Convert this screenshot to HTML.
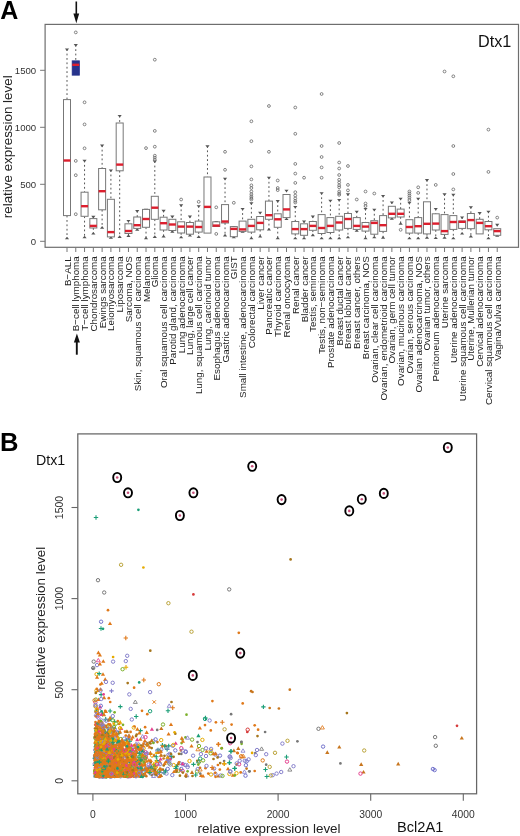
<!DOCTYPE html>
<html><head><meta charset="utf-8"><style>
html,body{margin:0;padding:0;background:#fff;}
svg{display:block;font-family:"Liberation Sans", sans-serif;filter:blur(0.3px);}
</style></head><body>
<svg width="520" height="836" viewBox="0 0 520 836">
<rect width="520" height="836" fill="#fff"/>
<g id="panelA">
<text x="0.3" y="19.2" font-size="25" font-weight="bold" fill="#000">A</text>
<rect x="45.1" y="24.4" width="473.4" height="222.9" fill="none" stroke="#6e6e6e" stroke-width="1.2"/>
<line x1="40.1" y1="241.30" x2="45.1" y2="241.30" stroke="#777" stroke-width="1"/>
<text x="36.2" y="244.70" font-size="9.6" text-anchor="end" fill="#333">0</text>
<line x1="40.1" y1="184.30" x2="45.1" y2="184.30" stroke="#777" stroke-width="1"/>
<text x="36.2" y="187.70" font-size="9.6" text-anchor="end" fill="#333">500</text>
<line x1="40.1" y1="127.30" x2="45.1" y2="127.30" stroke="#777" stroke-width="1"/>
<text x="36.2" y="130.70" font-size="9.6" text-anchor="end" fill="#333">1000</text>
<line x1="40.1" y1="70.30" x2="45.1" y2="70.30" stroke="#777" stroke-width="1"/>
<text x="36.2" y="73.70" font-size="9.6" text-anchor="end" fill="#333">1500</text>
<text transform="translate(12.4,146.8) rotate(-90)" font-size="13.4" text-anchor="middle" fill="#222">relative expression level</text>
<text x="511.3" y="46.7" font-size="16.2" text-anchor="end" fill="#111">Dtx1</text>
<line x1="67.00" y1="247.3" x2="67.00" y2="252" stroke="#777" stroke-width="1"/>
<text transform="translate(70.50,256.3) rotate(-90)" font-size="9.8" text-anchor="end" fill="#222">B−ALL</text>
<line x1="75.78" y1="247.3" x2="75.78" y2="252" stroke="#777" stroke-width="1"/>
<text transform="translate(79.28,256.3) rotate(-90)" font-size="9.8" text-anchor="end" fill="#222">B−cell lymphoma</text>
<line x1="84.56" y1="247.3" x2="84.56" y2="252" stroke="#777" stroke-width="1"/>
<text transform="translate(88.06,256.3) rotate(-90)" font-size="9.8" text-anchor="end" fill="#222">T−cell lymphoma</text>
<line x1="93.34" y1="247.3" x2="93.34" y2="252" stroke="#777" stroke-width="1"/>
<text transform="translate(96.84,256.3) rotate(-90)" font-size="9.8" text-anchor="end" fill="#222">Chondrosarcoma</text>
<line x1="102.12" y1="247.3" x2="102.12" y2="252" stroke="#777" stroke-width="1"/>
<text transform="translate(105.62,256.3) rotate(-90)" font-size="9.8" text-anchor="end" fill="#222">Ewings sarcoma</text>
<line x1="110.90" y1="247.3" x2="110.90" y2="252" stroke="#777" stroke-width="1"/>
<text transform="translate(114.40,256.3) rotate(-90)" font-size="9.8" text-anchor="end" fill="#222">Leiomyosarcoma</text>
<line x1="119.68" y1="247.3" x2="119.68" y2="252" stroke="#777" stroke-width="1"/>
<text transform="translate(123.18,256.3) rotate(-90)" font-size="9.8" text-anchor="end" fill="#222">Liposarcoma</text>
<line x1="128.46" y1="247.3" x2="128.46" y2="252" stroke="#777" stroke-width="1"/>
<text transform="translate(131.96,256.3) rotate(-90)" font-size="9.8" text-anchor="end" fill="#222">Sarcoma, NOS</text>
<line x1="137.24" y1="247.3" x2="137.24" y2="252" stroke="#777" stroke-width="1"/>
<text transform="translate(140.74,256.3) rotate(-90)" font-size="9.8" text-anchor="end" fill="#222">Skin, squamous cell carcinoma</text>
<line x1="146.02" y1="247.3" x2="146.02" y2="252" stroke="#777" stroke-width="1"/>
<text transform="translate(149.52,256.3) rotate(-90)" font-size="9.8" text-anchor="end" fill="#222">Melanoma</text>
<line x1="154.80" y1="247.3" x2="154.80" y2="252" stroke="#777" stroke-width="1"/>
<text transform="translate(158.30,256.3) rotate(-90)" font-size="9.8" text-anchor="end" fill="#222">Glioma</text>
<line x1="163.58" y1="247.3" x2="163.58" y2="252" stroke="#777" stroke-width="1"/>
<text transform="translate(167.08,256.3) rotate(-90)" font-size="9.8" text-anchor="end" fill="#222">Oral squamous cell carcinoma</text>
<line x1="172.36" y1="247.3" x2="172.36" y2="252" stroke="#777" stroke-width="1"/>
<text transform="translate(175.86,256.3) rotate(-90)" font-size="9.8" text-anchor="end" fill="#222">Parotid gland, carcinoma</text>
<line x1="181.14" y1="247.3" x2="181.14" y2="252" stroke="#777" stroke-width="1"/>
<text transform="translate(184.64,256.3) rotate(-90)" font-size="9.8" text-anchor="end" fill="#222">Lung adenocarcinoma</text>
<line x1="189.92" y1="247.3" x2="189.92" y2="252" stroke="#777" stroke-width="1"/>
<text transform="translate(193.42,256.3) rotate(-90)" font-size="9.8" text-anchor="end" fill="#222">Lung, large cell cancer</text>
<line x1="198.70" y1="247.3" x2="198.70" y2="252" stroke="#777" stroke-width="1"/>
<text transform="translate(202.20,256.3) rotate(-90)" font-size="9.8" text-anchor="end" fill="#222">Lung, squamous cell carcinoma</text>
<line x1="207.48" y1="247.3" x2="207.48" y2="252" stroke="#777" stroke-width="1"/>
<text transform="translate(210.98,256.3) rotate(-90)" font-size="9.8" text-anchor="end" fill="#222">Lung, carcinoid tumor</text>
<line x1="216.26" y1="247.3" x2="216.26" y2="252" stroke="#777" stroke-width="1"/>
<text transform="translate(219.76,256.3) rotate(-90)" font-size="9.8" text-anchor="end" fill="#222">Esophagus adenocarcinoma</text>
<line x1="225.04" y1="247.3" x2="225.04" y2="252" stroke="#777" stroke-width="1"/>
<text transform="translate(228.54,256.3) rotate(-90)" font-size="9.8" text-anchor="end" fill="#222">Gastric adenocarcinoma</text>
<line x1="233.82" y1="247.3" x2="233.82" y2="252" stroke="#777" stroke-width="1"/>
<text transform="translate(237.32,256.3) rotate(-90)" font-size="9.8" text-anchor="end" fill="#222">GIST</text>
<line x1="242.60" y1="247.3" x2="242.60" y2="252" stroke="#777" stroke-width="1"/>
<text transform="translate(246.10,256.3) rotate(-90)" font-size="9.8" text-anchor="end" fill="#222">Small intestine, adenocarcinoma</text>
<line x1="251.38" y1="247.3" x2="251.38" y2="252" stroke="#777" stroke-width="1"/>
<text transform="translate(254.88,256.3) rotate(-90)" font-size="9.8" text-anchor="end" fill="#222">Colorectal carcinoma</text>
<line x1="260.16" y1="247.3" x2="260.16" y2="252" stroke="#777" stroke-width="1"/>
<text transform="translate(263.66,256.3) rotate(-90)" font-size="9.8" text-anchor="end" fill="#222">Liver cancer</text>
<line x1="268.94" y1="247.3" x2="268.94" y2="252" stroke="#777" stroke-width="1"/>
<text transform="translate(272.44,256.3) rotate(-90)" font-size="9.8" text-anchor="end" fill="#222">Pancreatic cancer</text>
<line x1="277.72" y1="247.3" x2="277.72" y2="252" stroke="#777" stroke-width="1"/>
<text transform="translate(281.22,256.3) rotate(-90)" font-size="9.8" text-anchor="end" fill="#222">Thyroid carcinoma</text>
<line x1="286.50" y1="247.3" x2="286.50" y2="252" stroke="#777" stroke-width="1"/>
<text transform="translate(290.00,256.3) rotate(-90)" font-size="9.8" text-anchor="end" fill="#222">Renal oncocytoma</text>
<line x1="295.28" y1="247.3" x2="295.28" y2="252" stroke="#777" stroke-width="1"/>
<text transform="translate(298.78,256.3) rotate(-90)" font-size="9.8" text-anchor="end" fill="#222">Renal cancer</text>
<line x1="304.06" y1="247.3" x2="304.06" y2="252" stroke="#777" stroke-width="1"/>
<text transform="translate(307.56,256.3) rotate(-90)" font-size="9.8" text-anchor="end" fill="#222">Bladder cancer</text>
<line x1="312.84" y1="247.3" x2="312.84" y2="252" stroke="#777" stroke-width="1"/>
<text transform="translate(316.34,256.3) rotate(-90)" font-size="9.8" text-anchor="end" fill="#222">Testis, seminoma</text>
<line x1="321.62" y1="247.3" x2="321.62" y2="252" stroke="#777" stroke-width="1"/>
<text transform="translate(325.12,256.3) rotate(-90)" font-size="9.8" text-anchor="end" fill="#222">Testis, non−seminoma</text>
<line x1="330.40" y1="247.3" x2="330.40" y2="252" stroke="#777" stroke-width="1"/>
<text transform="translate(333.90,256.3) rotate(-90)" font-size="9.8" text-anchor="end" fill="#222">Prostate adenocarcinoma</text>
<line x1="339.18" y1="247.3" x2="339.18" y2="252" stroke="#777" stroke-width="1"/>
<text transform="translate(342.68,256.3) rotate(-90)" font-size="9.8" text-anchor="end" fill="#222">Breast ductal cancer</text>
<line x1="347.96" y1="247.3" x2="347.96" y2="252" stroke="#777" stroke-width="1"/>
<text transform="translate(351.46,256.3) rotate(-90)" font-size="9.8" text-anchor="end" fill="#222">Breast lobular cancer</text>
<line x1="356.74" y1="247.3" x2="356.74" y2="252" stroke="#777" stroke-width="1"/>
<text transform="translate(360.24,256.3) rotate(-90)" font-size="9.8" text-anchor="end" fill="#222">Breast cancer, others</text>
<line x1="365.52" y1="247.3" x2="365.52" y2="252" stroke="#777" stroke-width="1"/>
<text transform="translate(369.02,256.3) rotate(-90)" font-size="9.8" text-anchor="end" fill="#222">Breast carcinoma, NOS</text>
<line x1="374.30" y1="247.3" x2="374.30" y2="252" stroke="#777" stroke-width="1"/>
<text transform="translate(377.80,256.3) rotate(-90)" font-size="9.8" text-anchor="end" fill="#222">Ovarian, clear cell carcinoma</text>
<line x1="383.08" y1="247.3" x2="383.08" y2="252" stroke="#777" stroke-width="1"/>
<text transform="translate(386.58,256.3) rotate(-90)" font-size="9.8" text-anchor="end" fill="#222">Ovarian, endometrioid carcinoma</text>
<line x1="391.86" y1="247.3" x2="391.86" y2="252" stroke="#777" stroke-width="1"/>
<text transform="translate(395.36,256.3) rotate(-90)" font-size="9.8" text-anchor="end" fill="#222">Ovarian, germ cell tumor</text>
<line x1="400.64" y1="247.3" x2="400.64" y2="252" stroke="#777" stroke-width="1"/>
<text transform="translate(404.14,256.3) rotate(-90)" font-size="9.8" text-anchor="end" fill="#222">Ovarian, mucinous carcinoma</text>
<line x1="409.42" y1="247.3" x2="409.42" y2="252" stroke="#777" stroke-width="1"/>
<text transform="translate(412.92,256.3) rotate(-90)" font-size="9.8" text-anchor="end" fill="#222">Ovarian, serous carcinoma</text>
<line x1="418.20" y1="247.3" x2="418.20" y2="252" stroke="#777" stroke-width="1"/>
<text transform="translate(421.70,256.3) rotate(-90)" font-size="9.8" text-anchor="end" fill="#222">Ovarian adenocarcinoma, NOS</text>
<line x1="426.98" y1="247.3" x2="426.98" y2="252" stroke="#777" stroke-width="1"/>
<text transform="translate(430.48,256.3) rotate(-90)" font-size="9.8" text-anchor="end" fill="#222">Ovarian tumor, others</text>
<line x1="435.76" y1="247.3" x2="435.76" y2="252" stroke="#777" stroke-width="1"/>
<text transform="translate(439.26,256.3) rotate(-90)" font-size="9.8" text-anchor="end" fill="#222">Peritoneum adenocarcinoma</text>
<line x1="444.54" y1="247.3" x2="444.54" y2="252" stroke="#777" stroke-width="1"/>
<text transform="translate(448.04,256.3) rotate(-90)" font-size="9.8" text-anchor="end" fill="#222">Uterine sarcoma</text>
<line x1="453.32" y1="247.3" x2="453.32" y2="252" stroke="#777" stroke-width="1"/>
<text transform="translate(456.82,256.3) rotate(-90)" font-size="9.8" text-anchor="end" fill="#222">Uterine adenocarcinoma</text>
<line x1="462.10" y1="247.3" x2="462.10" y2="252" stroke="#777" stroke-width="1"/>
<text transform="translate(465.60,256.3) rotate(-90)" font-size="9.8" text-anchor="end" fill="#222">Uterine squamous cell carcinoma</text>
<line x1="470.88" y1="247.3" x2="470.88" y2="252" stroke="#777" stroke-width="1"/>
<text transform="translate(474.38,256.3) rotate(-90)" font-size="9.8" text-anchor="end" fill="#222">Uterine, Mullerian tumor</text>
<line x1="479.66" y1="247.3" x2="479.66" y2="252" stroke="#777" stroke-width="1"/>
<text transform="translate(483.16,256.3) rotate(-90)" font-size="9.8" text-anchor="end" fill="#222">Cervical adenocarcinoma</text>
<line x1="488.44" y1="247.3" x2="488.44" y2="252" stroke="#777" stroke-width="1"/>
<text transform="translate(491.94,256.3) rotate(-90)" font-size="9.8" text-anchor="end" fill="#222">Cervical squamous cell carcinoma</text>
<line x1="497.22" y1="247.3" x2="497.22" y2="252" stroke="#777" stroke-width="1"/>
<text transform="translate(500.72,256.3) rotate(-90)" font-size="9.8" text-anchor="end" fill="#222">Vagina/Vulva carcinoma</text>
<line x1="67.00" y1="49.20" x2="67.00" y2="99.60" stroke="#555" stroke-width="1" stroke-dasharray="1.8 2.6"/>
<path d="M64.90 48.50h4.2l-2.1 2.6z" fill="#555"/>
<line x1="67.00" y1="215.60" x2="67.00" y2="238.60" stroke="#555" stroke-width="1" stroke-dasharray="1.8 2.6"/>
<path d="M64.90 239.30h4.2l-2.1 -2.6z" fill="#555"/>
<rect x="63.50" y="99.60" width="7.0" height="116.00" fill="#fff" stroke="#777" stroke-width="1"/>
<line x1="63.50" y1="160.50" x2="70.50" y2="160.50" stroke="#dc1f2e" stroke-width="2.4"/>
<line x1="75.78" y1="44.80" x2="75.78" y2="60.90" stroke="#555" stroke-width="1" stroke-dasharray="1.8 2.6"/>
<path d="M73.68 44.10h4.2l-2.1 2.6z" fill="#555"/>
<rect x="72.28" y="60.90" width="7.0" height="14.20" fill="#26338c" stroke="#26338c" stroke-width="1"/>
<line x1="72.28" y1="64.80" x2="79.28" y2="64.80" stroke="#dc1f2e" stroke-width="2.4"/>
<circle cx="75.78" cy="32.40" r="1.4" fill="none" stroke="#666" stroke-width="0.8"/>
<circle cx="75.78" cy="160.90" r="1.4" fill="none" stroke="#666" stroke-width="0.8"/>
<circle cx="75.78" cy="175.20" r="1.4" fill="none" stroke="#666" stroke-width="0.8"/>
<circle cx="75.78" cy="214.20" r="1.4" fill="none" stroke="#666" stroke-width="0.8"/>
<line x1="84.56" y1="160.50" x2="84.56" y2="192.20" stroke="#555" stroke-width="1" stroke-dasharray="1.8 2.6"/>
<path d="M82.46 159.80h4.2l-2.1 2.6z" fill="#555"/>
<line x1="84.56" y1="216.30" x2="84.56" y2="237.60" stroke="#555" stroke-width="1" stroke-dasharray="1.8 2.6"/>
<path d="M82.46 238.30h4.2l-2.1 -2.6z" fill="#555"/>
<rect x="81.06" y="192.20" width="7.0" height="24.10" fill="#fff" stroke="#777" stroke-width="1"/>
<line x1="81.06" y1="206.20" x2="88.06" y2="206.20" stroke="#dc1f2e" stroke-width="2.4"/>
<circle cx="84.56" cy="102.30" r="1.4" fill="none" stroke="#666" stroke-width="0.8"/>
<circle cx="84.56" cy="124.40" r="1.4" fill="none" stroke="#666" stroke-width="0.8"/>
<circle cx="84.56" cy="148.30" r="1.4" fill="none" stroke="#666" stroke-width="0.8"/>
<line x1="93.34" y1="216.50" x2="93.34" y2="218.60" stroke="#555" stroke-width="1" stroke-dasharray="1.8 2.6"/>
<path d="M91.24 215.80h4.2l-2.1 2.6z" fill="#555"/>
<line x1="93.34" y1="228.00" x2="93.34" y2="233.90" stroke="#555" stroke-width="1" stroke-dasharray="1.8 2.6"/>
<path d="M91.24 234.60h4.2l-2.1 -2.6z" fill="#555"/>
<rect x="89.84" y="218.60" width="7.0" height="9.40" fill="#fff" stroke="#777" stroke-width="1"/>
<line x1="89.84" y1="225.90" x2="96.84" y2="225.90" stroke="#dc1f2e" stroke-width="2.4"/>
<line x1="102.12" y1="145.30" x2="102.12" y2="168.50" stroke="#555" stroke-width="1" stroke-dasharray="1.8 2.6"/>
<path d="M100.02 144.60h4.2l-2.1 2.6z" fill="#555"/>
<line x1="102.12" y1="209.80" x2="102.12" y2="228.00" stroke="#555" stroke-width="1" stroke-dasharray="1.8 2.6"/>
<path d="M100.02 228.70h4.2l-2.1 -2.6z" fill="#555"/>
<rect x="98.62" y="168.50" width="7.0" height="41.30" fill="#fff" stroke="#777" stroke-width="1"/>
<line x1="98.62" y1="191.20" x2="105.62" y2="191.20" stroke="#dc1f2e" stroke-width="2.4"/>
<line x1="110.90" y1="170.10" x2="110.90" y2="199.30" stroke="#555" stroke-width="1" stroke-dasharray="1.8 2.6"/>
<path d="M108.80 169.40h4.2l-2.1 2.6z" fill="#555"/>
<line x1="110.90" y1="236.90" x2="110.90" y2="238.00" stroke="#555" stroke-width="1" stroke-dasharray="1.8 2.6"/>
<path d="M108.80 238.70h4.2l-2.1 -2.6z" fill="#555"/>
<rect x="107.40" y="199.30" width="7.0" height="37.60" fill="#fff" stroke="#777" stroke-width="1"/>
<line x1="107.40" y1="232.10" x2="114.40" y2="232.10" stroke="#dc1f2e" stroke-width="2.4"/>
<line x1="119.68" y1="115.70" x2="119.68" y2="123.00" stroke="#555" stroke-width="1" stroke-dasharray="1.8 2.6"/>
<path d="M117.58 115.00h4.2l-2.1 2.6z" fill="#555"/>
<line x1="119.68" y1="170.80" x2="119.68" y2="237.20" stroke="#555" stroke-width="1" stroke-dasharray="1.8 2.6"/>
<path d="M117.58 237.90h4.2l-2.1 -2.6z" fill="#555"/>
<rect x="116.18" y="123.00" width="7.0" height="47.80" fill="#fff" stroke="#777" stroke-width="1"/>
<line x1="116.18" y1="164.60" x2="123.18" y2="164.60" stroke="#dc1f2e" stroke-width="2.4"/>
<line x1="128.46" y1="220.70" x2="128.46" y2="223.80" stroke="#555" stroke-width="1" stroke-dasharray="1.8 2.6"/>
<path d="M126.36 220.00h4.2l-2.1 2.6z" fill="#555"/>
<line x1="128.46" y1="233.50" x2="128.46" y2="236.20" stroke="#555" stroke-width="1" stroke-dasharray="1.8 2.6"/>
<path d="M126.36 236.90h4.2l-2.1 -2.6z" fill="#555"/>
<rect x="124.96" y="223.80" width="7.0" height="9.70" fill="#fff" stroke="#777" stroke-width="1"/>
<line x1="124.96" y1="231.00" x2="131.96" y2="231.00" stroke="#dc1f2e" stroke-width="2.4"/>
<line x1="137.24" y1="210.80" x2="137.24" y2="217.00" stroke="#555" stroke-width="1" stroke-dasharray="1.8 2.6"/>
<path d="M135.14 210.10h4.2l-2.1 2.6z" fill="#555"/>
<line x1="137.24" y1="228.40" x2="137.24" y2="230.00" stroke="#555" stroke-width="1" stroke-dasharray="1.8 2.6"/>
<path d="M135.14 230.70h4.2l-2.1 -2.6z" fill="#555"/>
<rect x="133.74" y="217.00" width="7.0" height="11.40" fill="#fff" stroke="#777" stroke-width="1"/>
<line x1="133.74" y1="225.20" x2="140.74" y2="225.20" stroke="#dc1f2e" stroke-width="2.4"/>
<path d="M143.92 208.70h4.2l-2.1 2.6z" fill="#555"/>
<line x1="146.02" y1="227.30" x2="146.02" y2="238.60" stroke="#555" stroke-width="1" stroke-dasharray="1.8 2.6"/>
<path d="M143.92 239.30h4.2l-2.1 -2.6z" fill="#555"/>
<rect x="142.52" y="209.40" width="7.0" height="17.90" fill="#fff" stroke="#777" stroke-width="1"/>
<line x1="142.52" y1="219.00" x2="149.52" y2="219.00" stroke="#dc1f2e" stroke-width="2.4"/>
<circle cx="146.02" cy="148.10" r="1.4" fill="none" stroke="#666" stroke-width="0.8"/>
<line x1="154.80" y1="161.20" x2="154.80" y2="196.30" stroke="#555" stroke-width="1" stroke-dasharray="1.8 2.6"/>
<path d="M152.70 160.50h4.2l-2.1 2.6z" fill="#555"/>
<line x1="154.80" y1="219.30" x2="154.80" y2="237.20" stroke="#555" stroke-width="1" stroke-dasharray="1.8 2.6"/>
<path d="M152.70 237.90h4.2l-2.1 -2.6z" fill="#555"/>
<rect x="151.30" y="196.30" width="7.0" height="23.00" fill="#fff" stroke="#777" stroke-width="1"/>
<line x1="151.30" y1="207.70" x2="158.30" y2="207.70" stroke="#dc1f2e" stroke-width="2.4"/>
<circle cx="154.80" cy="59.70" r="1.4" fill="none" stroke="#666" stroke-width="0.8"/>
<circle cx="154.80" cy="130.90" r="1.4" fill="none" stroke="#666" stroke-width="0.8"/>
<circle cx="154.80" cy="146.70" r="1.4" fill="none" stroke="#666" stroke-width="0.8"/>
<circle cx="154.80" cy="155.70" r="1.4" fill="none" stroke="#666" stroke-width="0.8"/>
<circle cx="154.80" cy="157.70" r="1.4" fill="none" stroke="#666" stroke-width="0.8"/>
<circle cx="154.80" cy="159.80" r="1.4" fill="none" stroke="#666" stroke-width="0.8"/>
<line x1="163.58" y1="210.50" x2="163.58" y2="217.20" stroke="#555" stroke-width="1" stroke-dasharray="1.8 2.6"/>
<path d="M161.48 209.80h4.2l-2.1 2.6z" fill="#555"/>
<line x1="163.58" y1="230.00" x2="163.58" y2="236.70" stroke="#555" stroke-width="1" stroke-dasharray="1.8 2.6"/>
<path d="M161.48 237.40h4.2l-2.1 -2.6z" fill="#555"/>
<rect x="160.08" y="217.20" width="7.0" height="12.80" fill="#fff" stroke="#777" stroke-width="1"/>
<line x1="160.08" y1="223.20" x2="167.08" y2="223.20" stroke="#dc1f2e" stroke-width="2.4"/>
<line x1="172.36" y1="216.30" x2="172.36" y2="219.30" stroke="#555" stroke-width="1" stroke-dasharray="1.8 2.6"/>
<path d="M170.26 215.60h4.2l-2.1 2.6z" fill="#555"/>
<line x1="172.36" y1="230.50" x2="172.36" y2="232.00" stroke="#555" stroke-width="1" stroke-dasharray="1.8 2.6"/>
<path d="M170.26 232.70h4.2l-2.1 -2.6z" fill="#555"/>
<rect x="168.86" y="219.30" width="7.0" height="11.20" fill="#fff" stroke="#777" stroke-width="1"/>
<line x1="168.86" y1="224.50" x2="175.86" y2="224.50" stroke="#dc1f2e" stroke-width="2.4"/>
<line x1="181.14" y1="205.00" x2="181.14" y2="221.80" stroke="#555" stroke-width="1" stroke-dasharray="1.8 2.6"/>
<path d="M179.04 204.30h4.2l-2.1 2.6z" fill="#555"/>
<line x1="181.14" y1="233.00" x2="181.14" y2="237.60" stroke="#555" stroke-width="1" stroke-dasharray="1.8 2.6"/>
<path d="M179.04 238.30h4.2l-2.1 -2.6z" fill="#555"/>
<rect x="177.64" y="221.80" width="7.0" height="11.20" fill="#fff" stroke="#777" stroke-width="1"/>
<line x1="177.64" y1="226.60" x2="184.64" y2="226.60" stroke="#dc1f2e" stroke-width="2.4"/>
<circle cx="181.14" cy="199.50" r="1.4" fill="none" stroke="#666" stroke-width="0.8"/>
<line x1="189.92" y1="216.30" x2="189.92" y2="222.50" stroke="#555" stroke-width="1" stroke-dasharray="1.8 2.6"/>
<path d="M187.82 215.60h4.2l-2.1 2.6z" fill="#555"/>
<line x1="189.92" y1="234.20" x2="189.92" y2="235.80" stroke="#555" stroke-width="1" stroke-dasharray="1.8 2.6"/>
<path d="M187.82 236.50h4.2l-2.1 -2.6z" fill="#555"/>
<rect x="186.42" y="222.50" width="7.0" height="11.70" fill="#fff" stroke="#777" stroke-width="1"/>
<line x1="186.42" y1="226.60" x2="193.42" y2="226.60" stroke="#dc1f2e" stroke-width="2.4"/>
<line x1="198.70" y1="205.90" x2="198.70" y2="221.10" stroke="#555" stroke-width="1" stroke-dasharray="1.8 2.6"/>
<path d="M196.60 205.20h4.2l-2.1 2.6z" fill="#555"/>
<line x1="198.70" y1="232.10" x2="198.70" y2="237.20" stroke="#555" stroke-width="1" stroke-dasharray="1.8 2.6"/>
<path d="M196.60 237.90h4.2l-2.1 -2.6z" fill="#555"/>
<rect x="195.20" y="221.10" width="7.0" height="11.00" fill="#fff" stroke="#777" stroke-width="1"/>
<line x1="195.20" y1="227.00" x2="202.20" y2="227.00" stroke="#dc1f2e" stroke-width="2.4"/>
<circle cx="198.70" cy="201.80" r="1.4" fill="none" stroke="#666" stroke-width="0.8"/>
<line x1="207.48" y1="146.00" x2="207.48" y2="177.00" stroke="#555" stroke-width="1" stroke-dasharray="1.8 2.6"/>
<path d="M205.38 145.30h4.2l-2.1 2.6z" fill="#555"/>
<rect x="203.98" y="177.00" width="7.0" height="56.10" fill="#fff" stroke="#777" stroke-width="1"/>
<line x1="203.98" y1="206.90" x2="210.98" y2="206.90" stroke="#dc1f2e" stroke-width="2.4"/>
<path d="M214.16 221.10h4.2l-2.1 2.6z" fill="#555"/>
<rect x="212.76" y="221.80" width="7.0" height="4.70" fill="#fff" stroke="#777" stroke-width="1"/>
<line x1="212.76" y1="225.60" x2="219.76" y2="225.60" stroke="#dc1f2e" stroke-width="2.4"/>
<circle cx="216.26" cy="207.30" r="1.4" fill="none" stroke="#666" stroke-width="0.8"/>
<circle cx="216.26" cy="233.90" r="1.4" fill="none" stroke="#666" stroke-width="0.8"/>
<line x1="225.04" y1="178.40" x2="225.04" y2="204.60" stroke="#555" stroke-width="1" stroke-dasharray="1.8 2.6"/>
<path d="M222.94 177.70h4.2l-2.1 2.6z" fill="#555"/>
<line x1="225.04" y1="223.00" x2="225.04" y2="235.70" stroke="#555" stroke-width="1" stroke-dasharray="1.8 2.6"/>
<path d="M222.94 236.40h4.2l-2.1 -2.6z" fill="#555"/>
<rect x="221.54" y="204.60" width="7.0" height="18.40" fill="#fff" stroke="#777" stroke-width="1"/>
<line x1="221.54" y1="221.50" x2="228.54" y2="221.50" stroke="#dc1f2e" stroke-width="2.4"/>
<circle cx="225.04" cy="151.80" r="1.4" fill="none" stroke="#666" stroke-width="0.8"/>
<circle cx="225.04" cy="169.80" r="1.4" fill="none" stroke="#666" stroke-width="0.8"/>
<path d="M231.72 225.90h4.2l-2.1 2.6z" fill="#555"/>
<line x1="233.82" y1="236.70" x2="233.82" y2="237.60" stroke="#555" stroke-width="1" stroke-dasharray="1.8 2.6"/>
<path d="M231.72 238.30h4.2l-2.1 -2.6z" fill="#555"/>
<rect x="230.32" y="226.60" width="7.0" height="10.10" fill="#fff" stroke="#777" stroke-width="1"/>
<line x1="230.32" y1="228.90" x2="237.32" y2="228.90" stroke="#dc1f2e" stroke-width="2.4"/>
<circle cx="233.82" cy="202.80" r="1.4" fill="none" stroke="#666" stroke-width="0.8"/>
<line x1="242.60" y1="208.70" x2="242.60" y2="221.10" stroke="#555" stroke-width="1" stroke-dasharray="1.8 2.6"/>
<path d="M240.50 208.00h4.2l-2.1 2.6z" fill="#555"/>
<line x1="242.60" y1="231.40" x2="242.60" y2="232.00" stroke="#555" stroke-width="1" stroke-dasharray="1.8 2.6"/>
<path d="M240.50 232.70h4.2l-2.1 -2.6z" fill="#555"/>
<rect x="239.10" y="221.10" width="7.0" height="10.30" fill="#fff" stroke="#777" stroke-width="1"/>
<line x1="239.10" y1="229.40" x2="246.10" y2="229.40" stroke="#dc1f2e" stroke-width="2.4"/>
<line x1="251.38" y1="203.00" x2="251.38" y2="219.30" stroke="#555" stroke-width="1" stroke-dasharray="1.8 2.6"/>
<path d="M249.28 202.30h4.2l-2.1 2.6z" fill="#555"/>
<line x1="251.38" y1="232.10" x2="251.38" y2="238.60" stroke="#555" stroke-width="1" stroke-dasharray="1.8 2.6"/>
<path d="M249.28 239.30h4.2l-2.1 -2.6z" fill="#555"/>
<rect x="247.88" y="219.30" width="7.0" height="12.80" fill="#fff" stroke="#777" stroke-width="1"/>
<line x1="247.88" y1="225.90" x2="254.88" y2="225.90" stroke="#dc1f2e" stroke-width="2.4"/>
<circle cx="251.38" cy="121.30" r="1.4" fill="none" stroke="#666" stroke-width="0.8"/>
<circle cx="251.38" cy="141.20" r="1.4" fill="none" stroke="#666" stroke-width="0.8"/>
<circle cx="251.38" cy="166.40" r="1.4" fill="none" stroke="#666" stroke-width="0.8"/>
<circle cx="251.38" cy="179.40" r="1.4" fill="none" stroke="#666" stroke-width="0.8"/>
<circle cx="251.38" cy="185.30" r="1.4" fill="none" stroke="#666" stroke-width="0.8"/>
<circle cx="251.38" cy="188.00" r="1.4" fill="none" stroke="#666" stroke-width="0.8"/>
<circle cx="251.38" cy="191.50" r="1.4" fill="none" stroke="#666" stroke-width="0.8"/>
<circle cx="251.38" cy="194.20" r="1.4" fill="none" stroke="#666" stroke-width="0.8"/>
<circle cx="251.38" cy="196.30" r="1.4" fill="none" stroke="#666" stroke-width="0.8"/>
<circle cx="251.38" cy="198.10" r="1.4" fill="none" stroke="#666" stroke-width="0.8"/>
<circle cx="251.38" cy="199.50" r="1.4" fill="none" stroke="#666" stroke-width="0.8"/>
<line x1="260.16" y1="212.40" x2="260.16" y2="216.50" stroke="#555" stroke-width="1" stroke-dasharray="1.8 2.6"/>
<path d="M258.06 211.70h4.2l-2.1 2.6z" fill="#555"/>
<line x1="260.16" y1="229.80" x2="260.16" y2="236.90" stroke="#555" stroke-width="1" stroke-dasharray="1.8 2.6"/>
<path d="M258.06 237.60h4.2l-2.1 -2.6z" fill="#555"/>
<rect x="256.66" y="216.50" width="7.0" height="13.30" fill="#fff" stroke="#777" stroke-width="1"/>
<line x1="256.66" y1="222.90" x2="263.66" y2="222.90" stroke="#dc1f2e" stroke-width="2.4"/>
<line x1="268.94" y1="177.40" x2="268.94" y2="201.10" stroke="#555" stroke-width="1" stroke-dasharray="1.8 2.6"/>
<path d="M266.84 176.70h4.2l-2.1 2.6z" fill="#555"/>
<line x1="268.94" y1="219.30" x2="268.94" y2="229.80" stroke="#555" stroke-width="1" stroke-dasharray="1.8 2.6"/>
<path d="M266.84 230.50h4.2l-2.1 -2.6z" fill="#555"/>
<rect x="265.44" y="201.10" width="7.0" height="18.20" fill="#fff" stroke="#777" stroke-width="1"/>
<line x1="265.44" y1="215.20" x2="272.44" y2="215.20" stroke="#dc1f2e" stroke-width="2.4"/>
<circle cx="268.94" cy="106.00" r="1.4" fill="none" stroke="#666" stroke-width="0.8"/>
<circle cx="268.94" cy="151.80" r="1.4" fill="none" stroke="#666" stroke-width="0.8"/>
<line x1="277.72" y1="200.80" x2="277.72" y2="213.80" stroke="#555" stroke-width="1" stroke-dasharray="1.8 2.6"/>
<path d="M275.62 200.10h4.2l-2.1 2.6z" fill="#555"/>
<line x1="277.72" y1="227.30" x2="277.72" y2="238.60" stroke="#555" stroke-width="1" stroke-dasharray="1.8 2.6"/>
<path d="M275.62 239.30h4.2l-2.1 -2.6z" fill="#555"/>
<rect x="274.22" y="213.80" width="7.0" height="13.50" fill="#fff" stroke="#777" stroke-width="1"/>
<line x1="274.22" y1="219.30" x2="281.22" y2="219.30" stroke="#dc1f2e" stroke-width="2.4"/>
<circle cx="277.72" cy="180.50" r="1.4" fill="none" stroke="#666" stroke-width="0.8"/>
<circle cx="277.72" cy="188.00" r="1.4" fill="none" stroke="#666" stroke-width="0.8"/>
<circle cx="277.72" cy="190.10" r="1.4" fill="none" stroke="#666" stroke-width="0.8"/>
<line x1="286.50" y1="190.40" x2="286.50" y2="194.50" stroke="#555" stroke-width="1" stroke-dasharray="1.8 2.6"/>
<path d="M284.40 189.70h4.2l-2.1 2.6z" fill="#555"/>
<line x1="286.50" y1="217.60" x2="286.50" y2="219.30" stroke="#555" stroke-width="1" stroke-dasharray="1.8 2.6"/>
<path d="M284.40 220.00h4.2l-2.1 -2.6z" fill="#555"/>
<rect x="283.00" y="194.50" width="7.0" height="23.10" fill="#fff" stroke="#777" stroke-width="1"/>
<line x1="283.00" y1="209.40" x2="290.00" y2="209.40" stroke="#dc1f2e" stroke-width="2.4"/>
<line x1="295.28" y1="206.60" x2="295.28" y2="221.50" stroke="#555" stroke-width="1" stroke-dasharray="1.8 2.6"/>
<path d="M293.18 205.90h4.2l-2.1 2.6z" fill="#555"/>
<line x1="295.28" y1="233.90" x2="295.28" y2="238.60" stroke="#555" stroke-width="1" stroke-dasharray="1.8 2.6"/>
<path d="M293.18 239.30h4.2l-2.1 -2.6z" fill="#555"/>
<rect x="291.78" y="221.50" width="7.0" height="12.40" fill="#fff" stroke="#777" stroke-width="1"/>
<line x1="291.78" y1="229.10" x2="298.78" y2="229.10" stroke="#dc1f2e" stroke-width="2.4"/>
<circle cx="295.28" cy="107.50" r="1.4" fill="none" stroke="#666" stroke-width="0.8"/>
<circle cx="295.28" cy="133.80" r="1.4" fill="none" stroke="#666" stroke-width="0.8"/>
<circle cx="295.28" cy="163.90" r="1.4" fill="none" stroke="#666" stroke-width="0.8"/>
<circle cx="295.28" cy="173.60" r="1.4" fill="none" stroke="#666" stroke-width="0.8"/>
<circle cx="295.28" cy="182.90" r="1.4" fill="none" stroke="#666" stroke-width="0.8"/>
<circle cx="295.28" cy="192.20" r="1.4" fill="none" stroke="#666" stroke-width="0.8"/>
<circle cx="295.28" cy="195.60" r="1.4" fill="none" stroke="#666" stroke-width="0.8"/>
<circle cx="295.28" cy="198.40" r="1.4" fill="none" stroke="#666" stroke-width="0.8"/>
<circle cx="295.28" cy="200.80" r="1.4" fill="none" stroke="#666" stroke-width="0.8"/>
<circle cx="295.28" cy="202.50" r="1.4" fill="none" stroke="#666" stroke-width="0.8"/>
<line x1="304.06" y1="221.10" x2="304.06" y2="223.80" stroke="#555" stroke-width="1" stroke-dasharray="1.8 2.6"/>
<path d="M301.96 220.40h4.2l-2.1 2.6z" fill="#555"/>
<line x1="304.06" y1="235.30" x2="304.06" y2="238.60" stroke="#555" stroke-width="1" stroke-dasharray="1.8 2.6"/>
<path d="M301.96 239.30h4.2l-2.1 -2.6z" fill="#555"/>
<rect x="300.56" y="223.80" width="7.0" height="11.50" fill="#fff" stroke="#777" stroke-width="1"/>
<line x1="300.56" y1="229.10" x2="307.56" y2="229.10" stroke="#dc1f2e" stroke-width="2.4"/>
<circle cx="304.06" cy="177.70" r="1.4" fill="none" stroke="#666" stroke-width="0.8"/>
<line x1="312.84" y1="216.30" x2="312.84" y2="221.50" stroke="#555" stroke-width="1" stroke-dasharray="1.8 2.6"/>
<path d="M310.74 215.60h4.2l-2.1 2.6z" fill="#555"/>
<line x1="312.84" y1="230.30" x2="312.84" y2="235.50" stroke="#555" stroke-width="1" stroke-dasharray="1.8 2.6"/>
<path d="M310.74 236.20h4.2l-2.1 -2.6z" fill="#555"/>
<rect x="309.34" y="221.50" width="7.0" height="8.80" fill="#fff" stroke="#777" stroke-width="1"/>
<line x1="309.34" y1="225.90" x2="316.34" y2="225.90" stroke="#dc1f2e" stroke-width="2.4"/>
<line x1="321.62" y1="192.90" x2="321.62" y2="214.60" stroke="#555" stroke-width="1" stroke-dasharray="1.8 2.6"/>
<path d="M319.52 192.20h4.2l-2.1 2.6z" fill="#555"/>
<line x1="321.62" y1="233.50" x2="321.62" y2="238.60" stroke="#555" stroke-width="1" stroke-dasharray="1.8 2.6"/>
<path d="M319.52 239.30h4.2l-2.1 -2.6z" fill="#555"/>
<rect x="318.12" y="214.60" width="7.0" height="18.90" fill="#fff" stroke="#777" stroke-width="1"/>
<line x1="318.12" y1="228.00" x2="325.12" y2="228.00" stroke="#dc1f2e" stroke-width="2.4"/>
<circle cx="321.62" cy="94.00" r="1.4" fill="none" stroke="#666" stroke-width="0.8"/>
<circle cx="321.62" cy="146.00" r="1.4" fill="none" stroke="#666" stroke-width="0.8"/>
<circle cx="321.62" cy="157.00" r="1.4" fill="none" stroke="#666" stroke-width="0.8"/>
<circle cx="321.62" cy="167.40" r="1.4" fill="none" stroke="#666" stroke-width="0.8"/>
<circle cx="321.62" cy="177.70" r="1.4" fill="none" stroke="#666" stroke-width="0.8"/>
<line x1="330.40" y1="200.40" x2="330.40" y2="217.60" stroke="#555" stroke-width="1" stroke-dasharray="1.8 2.6"/>
<path d="M328.30 199.70h4.2l-2.1 2.6z" fill="#555"/>
<line x1="330.40" y1="232.50" x2="330.40" y2="238.60" stroke="#555" stroke-width="1" stroke-dasharray="1.8 2.6"/>
<path d="M328.30 239.30h4.2l-2.1 -2.6z" fill="#555"/>
<rect x="326.90" y="217.60" width="7.0" height="14.90" fill="#fff" stroke="#777" stroke-width="1"/>
<line x1="326.90" y1="225.90" x2="333.90" y2="225.90" stroke="#dc1f2e" stroke-width="2.4"/>
<line x1="339.18" y1="199.70" x2="339.18" y2="216.30" stroke="#555" stroke-width="1" stroke-dasharray="1.8 2.6"/>
<path d="M337.08 199.00h4.2l-2.1 2.6z" fill="#555"/>
<line x1="339.18" y1="230.00" x2="339.18" y2="238.60" stroke="#555" stroke-width="1" stroke-dasharray="1.8 2.6"/>
<path d="M337.08 239.30h4.2l-2.1 -2.6z" fill="#555"/>
<rect x="335.68" y="216.30" width="7.0" height="13.70" fill="#fff" stroke="#777" stroke-width="1"/>
<line x1="335.68" y1="222.50" x2="342.68" y2="222.50" stroke="#dc1f2e" stroke-width="2.4"/>
<circle cx="339.18" cy="143.00" r="1.4" fill="none" stroke="#666" stroke-width="0.8"/>
<circle cx="339.18" cy="162.50" r="1.4" fill="none" stroke="#666" stroke-width="0.8"/>
<circle cx="339.18" cy="168.50" r="1.4" fill="none" stroke="#666" stroke-width="0.8"/>
<circle cx="339.18" cy="175.00" r="1.4" fill="none" stroke="#666" stroke-width="0.8"/>
<circle cx="339.18" cy="179.80" r="1.4" fill="none" stroke="#666" stroke-width="0.8"/>
<circle cx="339.18" cy="182.50" r="1.4" fill="none" stroke="#666" stroke-width="0.8"/>
<circle cx="339.18" cy="185.30" r="1.4" fill="none" stroke="#666" stroke-width="0.8"/>
<circle cx="339.18" cy="187.30" r="1.4" fill="none" stroke="#666" stroke-width="0.8"/>
<circle cx="339.18" cy="191.50" r="1.4" fill="none" stroke="#666" stroke-width="0.8"/>
<circle cx="339.18" cy="193.50" r="1.4" fill="none" stroke="#666" stroke-width="0.8"/>
<circle cx="339.18" cy="194.90" r="1.4" fill="none" stroke="#666" stroke-width="0.8"/>
<line x1="347.96" y1="194.00" x2="347.96" y2="213.50" stroke="#555" stroke-width="1" stroke-dasharray="1.8 2.6"/>
<path d="M345.86 193.30h4.2l-2.1 2.6z" fill="#555"/>
<line x1="347.96" y1="228.40" x2="347.96" y2="237.60" stroke="#555" stroke-width="1" stroke-dasharray="1.8 2.6"/>
<path d="M345.86 238.30h4.2l-2.1 -2.6z" fill="#555"/>
<rect x="344.46" y="213.50" width="7.0" height="14.90" fill="#fff" stroke="#777" stroke-width="1"/>
<line x1="344.46" y1="219.00" x2="351.46" y2="219.00" stroke="#dc1f2e" stroke-width="2.4"/>
<circle cx="347.96" cy="166.00" r="1.4" fill="none" stroke="#666" stroke-width="0.8"/>
<circle cx="347.96" cy="184.90" r="1.4" fill="none" stroke="#666" stroke-width="0.8"/>
<circle cx="347.96" cy="190.40" r="1.4" fill="none" stroke="#666" stroke-width="0.8"/>
<line x1="356.74" y1="211.40" x2="356.74" y2="217.60" stroke="#555" stroke-width="1" stroke-dasharray="1.8 2.6"/>
<path d="M354.64 210.70h4.2l-2.1 2.6z" fill="#555"/>
<line x1="356.74" y1="229.40" x2="356.74" y2="231.10" stroke="#555" stroke-width="1" stroke-dasharray="1.8 2.6"/>
<path d="M354.64 231.80h4.2l-2.1 -2.6z" fill="#555"/>
<rect x="353.24" y="217.60" width="7.0" height="11.80" fill="#fff" stroke="#777" stroke-width="1"/>
<line x1="353.24" y1="225.90" x2="360.24" y2="225.90" stroke="#dc1f2e" stroke-width="2.4"/>
<circle cx="356.74" cy="199.50" r="1.4" fill="none" stroke="#666" stroke-width="0.8"/>
<line x1="365.52" y1="208.70" x2="365.52" y2="222.50" stroke="#555" stroke-width="1" stroke-dasharray="1.8 2.6"/>
<path d="M363.42 208.00h4.2l-2.1 2.6z" fill="#555"/>
<line x1="365.52" y1="231.10" x2="365.52" y2="238.60" stroke="#555" stroke-width="1" stroke-dasharray="1.8 2.6"/>
<path d="M363.42 239.30h4.2l-2.1 -2.6z" fill="#555"/>
<rect x="362.02" y="222.50" width="7.0" height="8.60" fill="#fff" stroke="#777" stroke-width="1"/>
<line x1="362.02" y1="226.60" x2="369.02" y2="226.60" stroke="#dc1f2e" stroke-width="2.4"/>
<circle cx="365.52" cy="191.50" r="1.4" fill="none" stroke="#666" stroke-width="0.8"/>
<circle cx="365.52" cy="203.50" r="1.4" fill="none" stroke="#666" stroke-width="0.8"/>
<circle cx="365.52" cy="206.00" r="1.4" fill="none" stroke="#666" stroke-width="0.8"/>
<line x1="374.30" y1="209.40" x2="374.30" y2="220.70" stroke="#555" stroke-width="1" stroke-dasharray="1.8 2.6"/>
<path d="M372.20 208.70h4.2l-2.1 2.6z" fill="#555"/>
<line x1="374.30" y1="234.20" x2="374.30" y2="237.60" stroke="#555" stroke-width="1" stroke-dasharray="1.8 2.6"/>
<path d="M372.20 238.30h4.2l-2.1 -2.6z" fill="#555"/>
<rect x="370.80" y="220.70" width="7.0" height="13.50" fill="#fff" stroke="#777" stroke-width="1"/>
<line x1="370.80" y1="222.90" x2="377.80" y2="222.90" stroke="#dc1f2e" stroke-width="2.4"/>
<circle cx="374.30" cy="193.50" r="1.4" fill="none" stroke="#666" stroke-width="0.8"/>
<line x1="383.08" y1="195.60" x2="383.08" y2="215.60" stroke="#555" stroke-width="1" stroke-dasharray="1.8 2.6"/>
<path d="M380.98 194.90h4.2l-2.1 2.6z" fill="#555"/>
<line x1="383.08" y1="231.40" x2="383.08" y2="238.00" stroke="#555" stroke-width="1" stroke-dasharray="1.8 2.6"/>
<path d="M380.98 238.70h4.2l-2.1 -2.6z" fill="#555"/>
<rect x="379.58" y="215.60" width="7.0" height="15.80" fill="#fff" stroke="#777" stroke-width="1"/>
<line x1="379.58" y1="225.20" x2="386.58" y2="225.20" stroke="#dc1f2e" stroke-width="2.4"/>
<line x1="391.86" y1="202.20" x2="391.86" y2="206.30" stroke="#555" stroke-width="1" stroke-dasharray="1.8 2.6"/>
<path d="M389.76 201.50h4.2l-2.1 2.6z" fill="#555"/>
<line x1="391.86" y1="217.90" x2="391.86" y2="219.00" stroke="#555" stroke-width="1" stroke-dasharray="1.8 2.6"/>
<path d="M389.76 219.70h4.2l-2.1 -2.6z" fill="#555"/>
<rect x="388.36" y="206.30" width="7.0" height="11.60" fill="#fff" stroke="#777" stroke-width="1"/>
<line x1="388.36" y1="213.80" x2="395.36" y2="213.80" stroke="#dc1f2e" stroke-width="2.4"/>
<line x1="400.64" y1="198.40" x2="400.64" y2="209.10" stroke="#555" stroke-width="1" stroke-dasharray="1.8 2.6"/>
<path d="M398.54 197.70h4.2l-2.1 2.6z" fill="#555"/>
<line x1="400.64" y1="217.00" x2="400.64" y2="224.00" stroke="#555" stroke-width="1" stroke-dasharray="1.8 2.6"/>
<path d="M398.54 224.70h4.2l-2.1 -2.6z" fill="#555"/>
<rect x="397.14" y="209.10" width="7.0" height="7.90" fill="#fff" stroke="#777" stroke-width="1"/>
<line x1="397.14" y1="213.80" x2="404.14" y2="213.80" stroke="#dc1f2e" stroke-width="2.4"/>
<circle cx="400.64" cy="229.80" r="1.4" fill="none" stroke="#666" stroke-width="0.8"/>
<line x1="409.42" y1="202.50" x2="409.42" y2="219.70" stroke="#555" stroke-width="1" stroke-dasharray="1.8 2.6"/>
<path d="M407.32 201.80h4.2l-2.1 2.6z" fill="#555"/>
<line x1="409.42" y1="233.10" x2="409.42" y2="238.60" stroke="#555" stroke-width="1" stroke-dasharray="1.8 2.6"/>
<path d="M407.32 239.30h4.2l-2.1 -2.6z" fill="#555"/>
<rect x="405.92" y="219.70" width="7.0" height="13.40" fill="#fff" stroke="#777" stroke-width="1"/>
<line x1="405.92" y1="227.00" x2="412.92" y2="227.00" stroke="#dc1f2e" stroke-width="2.4"/>
<circle cx="409.42" cy="191.50" r="1.4" fill="none" stroke="#666" stroke-width="0.8"/>
<circle cx="409.42" cy="193.50" r="1.4" fill="none" stroke="#666" stroke-width="0.8"/>
<circle cx="409.42" cy="195.60" r="1.4" fill="none" stroke="#666" stroke-width="0.8"/>
<circle cx="409.42" cy="197.70" r="1.4" fill="none" stroke="#666" stroke-width="0.8"/>
<circle cx="409.42" cy="200.00" r="1.4" fill="none" stroke="#666" stroke-width="0.8"/>
<line x1="418.20" y1="198.40" x2="418.20" y2="217.60" stroke="#555" stroke-width="1" stroke-dasharray="1.8 2.6"/>
<path d="M416.10 197.70h4.2l-2.1 2.6z" fill="#555"/>
<line x1="418.20" y1="233.10" x2="418.20" y2="238.60" stroke="#555" stroke-width="1" stroke-dasharray="1.8 2.6"/>
<path d="M416.10 239.30h4.2l-2.1 -2.6z" fill="#555"/>
<rect x="414.70" y="217.60" width="7.0" height="15.50" fill="#fff" stroke="#777" stroke-width="1"/>
<line x1="414.70" y1="226.20" x2="421.70" y2="226.20" stroke="#dc1f2e" stroke-width="2.4"/>
<circle cx="418.20" cy="187.30" r="1.4" fill="none" stroke="#666" stroke-width="0.8"/>
<circle cx="418.20" cy="192.90" r="1.4" fill="none" stroke="#666" stroke-width="0.8"/>
<line x1="426.98" y1="179.80" x2="426.98" y2="201.80" stroke="#555" stroke-width="1" stroke-dasharray="1.8 2.6"/>
<path d="M424.88 179.10h4.2l-2.1 2.6z" fill="#555"/>
<line x1="426.98" y1="233.90" x2="426.98" y2="238.00" stroke="#555" stroke-width="1" stroke-dasharray="1.8 2.6"/>
<path d="M424.88 238.70h4.2l-2.1 -2.6z" fill="#555"/>
<rect x="423.48" y="201.80" width="7.0" height="32.10" fill="#fff" stroke="#777" stroke-width="1"/>
<line x1="423.48" y1="223.80" x2="430.48" y2="223.80" stroke="#dc1f2e" stroke-width="2.4"/>
<line x1="435.76" y1="208.70" x2="435.76" y2="213.80" stroke="#555" stroke-width="1" stroke-dasharray="1.8 2.6"/>
<path d="M433.66 208.00h4.2l-2.1 2.6z" fill="#555"/>
<line x1="435.76" y1="230.00" x2="435.76" y2="238.30" stroke="#555" stroke-width="1" stroke-dasharray="1.8 2.6"/>
<path d="M433.66 239.00h4.2l-2.1 -2.6z" fill="#555"/>
<rect x="432.26" y="213.80" width="7.0" height="16.20" fill="#fff" stroke="#777" stroke-width="1"/>
<line x1="432.26" y1="223.60" x2="439.26" y2="223.60" stroke="#dc1f2e" stroke-width="2.4"/>
<circle cx="435.76" cy="184.90" r="1.4" fill="none" stroke="#666" stroke-width="0.8"/>
<line x1="444.54" y1="194.00" x2="444.54" y2="214.60" stroke="#555" stroke-width="1" stroke-dasharray="1.8 2.6"/>
<path d="M442.44 193.30h4.2l-2.1 2.6z" fill="#555"/>
<line x1="444.54" y1="234.40" x2="444.54" y2="238.00" stroke="#555" stroke-width="1" stroke-dasharray="1.8 2.6"/>
<path d="M442.44 238.70h4.2l-2.1 -2.6z" fill="#555"/>
<rect x="441.04" y="214.60" width="7.0" height="19.80" fill="#fff" stroke="#777" stroke-width="1"/>
<line x1="441.04" y1="231.10" x2="448.04" y2="231.10" stroke="#dc1f2e" stroke-width="2.4"/>
<circle cx="444.54" cy="71.50" r="1.4" fill="none" stroke="#666" stroke-width="0.8"/>
<line x1="453.32" y1="194.50" x2="453.32" y2="215.60" stroke="#555" stroke-width="1" stroke-dasharray="1.8 2.6"/>
<path d="M451.22 193.80h4.2l-2.1 2.6z" fill="#555"/>
<line x1="453.32" y1="229.40" x2="453.32" y2="238.60" stroke="#555" stroke-width="1" stroke-dasharray="1.8 2.6"/>
<path d="M451.22 239.30h4.2l-2.1 -2.6z" fill="#555"/>
<rect x="449.82" y="215.60" width="7.0" height="13.80" fill="#fff" stroke="#777" stroke-width="1"/>
<line x1="449.82" y1="222.00" x2="456.82" y2="222.00" stroke="#dc1f2e" stroke-width="2.4"/>
<circle cx="453.32" cy="76.30" r="1.4" fill="none" stroke="#666" stroke-width="0.8"/>
<circle cx="453.32" cy="146.00" r="1.4" fill="none" stroke="#666" stroke-width="0.8"/>
<circle cx="453.32" cy="174.00" r="1.4" fill="none" stroke="#666" stroke-width="0.8"/>
<circle cx="453.32" cy="189.40" r="1.4" fill="none" stroke="#666" stroke-width="0.8"/>
<line x1="462.10" y1="217.20" x2="462.10" y2="221.00" stroke="#555" stroke-width="1" stroke-dasharray="1.8 2.6"/>
<path d="M460.00 216.50h4.2l-2.1 2.6z" fill="#555"/>
<line x1="462.10" y1="228.40" x2="462.10" y2="233.90" stroke="#555" stroke-width="1" stroke-dasharray="1.8 2.6"/>
<path d="M460.00 234.60h4.2l-2.1 -2.6z" fill="#555"/>
<rect x="458.60" y="221.00" width="7.0" height="7.40" fill="#fff" stroke="#777" stroke-width="1"/>
<line x1="458.60" y1="221.80" x2="465.60" y2="221.80" stroke="#dc1f2e" stroke-width="2.4"/>
<line x1="470.88" y1="206.90" x2="470.88" y2="213.50" stroke="#555" stroke-width="1" stroke-dasharray="1.8 2.6"/>
<path d="M468.78 206.20h4.2l-2.1 2.6z" fill="#555"/>
<line x1="470.88" y1="228.70" x2="470.88" y2="236.70" stroke="#555" stroke-width="1" stroke-dasharray="1.8 2.6"/>
<path d="M468.78 237.40h4.2l-2.1 -2.6z" fill="#555"/>
<rect x="467.38" y="213.50" width="7.0" height="15.20" fill="#fff" stroke="#777" stroke-width="1"/>
<line x1="467.38" y1="220.10" x2="474.38" y2="220.10" stroke="#dc1f2e" stroke-width="2.4"/>
<line x1="479.66" y1="212.80" x2="479.66" y2="219.30" stroke="#555" stroke-width="1" stroke-dasharray="1.8 2.6"/>
<path d="M477.56 212.10h4.2l-2.1 2.6z" fill="#555"/>
<rect x="476.16" y="219.30" width="7.0" height="14.60" fill="#fff" stroke="#777" stroke-width="1"/>
<line x1="476.16" y1="222.90" x2="483.16" y2="222.90" stroke="#dc1f2e" stroke-width="2.4"/>
<line x1="488.44" y1="211.40" x2="488.44" y2="221.50" stroke="#555" stroke-width="1" stroke-dasharray="1.8 2.6"/>
<path d="M486.34 210.70h4.2l-2.1 2.6z" fill="#555"/>
<line x1="488.44" y1="229.80" x2="488.44" y2="238.60" stroke="#555" stroke-width="1" stroke-dasharray="1.8 2.6"/>
<path d="M486.34 239.30h4.2l-2.1 -2.6z" fill="#555"/>
<rect x="484.94" y="221.50" width="7.0" height="8.30" fill="#fff" stroke="#777" stroke-width="1"/>
<line x1="484.94" y1="226.20" x2="491.94" y2="226.20" stroke="#dc1f2e" stroke-width="2.4"/>
<circle cx="488.44" cy="129.60" r="1.4" fill="none" stroke="#666" stroke-width="0.8"/>
<circle cx="488.44" cy="171.90" r="1.4" fill="none" stroke="#666" stroke-width="0.8"/>
<line x1="497.22" y1="224.50" x2="497.22" y2="228.70" stroke="#555" stroke-width="1" stroke-dasharray="1.8 2.6"/>
<path d="M495.12 223.80h4.2l-2.1 2.6z" fill="#555"/>
<line x1="497.22" y1="235.30" x2="497.22" y2="236.00" stroke="#555" stroke-width="1" stroke-dasharray="1.8 2.6"/>
<path d="M495.12 236.70h4.2l-2.1 -2.6z" fill="#555"/>
<rect x="493.72" y="228.70" width="7.0" height="6.60" fill="#fff" stroke="#777" stroke-width="1"/>
<line x1="493.72" y1="231.10" x2="500.72" y2="231.10" stroke="#dc1f2e" stroke-width="2.4"/>
<circle cx="497.22" cy="217.60" r="1.4" fill="none" stroke="#666" stroke-width="0.8"/>
<line x1="76.3" y1="1.5" x2="76.3" y2="16" stroke="#111" stroke-width="1.6"/>
<path d="M73.4 13.5 L79.2 13.5 L76.3 23.2 Z" fill="#111"/>
<line x1="76.8" y1="340" x2="76.8" y2="354.7" stroke="#111" stroke-width="1.9"/>
<path d="M73.9 342.6 L79.9 342.6 L76.9 333.6 Z" fill="#111"/>
</g>
<g id="panelB">
<text x="-0.1" y="450.8" font-size="25.6" font-weight="bold" fill="#000">B</text>
<rect x="77.8" y="433.9" width="398.8" height="359.9" fill="none" stroke="#666" stroke-width="1.25"/>
<line x1="71.5" y1="780.80" x2="77.8" y2="780.80" stroke="#666" stroke-width="1.1"/>
<text transform="translate(63.3,780.80) rotate(-90)" font-size="10.5" text-anchor="middle" fill="#333">0</text>
<line x1="71.5" y1="689.70" x2="77.8" y2="689.70" stroke="#666" stroke-width="1.1"/>
<text transform="translate(63.3,689.70) rotate(-90)" font-size="10.5" text-anchor="middle" fill="#333">500</text>
<line x1="71.5" y1="598.60" x2="77.8" y2="598.60" stroke="#666" stroke-width="1.1"/>
<text transform="translate(63.3,598.60) rotate(-90)" font-size="10.5" text-anchor="middle" fill="#333">1000</text>
<line x1="71.5" y1="507.50" x2="77.8" y2="507.50" stroke="#666" stroke-width="1.1"/>
<text transform="translate(63.3,507.50) rotate(-90)" font-size="10.5" text-anchor="middle" fill="#333">1500</text>
<line x1="92.90" y1="793.8" x2="92.90" y2="800.8" stroke="#666" stroke-width="1.1"/>
<text x="92.90" y="817.7" font-size="10.3" text-anchor="middle" fill="#333">0</text>
<line x1="185.50" y1="793.8" x2="185.50" y2="800.8" stroke="#666" stroke-width="1.1"/>
<text x="185.50" y="817.7" font-size="10.3" text-anchor="middle" fill="#333">1000</text>
<line x1="278.10" y1="793.8" x2="278.10" y2="800.8" stroke="#666" stroke-width="1.1"/>
<text x="278.10" y="817.7" font-size="10.3" text-anchor="middle" fill="#333">2000</text>
<line x1="370.70" y1="793.8" x2="370.70" y2="800.8" stroke="#666" stroke-width="1.1"/>
<text x="370.70" y="817.7" font-size="10.3" text-anchor="middle" fill="#333">3000</text>
<line x1="463.30" y1="793.8" x2="463.30" y2="800.8" stroke="#666" stroke-width="1.1"/>
<text x="463.30" y="817.7" font-size="10.3" text-anchor="middle" fill="#333">4000</text>
<text transform="translate(44.9,618.2) rotate(-90)" font-size="13.4" text-anchor="middle" fill="#222">relative expression level</text>
<text x="197.6" y="833.2" font-size="13.4" fill="#222">relative expression level</text>
<text x="36.0" y="465.0" font-size="14.2" fill="#111">Dtx1</text>
<text x="397.1" y="831.7" font-size="14.6" fill="#111">Bcl2A1</text>
<g id="scatter">
<path d="M111.2 758.0h4.4M113.4 755.8v4.4" stroke="#1b9e77" stroke-width="1.1"/>
<path d="M114.3 750.7h4.4M116.5 748.5v4.4" stroke="#1b9e77" stroke-width="1.1"/>
<path d="M94.4 770.4h4.2l-2.1-3.6z" fill="#e0791a"/>
<circle cx="236.5" cy="773.2" r="1.7" fill="none" stroke="#e6ab02" stroke-width="1.0"/>
<path d="M95.6 770.6h4.4M97.8 768.4v4.4" stroke="#1b9e77" stroke-width="1.1"/>
<path d="M99.6 773.0h4.4M101.8 770.8v4.4" stroke="#1b9e77" stroke-width="1.1"/>
<circle cx="135.3" cy="745.7" r="1.7" fill="none" stroke="#e6ab02" stroke-width="1.0"/>
<path d="M102.6 765.8h4.2l-2.1-3.6z" fill="#e5408f"/>
<path d="M139.3 749.5h4.4M141.5 747.3v4.4" stroke="#1b9e77" stroke-width="1.1"/>
<path d="M216.1 777.5h4.2l-2.1-3.6z" fill="#c8761e"/>
<circle cx="167.6" cy="760.4" r="1.35" fill="#e0791a"/>
<path d="M137.5 767.5h4.4M139.7 765.3v4.4" stroke="#1b9e77" stroke-width="1.1"/>
<circle cx="103.6" cy="748.6" r="1.35" fill="#787878"/>
<circle cx="98.9" cy="733.7" r="1.35" fill="#a6761d"/>
<circle cx="176.9" cy="765.6" r="1.35" fill="#a6761d"/>
<path d="M96.0 760.9h4.2l-2.1-3.6z" fill="#c8761e"/>
<circle cx="98.3" cy="774.4" r="1.35" fill="#7bb02a"/>
<circle cx="111.0" cy="757.8" r="1.7" fill="none" stroke="#7bb02a" stroke-width="1.0"/>
<circle cx="230.6" cy="758.0" r="1.7" fill="none" stroke="#8680cc" stroke-width="1.0"/>
<circle cx="111.5" cy="752.8" r="1.35" fill="#e0791a"/>
<path d="M101.3 763.6h4.2l-2.1-3.6z" fill="#e0791a"/>
<circle cx="154.2" cy="766.3" r="1.35" fill="#7bb02a"/>
<circle cx="246.6" cy="768.6" r="1.35" fill="#c8761e"/>
<circle cx="104.5" cy="765.5" r="1.7" fill="none" stroke="#8680cc" stroke-width="1.0"/>
<path d="M129.4 763.1h4l-2-3.4z" fill="none" stroke="#8680cc" stroke-width="0.85"/>
<circle cx="239.1" cy="764.3" r="1.7" fill="none" stroke="#e5408f" stroke-width="1.0"/>
<circle cx="205.5" cy="768.2" r="1.35" fill="#e0791a"/>
<circle cx="100.4" cy="732.6" r="1.7" fill="none" stroke="#8680cc" stroke-width="1.0"/>
<circle cx="98.2" cy="773.2" r="1.7" fill="none" stroke="#8680cc" stroke-width="1.0"/>
<circle cx="94.7" cy="763.9" r="1.7" fill="none" stroke="#8680cc" stroke-width="1.0"/>
<circle cx="116.8" cy="732.4" r="1.7" fill="none" stroke="#8680cc" stroke-width="1.0"/>
<path d="M106.7 771.0h4.2l-2.1-3.6z" fill="#e0791a"/>
<circle cx="185.7" cy="752.0" r="1.7" fill="none" stroke="#8680cc" stroke-width="1.0"/>
<path d="M97.9 777.0h4.2l-2.1-3.6z" fill="#e0791a"/>
<circle cx="129.8" cy="761.5" r="1.7" fill="none" stroke="#7bb02a" stroke-width="1.0"/>
<circle cx="163.0" cy="724.5" r="1.7" fill="none" stroke="#7bb02a" stroke-width="1.0"/>
<circle cx="151.9" cy="775.1" r="1.35" fill="#a6761d"/>
<path d="M129.6 757.1h4.2l-2.1-3.6z" fill="#c8761e"/>
<circle cx="175.3" cy="733.7" r="1.35" fill="#a6761d"/>
<path d="M157.2 772.5h4.4M159.4 770.3v4.4" stroke="#1b9e77" stroke-width="1.1"/>
<path d="M113.8 772.9h4.2l-2.1-3.6z" fill="#c8761e"/>
<circle cx="245.5" cy="775.7" r="1.7" fill="none" stroke="#7272cc" stroke-width="1.0"/>
<circle cx="106.7" cy="770.8" r="1.7" fill="none" stroke="#8680cc" stroke-width="1.0"/>
<path d="M104.0 743.0h4.4M106.2 740.8v4.4" stroke="#1b9e77" stroke-width="1.1"/>
<circle cx="146.0" cy="743.4" r="1.7" fill="none" stroke="#8680cc" stroke-width="1.0"/>
<path d="M144.9 744.2h4.4M147.1 742.0v4.4" stroke="#1b9e77" stroke-width="1.1"/>
<path d="M102.6 757.5h4.2l-2.1-3.6z" fill="#e0791a"/>
<circle cx="124.6" cy="776.2" r="1.35" fill="#787878"/>
<path d="M94.2 767.3h4.4M96.4 765.1v4.4" stroke="#1b9e77" stroke-width="1.1"/>
<circle cx="146.2" cy="754.0" r="1.7" fill="none" stroke="#7272cc" stroke-width="1.0"/>
<circle cx="103.2" cy="757.5" r="1.7" fill="none" stroke="#8680cc" stroke-width="1.0"/>
<circle cx="172.3" cy="775.1" r="1.7" fill="none" stroke="#8680cc" stroke-width="1.0"/>
<path d="M103.0 772.9h4.4M105.2 770.7v4.4" stroke="#1b9e77" stroke-width="1.1"/>
<path d="M161.9 772.9h4.4M164.1 770.7v4.4" stroke="#1b9e77" stroke-width="1.1"/>
<circle cx="181.6" cy="743.1" r="1.35" fill="#7bb02a"/>
<circle cx="179.6" cy="763.1" r="1.7" fill="none" stroke="#8680cc" stroke-width="1.0"/>
<circle cx="103.1" cy="732.0" r="1.7" fill="none" stroke="#e6ab02" stroke-width="1.0"/>
<circle cx="166.5" cy="773.6" r="1.7" fill="none" stroke="#8680cc" stroke-width="1.0"/>
<path d="M139.3 770.9h4.4M141.5 768.7v4.4" stroke="#1b9e77" stroke-width="1.1"/>
<path d="M124.8 772.6h4l-2-3.4z" fill="none" stroke="#8680cc" stroke-width="0.85"/>
<path d="M95.3 774.3h4.4M97.5 772.1v4.4" stroke="#1b9e77" stroke-width="1.1"/>
<circle cx="96.7" cy="770.6" r="1.7" fill="none" stroke="#8680cc" stroke-width="1.0"/>
<path d="M111.6 748.5h4.2l-2.1-3.6z" fill="#c8761e"/>
<path d="M172.0 773.1h4.2l-2.1-3.6z" fill="#e0791a"/>
<circle cx="217.9" cy="765.0" r="1.35" fill="#e0791a"/>
<path d="M111.3 768.9h4.2l-2.1-3.6z" fill="#c8761e"/>
<circle cx="112.7" cy="749.2" r="1.35" fill="#7bb02a"/>
<circle cx="102.7" cy="750.1" r="1.35" fill="#787878"/>
<circle cx="106.9" cy="755.4" r="1.35" fill="#787878"/>
<path d="M178.4 771.6h4.2l-2.1-3.6z" fill="#e0791a"/>
<circle cx="115.1" cy="770.2" r="1.7" fill="none" stroke="#8680cc" stroke-width="1.0"/>
<circle cx="133.7" cy="758.4" r="1.7" fill="none" stroke="#8680cc" stroke-width="1.0"/>
<circle cx="114.0" cy="757.8" r="1.35" fill="#787878"/>
<circle cx="169.9" cy="758.1" r="1.7" fill="none" stroke="#8680cc" stroke-width="1.0"/>
<circle cx="109.6" cy="739.5" r="1.7" fill="none" stroke="#8680cc" stroke-width="1.0"/>
<circle cx="121.7" cy="767.2" r="1.35" fill="#a6761d"/>
<circle cx="109.4" cy="747.4" r="1.7" fill="none" stroke="#7bb02a" stroke-width="1.0"/>
<circle cx="110.9" cy="736.8" r="1.7" fill="none" stroke="#8680cc" stroke-width="1.0"/>
<path d="M200.9 777.6h4.2l-2.1-3.6z" fill="#e0791a"/>
<path d="M96.4 772.6h4.4M98.6 770.4v4.4" stroke="#1b9e77" stroke-width="1.1"/>
<circle cx="114.7" cy="729.1" r="1.7" fill="none" stroke="#8680cc" stroke-width="1.0"/>
<circle cx="130.7" cy="760.1" r="1.7" fill="none" stroke="#8680cc" stroke-width="1.0"/>
<path d="M101.2 764.1h4.2l-2.1-3.6z" fill="#e0791a"/>
<path d="M121.4 773.5h4.2l-2.1-3.6z" fill="#e0791a"/>
<path d="M95.0 750.7h4.4M97.2 748.5v4.4" stroke="#1b9e77" stroke-width="1.1"/>
<circle cx="108.5" cy="773.6" r="1.35" fill="#7bb02a"/>
<path d="M144.6 733.9h4.2l-2.1-3.6z" fill="#e0791a"/>
<circle cx="115.4" cy="763.5" r="1.7" fill="none" stroke="#7bb02a" stroke-width="1.0"/>
<circle cx="119.6" cy="772.4" r="1.7" fill="none" stroke="#8680cc" stroke-width="1.0"/>
<circle cx="159.6" cy="770.6" r="1.7" fill="none" stroke="#8680cc" stroke-width="1.0"/>
<path d="M97.3 754.0h4.2l-2.1-3.6z" fill="#c8761e"/>
<circle cx="111.6" cy="739.2" r="1.7" fill="none" stroke="#8680cc" stroke-width="1.0"/>
<path d="M121.5 771.9h4.4M123.7 769.7v4.4" stroke="#1b9e77" stroke-width="1.1"/>
<circle cx="108.8" cy="720.6" r="1.35" fill="#e0791a"/>
<circle cx="95.1" cy="758.2" r="1.7" fill="none" stroke="#8680cc" stroke-width="1.0"/>
<path d="M126.2 761.2h4.2l-2.1-3.6z" fill="#e0791a"/>
<path d="M117.2 773.6h4.2l-2.1-3.6z" fill="#c8761e"/>
<path d="M184.8 776.8h4l-2-3.4z" fill="none" stroke="#8680cc" stroke-width="0.85"/>
<path d="M166.5 745.9h4.4M168.7 743.7v4.4" stroke="#1b9e77" stroke-width="1.1"/>
<circle cx="111.1" cy="755.3" r="1.7" fill="none" stroke="#8680cc" stroke-width="1.0"/>
<circle cx="178.6" cy="770.8" r="1.7" fill="none" stroke="#7bb02a" stroke-width="1.0"/>
<circle cx="210.7" cy="750.8" r="1.7" fill="none" stroke="#e6ab02" stroke-width="1.0"/>
<path d="M173.6 744.8h4.2l-2.1-3.6z" fill="#e5408f"/>
<circle cx="98.9" cy="773.2" r="1.7" fill="none" stroke="#e6ab02" stroke-width="1.0"/>
<circle cx="248.6" cy="759.4" r="1.7" fill="none" stroke="#8680cc" stroke-width="1.0"/>
<circle cx="131.2" cy="759.7" r="1.35" fill="#e0791a"/>
<circle cx="161.3" cy="749.4" r="1.7" fill="none" stroke="#8680cc" stroke-width="1.0"/>
<circle cx="158.9" cy="776.1" r="1.7" fill="none" stroke="#8680cc" stroke-width="1.0"/>
<circle cx="110.0" cy="774.7" r="1.35" fill="#787878"/>
<path d="M125.4 761.8h4.4M127.6 759.6v4.4" stroke="#1b9e77" stroke-width="1.1"/>
<circle cx="150.4" cy="773.4" r="1.7" fill="none" stroke="#8680cc" stroke-width="1.0"/>
<circle cx="102.5" cy="746.3" r="1.7" fill="none" stroke="#e5408f" stroke-width="1.0"/>
<circle cx="141.6" cy="759.7" r="1.35" fill="#787878"/>
<path d="M97.6 757.8h4.4M99.8 755.6v4.4" stroke="#1b9e77" stroke-width="1.1"/>
<circle cx="154.4" cy="771.1" r="1.35" fill="#787878"/>
<circle cx="133.1" cy="752.6" r="1.7" fill="none" stroke="#8680cc" stroke-width="1.0"/>
<circle cx="125.7" cy="774.4" r="1.35" fill="#787878"/>
<circle cx="118.1" cy="732.6" r="1.7" fill="none" stroke="#8680cc" stroke-width="1.0"/>
<path d="M158.8 752.7h4.2l-2.1-3.6z" fill="#c8761e"/>
<path d="M126.9 752.0h4l-2-3.4z" fill="none" stroke="#8680cc" stroke-width="0.85"/>
<circle cx="126.6" cy="754.2" r="1.7" fill="none" stroke="#8680cc" stroke-width="1.0"/>
<circle cx="127.2" cy="758.8" r="1.35" fill="#e0791a"/>
<circle cx="182.6" cy="770.9" r="1.7" fill="none" stroke="#e5408f" stroke-width="1.0"/>
<circle cx="101.5" cy="745.5" r="1.35" fill="#e0791a"/>
<circle cx="119.4" cy="761.1" r="1.7" fill="none" stroke="#e6ab02" stroke-width="1.0"/>
<circle cx="116.1" cy="760.7" r="1.7" fill="none" stroke="#8680cc" stroke-width="1.0"/>
<circle cx="181.2" cy="768.9" r="1.7" fill="none" stroke="#7272cc" stroke-width="1.0"/>
<circle cx="108.5" cy="774.0" r="1.35" fill="#e0791a"/>
<circle cx="175.3" cy="750.4" r="1.7" fill="none" stroke="#7272cc" stroke-width="1.0"/>
<circle cx="230.2" cy="743.2" r="1.7" fill="none" stroke="#e5408f" stroke-width="1.0"/>
<path d="M138.5 767.3h4l-2-3.4z" fill="none" stroke="#8680cc" stroke-width="0.85"/>
<circle cx="126.6" cy="752.9" r="1.35" fill="#e0791a"/>
<circle cx="109.4" cy="762.0" r="1.35" fill="#7bb02a"/>
<circle cx="146.1" cy="767.8" r="1.7" fill="none" stroke="#8680cc" stroke-width="1.0"/>
<circle cx="103.2" cy="749.9" r="1.7" fill="none" stroke="#7272cc" stroke-width="1.0"/>
<path d="M126.2 767.6h4.4M128.4 765.4v4.4" stroke="#1b9e77" stroke-width="1.1"/>
<circle cx="102.0" cy="729.6" r="1.7" fill="none" stroke="#8680cc" stroke-width="1.0"/>
<circle cx="114.9" cy="762.9" r="1.7" fill="none" stroke="#e6ab02" stroke-width="1.0"/>
<circle cx="200.0" cy="767.8" r="1.35" fill="#c8761e"/>
<circle cx="130.3" cy="762.3" r="1.35" fill="#e0791a"/>
<circle cx="150.7" cy="762.6" r="1.35" fill="#a6761d"/>
<circle cx="185.5" cy="737.4" r="1.35" fill="#7bb02a"/>
<path d="M241.0 752.2h4l-2-3.4z" fill="none" stroke="#8680cc" stroke-width="0.85"/>
<path d="M94.2 742.7h4.4M96.4 740.5v4.4" stroke="#1b9e77" stroke-width="1.1"/>
<path d="M135.0 771.1h4.2l-2.1-3.6z" fill="#e0791a"/>
<path d="M264.6 776.5h4.4M266.8 774.3v4.4" stroke="#1b9e77" stroke-width="1.1"/>
<circle cx="150.4" cy="766.0" r="1.7" fill="none" stroke="#e5408f" stroke-width="1.0"/>
<circle cx="99.0" cy="776.4" r="1.7" fill="none" stroke="#e6ab02" stroke-width="1.0"/>
<circle cx="97.0" cy="775.5" r="1.35" fill="#787878"/>
<circle cx="142.5" cy="753.4" r="1.7" fill="none" stroke="#8680cc" stroke-width="1.0"/>
<circle cx="112.5" cy="772.4" r="1.7" fill="none" stroke="#8680cc" stroke-width="1.0"/>
<circle cx="109.5" cy="776.3" r="1.35" fill="#787878"/>
<circle cx="110.5" cy="775.6" r="1.35" fill="#a6761d"/>
<path d="M105.8 750.8h4.2l-2.1-3.6z" fill="#e0791a"/>
<path d="M95.5 773.4h4l-2-3.4z" fill="none" stroke="#8680cc" stroke-width="0.85"/>
<circle cx="144.9" cy="762.8" r="1.35" fill="#e0791a"/>
<circle cx="152.3" cy="768.9" r="1.35" fill="#e0791a"/>
<path d="M92.8 765.5h4.4M95.0 763.3v4.4" stroke="#1b9e77" stroke-width="1.1"/>
<circle cx="105.9" cy="735.6" r="1.7" fill="none" stroke="#8680cc" stroke-width="1.0"/>
<circle cx="124.7" cy="772.2" r="1.7" fill="none" stroke="#e6ab02" stroke-width="1.0"/>
<path d="M138.3 730.6h4.4M140.5 728.4v4.4" stroke="#1b9e77" stroke-width="1.1"/>
<circle cx="211.1" cy="748.9" r="1.7" fill="none" stroke="#8680cc" stroke-width="1.0"/>
<path d="M94.1 767.8h4.2l-2.1-3.6z" fill="#e0791a"/>
<circle cx="104.6" cy="743.6" r="1.7" fill="none" stroke="#8680cc" stroke-width="1.0"/>
<circle cx="98.7" cy="765.8" r="1.7" fill="none" stroke="#8680cc" stroke-width="1.0"/>
<circle cx="145.6" cy="752.2" r="1.7" fill="none" stroke="#e5408f" stroke-width="1.0"/>
<path d="M120.6 771.2h4.2l-2.1-3.6z" fill="#c8761e"/>
<circle cx="254.7" cy="771.0" r="1.35" fill="#e0791a"/>
<path d="M97.2 772.6h4.4M99.4 770.4v4.4" stroke="#1b9e77" stroke-width="1.1"/>
<path d="M111.7 762.6h4.4M113.9 760.4v4.4" stroke="#1b9e77" stroke-width="1.1"/>
<circle cx="142.9" cy="776.2" r="1.35" fill="#e0791a"/>
<circle cx="172.7" cy="745.8" r="1.7" fill="none" stroke="#8680cc" stroke-width="1.0"/>
<circle cx="98.0" cy="760.1" r="1.35" fill="#787878"/>
<circle cx="97.3" cy="763.7" r="1.35" fill="#7bb02a"/>
<circle cx="112.2" cy="771.3" r="1.7" fill="none" stroke="#7272cc" stroke-width="1.0"/>
<circle cx="98.5" cy="747.5" r="1.7" fill="none" stroke="#8680cc" stroke-width="1.0"/>
<circle cx="155.6" cy="739.4" r="1.7" fill="none" stroke="#7272cc" stroke-width="1.0"/>
<path d="M173.4 768.5h4.4M175.6 766.3v4.4" stroke="#1b9e77" stroke-width="1.1"/>
<circle cx="95.6" cy="759.6" r="1.7" fill="none" stroke="#8680cc" stroke-width="1.0"/>
<path d="M106.0 768.7h4.4M108.2 766.5v4.4" stroke="#1b9e77" stroke-width="1.1"/>
<circle cx="168.4" cy="754.9" r="1.7" fill="none" stroke="#8680cc" stroke-width="1.0"/>
<path d="M118.1 761.7h4.4M120.3 759.5v4.4" stroke="#1b9e77" stroke-width="1.1"/>
<circle cx="132.4" cy="764.3" r="1.7" fill="none" stroke="#8680cc" stroke-width="1.0"/>
<path d="M139.7 758.5h4.2l-2.1-3.6z" fill="#e0791a"/>
<path d="M102.3 761.7h4.2l-2.1-3.6z" fill="#c8761e"/>
<circle cx="163.6" cy="758.5" r="1.35" fill="#c8761e"/>
<circle cx="109.9" cy="776.2" r="1.7" fill="none" stroke="#8680cc" stroke-width="1.0"/>
<circle cx="107.7" cy="759.5" r="1.7" fill="none" stroke="#7272cc" stroke-width="1.0"/>
<path d="M102.6 761.2h4.4M104.8 759.0v4.4" stroke="#1b9e77" stroke-width="1.1"/>
<path d="M142.8 770.0h4.4M145.0 767.8v4.4" stroke="#1b9e77" stroke-width="1.1"/>
<path d="M94.4 731.1h4.4M96.6 728.9v4.4" stroke="#1b9e77" stroke-width="1.1"/>
<path d="M115.7 776.8h4.2l-2.1-3.6z" fill="#e0791a"/>
<path d="M136.5 769.8h4.4M138.7 767.6v4.4" stroke="#1b9e77" stroke-width="1.1"/>
<circle cx="104.5" cy="763.8" r="1.35" fill="#a6761d"/>
<path d="M145.5 746.8h4.2l-2.1-3.6z" fill="#e0791a"/>
<circle cx="114.6" cy="775.4" r="1.35" fill="#787878"/>
<circle cx="97.1" cy="771.2" r="1.35" fill="#a6761d"/>
<circle cx="120.1" cy="728.2" r="1.7" fill="none" stroke="#e6ab02" stroke-width="1.0"/>
<circle cx="98.9" cy="751.4" r="1.35" fill="#c8761e"/>
<circle cx="133.5" cy="771.5" r="1.7" fill="none" stroke="#8680cc" stroke-width="1.0"/>
<path d="M101.3 770.5h4.2l-2.1-3.6z" fill="#e0791a"/>
<path d="M158.9 756.8h4.2l-2.1-3.6z" fill="#e0791a"/>
<path d="M142.9 760.8h4.2l-2.1-3.6z" fill="#e0791a"/>
<circle cx="100.5" cy="762.4" r="1.7" fill="none" stroke="#e6ab02" stroke-width="1.0"/>
<circle cx="116.4" cy="774.9" r="1.7" fill="none" stroke="#8680cc" stroke-width="1.0"/>
<circle cx="173.7" cy="765.1" r="1.7" fill="none" stroke="#e6ab02" stroke-width="1.0"/>
<circle cx="220.7" cy="775.5" r="1.7" fill="none" stroke="#8680cc" stroke-width="1.0"/>
<path d="M101.6 764.6h4.2l-2.1-3.6z" fill="#e0791a"/>
<circle cx="101.5" cy="720.5" r="1.7" fill="none" stroke="#8680cc" stroke-width="1.0"/>
<circle cx="220.0" cy="755.6" r="1.7" fill="none" stroke="#7272cc" stroke-width="1.0"/>
<circle cx="141.7" cy="770.7" r="1.35" fill="#c8761e"/>
<circle cx="185.2" cy="765.0" r="1.7" fill="none" stroke="#8680cc" stroke-width="1.0"/>
<circle cx="106.7" cy="755.1" r="1.7" fill="none" stroke="#8680cc" stroke-width="1.0"/>
<path d="M106.8 762.3h4l-2-3.4z" fill="none" stroke="#8680cc" stroke-width="0.85"/>
<circle cx="96.6" cy="742.4" r="1.35" fill="#a6761d"/>
<path d="M98.9 762.5h4.4M101.1 760.3v4.4" stroke="#1b9e77" stroke-width="1.1"/>
<path d="M140.3 770.2h4.2l-2.1-3.6z" fill="#e0791a"/>
<circle cx="123.4" cy="755.1" r="1.7" fill="none" stroke="#8680cc" stroke-width="1.0"/>
<circle cx="141.5" cy="760.5" r="1.35" fill="#a6761d"/>
<path d="M122.0 775.5h4.4M124.2 773.3v4.4" stroke="#1b9e77" stroke-width="1.1"/>
<path d="M97.9 760.5h4.4M100.1 758.3v4.4" stroke="#1b9e77" stroke-width="1.1"/>
<circle cx="128.9" cy="759.7" r="1.7" fill="none" stroke="#e6ab02" stroke-width="1.0"/>
<circle cx="99.1" cy="772.6" r="1.7" fill="none" stroke="#8680cc" stroke-width="1.0"/>
<circle cx="128.6" cy="738.7" r="1.35" fill="#787878"/>
<circle cx="102.2" cy="730.9" r="1.35" fill="#a6761d"/>
<path d="M103.5 719.3h4.4M105.7 717.1v4.4" stroke="#1b9e77" stroke-width="1.1"/>
<circle cx="245.9" cy="765.2" r="1.7" fill="none" stroke="#7272cc" stroke-width="1.0"/>
<path d="M96.0 771.4h4.2l-2.1-3.6z" fill="#e5408f"/>
<circle cx="113.7" cy="740.5" r="1.35" fill="#e0791a"/>
<circle cx="138.1" cy="745.4" r="1.35" fill="#e0791a"/>
<circle cx="105.5" cy="750.9" r="1.35" fill="#e0791a"/>
<path d="M168.1 760.3h4.2l-2.1-3.6z" fill="#e5408f"/>
<circle cx="143.6" cy="748.2" r="1.7" fill="none" stroke="#e6ab02" stroke-width="1.0"/>
<circle cx="197.5" cy="742.1" r="1.35" fill="#787878"/>
<circle cx="142.5" cy="745.6" r="1.35" fill="#787878"/>
<circle cx="136.2" cy="752.4" r="1.7" fill="none" stroke="#e5408f" stroke-width="1.0"/>
<path d="M105.2 735.1h4.4M107.4 732.9v4.4" stroke="#1b9e77" stroke-width="1.1"/>
<path d="M111.2 741.3h4l-2-3.4z" fill="none" stroke="#8680cc" stroke-width="0.85"/>
<circle cx="221.8" cy="748.2" r="1.35" fill="#c8761e"/>
<path d="M140.0 756.3h4.2l-2.1-3.6z" fill="#e0791a"/>
<circle cx="126.8" cy="771.5" r="1.7" fill="none" stroke="#e6ab02" stroke-width="1.0"/>
<path d="M110.2 772.2h4.4M112.4 770.0v4.4" stroke="#1b9e77" stroke-width="1.1"/>
<circle cx="120.5" cy="772.9" r="1.35" fill="#a6761d"/>
<circle cx="102.9" cy="765.4" r="1.35" fill="#a6761d"/>
<circle cx="153.7" cy="769.0" r="1.35" fill="#7bb02a"/>
<circle cx="119.5" cy="774.2" r="1.7" fill="none" stroke="#8680cc" stroke-width="1.0"/>
<path d="M142.6 757.7h4.4M144.8 755.5v4.4" stroke="#1b9e77" stroke-width="1.1"/>
<path d="M225.9 770.3h4.2l-2.1-3.6z" fill="#e0791a"/>
<circle cx="97.8" cy="762.7" r="1.7" fill="none" stroke="#7272cc" stroke-width="1.0"/>
<circle cx="100.4" cy="774.4" r="1.7" fill="none" stroke="#7bb02a" stroke-width="1.0"/>
<circle cx="102.4" cy="767.2" r="1.7" fill="none" stroke="#7bb02a" stroke-width="1.0"/>
<circle cx="128.8" cy="748.0" r="1.7" fill="none" stroke="#e6ab02" stroke-width="1.0"/>
<circle cx="132.0" cy="751.8" r="1.35" fill="#e0791a"/>
<path d="M157.6 763.1h4.2l-2.1-3.6z" fill="#e0791a"/>
<circle cx="114.8" cy="772.0" r="1.35" fill="#7bb02a"/>
<circle cx="154.6" cy="773.8" r="1.35" fill="#a6761d"/>
<circle cx="130.4" cy="748.8" r="1.7" fill="none" stroke="#7bb02a" stroke-width="1.0"/>
<circle cx="99.6" cy="763.2" r="1.35" fill="#a6761d"/>
<circle cx="105.6" cy="776.0" r="1.7" fill="none" stroke="#7272cc" stroke-width="1.0"/>
<path d="M103.1 755.2h4l-2-3.4z" fill="none" stroke="#8680cc" stroke-width="0.85"/>
<circle cx="217.6" cy="757.4" r="1.35" fill="#a6761d"/>
<circle cx="131.5" cy="750.0" r="1.7" fill="none" stroke="#8680cc" stroke-width="1.0"/>
<path d="M242.4 773.3h4l-2-3.4z" fill="none" stroke="#8680cc" stroke-width="0.85"/>
<circle cx="169.8" cy="753.9" r="1.7" fill="none" stroke="#8680cc" stroke-width="1.0"/>
<circle cx="96.3" cy="758.2" r="1.7" fill="none" stroke="#e6ab02" stroke-width="1.0"/>
<circle cx="103.1" cy="742.8" r="1.7" fill="none" stroke="#8680cc" stroke-width="1.0"/>
<circle cx="144.1" cy="771.8" r="1.7" fill="none" stroke="#8680cc" stroke-width="1.0"/>
<circle cx="97.1" cy="753.5" r="1.35" fill="#787878"/>
<path d="M129.8 748.8h4l-2-3.4z" fill="none" stroke="#8680cc" stroke-width="0.85"/>
<circle cx="162.5" cy="771.4" r="1.7" fill="none" stroke="#8680cc" stroke-width="1.0"/>
<circle cx="97.0" cy="755.6" r="1.7" fill="none" stroke="#7272cc" stroke-width="1.0"/>
<path d="M160.2 745.3h4.4M162.4 743.1v4.4" stroke="#1b9e77" stroke-width="1.1"/>
<circle cx="102.1" cy="757.4" r="1.35" fill="#7bb02a"/>
<path d="M111.2 774.1h4.2l-2.1-3.6z" fill="#e0791a"/>
<circle cx="211.0" cy="774.5" r="1.7" fill="none" stroke="#e6ab02" stroke-width="1.0"/>
<circle cx="126.3" cy="768.1" r="1.7" fill="none" stroke="#8680cc" stroke-width="1.0"/>
<path d="M127.6 741.2h4.4M129.8 739.0v4.4" stroke="#1b9e77" stroke-width="1.1"/>
<circle cx="97.6" cy="744.7" r="1.7" fill="none" stroke="#e6ab02" stroke-width="1.0"/>
<path d="M109.0 762.5h4.4M111.2 760.3v4.4" stroke="#1b9e77" stroke-width="1.1"/>
<circle cx="111.2" cy="776.6" r="1.7" fill="none" stroke="#8680cc" stroke-width="1.0"/>
<circle cx="152.3" cy="769.3" r="1.35" fill="#787878"/>
<circle cx="138.2" cy="751.1" r="1.7" fill="none" stroke="#8680cc" stroke-width="1.0"/>
<path d="M174.3 771.1h4.2l-2.1-3.6z" fill="#e0791a"/>
<circle cx="229.4" cy="773.9" r="1.7" fill="none" stroke="#e6ab02" stroke-width="1.0"/>
<circle cx="100.2" cy="751.2" r="1.7" fill="none" stroke="#8680cc" stroke-width="1.0"/>
<circle cx="221.6" cy="748.3" r="1.35" fill="#7bb02a"/>
<circle cx="105.9" cy="753.7" r="1.7" fill="none" stroke="#7272cc" stroke-width="1.0"/>
<path d="M126.0 743.5h4.4M128.2 741.3v4.4" stroke="#1b9e77" stroke-width="1.1"/>
<path d="M129.5 746.7h4.2l-2.1-3.6z" fill="#e5408f"/>
<circle cx="115.8" cy="770.7" r="1.35" fill="#7bb02a"/>
<circle cx="103.9" cy="765.3" r="1.35" fill="#a6761d"/>
<path d="M134.8 760.9h4.2l-2.1-3.6z" fill="#e0791a"/>
<circle cx="112.4" cy="759.2" r="1.35" fill="#a6761d"/>
<path d="M100.7 767.4h4.4M102.9 765.2v4.4" stroke="#1b9e77" stroke-width="1.1"/>
<circle cx="103.3" cy="762.8" r="1.7" fill="none" stroke="#8680cc" stroke-width="1.0"/>
<circle cx="272.7" cy="775.2" r="1.7" fill="none" stroke="#8680cc" stroke-width="1.0"/>
<circle cx="118.7" cy="766.5" r="1.35" fill="#a6761d"/>
<circle cx="158.5" cy="763.3" r="1.7" fill="none" stroke="#8680cc" stroke-width="1.0"/>
<circle cx="106.0" cy="770.8" r="1.7" fill="none" stroke="#8680cc" stroke-width="1.0"/>
<circle cx="119.4" cy="768.0" r="1.7" fill="none" stroke="#e6ab02" stroke-width="1.0"/>
<circle cx="124.6" cy="743.9" r="1.7" fill="none" stroke="#e6ab02" stroke-width="1.0"/>
<circle cx="119.8" cy="773.9" r="1.7" fill="none" stroke="#e6ab02" stroke-width="1.0"/>
<path d="M159.2 730.1h4.2l-2.1-3.6z" fill="#c8761e"/>
<circle cx="197.1" cy="771.5" r="1.7" fill="none" stroke="#7bb02a" stroke-width="1.0"/>
<circle cx="123.9" cy="742.8" r="1.7" fill="none" stroke="#e6ab02" stroke-width="1.0"/>
<circle cx="100.1" cy="743.0" r="1.7" fill="none" stroke="#e6ab02" stroke-width="1.0"/>
<path d="M106.6 758.0h4.4M108.8 755.8v4.4" stroke="#1b9e77" stroke-width="1.1"/>
<circle cx="142.0" cy="748.8" r="1.7" fill="none" stroke="#8680cc" stroke-width="1.0"/>
<circle cx="146.2" cy="758.8" r="1.35" fill="#e0791a"/>
<circle cx="97.1" cy="764.1" r="1.7" fill="none" stroke="#7272cc" stroke-width="1.0"/>
<circle cx="129.8" cy="773.1" r="1.7" fill="none" stroke="#e6ab02" stroke-width="1.0"/>
<circle cx="132.5" cy="771.2" r="1.35" fill="#a6761d"/>
<circle cx="130.3" cy="750.8" r="1.7" fill="none" stroke="#7272cc" stroke-width="1.0"/>
<circle cx="106.5" cy="767.8" r="1.7" fill="none" stroke="#8680cc" stroke-width="1.0"/>
<circle cx="116.0" cy="760.1" r="1.7" fill="none" stroke="#8680cc" stroke-width="1.0"/>
<circle cx="121.0" cy="770.5" r="1.35" fill="#7bb02a"/>
<circle cx="136.6" cy="762.1" r="1.35" fill="#787878"/>
<circle cx="266.2" cy="764.7" r="1.35" fill="#787878"/>
<circle cx="124.4" cy="750.7" r="1.35" fill="#a6761d"/>
<path d="M103.3 734.6h4.2l-2.1-3.6z" fill="#e5408f"/>
<path d="M114.0 750.4h4.4M116.2 748.2v4.4" stroke="#1b9e77" stroke-width="1.1"/>
<circle cx="111.8" cy="745.5" r="1.7" fill="none" stroke="#8680cc" stroke-width="1.0"/>
<circle cx="180.9" cy="750.4" r="1.35" fill="#e0791a"/>
<circle cx="149.5" cy="742.7" r="1.35" fill="#a6761d"/>
<path d="M169.6 756.5h4.4M171.8 754.3v4.4" stroke="#1b9e77" stroke-width="1.1"/>
<path d="M139.5 753.0h4l-2-3.4z" fill="none" stroke="#8680cc" stroke-width="0.85"/>
<circle cx="102.6" cy="769.5" r="1.7" fill="none" stroke="#e6ab02" stroke-width="1.0"/>
<path d="M112.0 756.1h4.4M114.2 753.9v4.4" stroke="#1b9e77" stroke-width="1.1"/>
<circle cx="115.1" cy="748.6" r="1.7" fill="none" stroke="#8680cc" stroke-width="1.0"/>
<circle cx="111.7" cy="760.7" r="1.7" fill="none" stroke="#e6ab02" stroke-width="1.0"/>
<circle cx="187.6" cy="767.1" r="1.7" fill="none" stroke="#8680cc" stroke-width="1.0"/>
<circle cx="119.7" cy="754.4" r="1.7" fill="none" stroke="#e6ab02" stroke-width="1.0"/>
<path d="M149.0 767.1h4.4M151.2 764.9v4.4" stroke="#1b9e77" stroke-width="1.1"/>
<path d="M141.2 775.2h4.4M143.4 773.0v4.4" stroke="#1b9e77" stroke-width="1.1"/>
<circle cx="106.6" cy="739.6" r="1.7" fill="none" stroke="#8680cc" stroke-width="1.0"/>
<circle cx="101.0" cy="756.7" r="1.35" fill="#a6761d"/>
<circle cx="126.1" cy="752.9" r="1.7" fill="none" stroke="#7bb02a" stroke-width="1.0"/>
<path d="M126.1 769.1h4l-2-3.4z" fill="none" stroke="#8680cc" stroke-width="0.85"/>
<circle cx="95.4" cy="763.3" r="1.35" fill="#7bb02a"/>
<circle cx="117.5" cy="755.8" r="1.35" fill="#787878"/>
<circle cx="98.4" cy="756.2" r="1.7" fill="none" stroke="#e6ab02" stroke-width="1.0"/>
<path d="M148.3 754.4h4.2l-2.1-3.6z" fill="#c8761e"/>
<path d="M124.4 777.5h4.2l-2.1-3.6z" fill="#e0791a"/>
<path d="M97.8 765.8h4.2l-2.1-3.6z" fill="#c8761e"/>
<path d="M163.4 770.9h4.4M165.6 768.7v4.4" stroke="#1b9e77" stroke-width="1.1"/>
<circle cx="179.0" cy="753.8" r="1.35" fill="#a6761d"/>
<circle cx="119.8" cy="759.1" r="1.35" fill="#787878"/>
<circle cx="146.3" cy="776.2" r="1.35" fill="#c8761e"/>
<circle cx="112.3" cy="749.9" r="1.7" fill="none" stroke="#8680cc" stroke-width="1.0"/>
<path d="M154.7 760.5h4.4M156.9 758.3v4.4" stroke="#1b9e77" stroke-width="1.1"/>
<circle cx="97.2" cy="775.8" r="1.7" fill="none" stroke="#7272cc" stroke-width="1.0"/>
<circle cx="140.2" cy="774.3" r="1.35" fill="#a6761d"/>
<circle cx="210.6" cy="753.3" r="1.7" fill="none" stroke="#7bb02a" stroke-width="1.0"/>
<path d="M104.4 756.9h4.4M106.6 754.7v4.4" stroke="#1b9e77" stroke-width="1.1"/>
<circle cx="163.7" cy="765.4" r="1.35" fill="#a6761d"/>
<path d="M210.8 769.8h4.2l-2.1-3.6z" fill="#e0791a"/>
<circle cx="134.6" cy="775.7" r="1.35" fill="#c8761e"/>
<circle cx="144.6" cy="758.0" r="1.7" fill="none" stroke="#8680cc" stroke-width="1.0"/>
<circle cx="135.5" cy="765.9" r="1.7" fill="none" stroke="#e6ab02" stroke-width="1.0"/>
<circle cx="215.4" cy="773.9" r="1.7" fill="none" stroke="#8680cc" stroke-width="1.0"/>
<path d="M116.7 733.2h4.4M118.9 731.0v4.4" stroke="#1b9e77" stroke-width="1.1"/>
<circle cx="120.2" cy="748.3" r="1.7" fill="none" stroke="#7bb02a" stroke-width="1.0"/>
<circle cx="203.1" cy="760.4" r="1.7" fill="none" stroke="#7bb02a" stroke-width="1.0"/>
<path d="M104.3 760.0h4.4M106.5 757.8v4.4" stroke="#1b9e77" stroke-width="1.1"/>
<circle cx="110.7" cy="754.7" r="1.7" fill="none" stroke="#7272cc" stroke-width="1.0"/>
<circle cx="117.1" cy="766.5" r="1.7" fill="none" stroke="#7bb02a" stroke-width="1.0"/>
<path d="M155.8 749.9h4.4M158.0 747.7v4.4" stroke="#1b9e77" stroke-width="1.1"/>
<circle cx="224.1" cy="761.0" r="1.35" fill="#787878"/>
<circle cx="155.7" cy="772.8" r="1.35" fill="#a6761d"/>
<path d="M96.7 777.8h4.2l-2.1-3.6z" fill="#e5408f"/>
<circle cx="246.7" cy="761.3" r="1.7" fill="none" stroke="#7272cc" stroke-width="1.0"/>
<circle cx="157.4" cy="750.6" r="1.7" fill="none" stroke="#8680cc" stroke-width="1.0"/>
<circle cx="257.5" cy="736.1" r="1.35" fill="#a6761d"/>
<path d="M124.1 740.1h4.4M126.3 737.9v4.4" stroke="#1b9e77" stroke-width="1.1"/>
<circle cx="110.1" cy="776.0" r="1.7" fill="none" stroke="#e6ab02" stroke-width="1.0"/>
<circle cx="145.8" cy="756.8" r="1.7" fill="none" stroke="#e6ab02" stroke-width="1.0"/>
<circle cx="192.5" cy="776.0" r="1.35" fill="#a6761d"/>
<circle cx="137.6" cy="772.8" r="1.35" fill="#c8761e"/>
<circle cx="117.6" cy="774.4" r="1.35" fill="#7bb02a"/>
<circle cx="109.6" cy="760.7" r="1.7" fill="none" stroke="#e6ab02" stroke-width="1.0"/>
<circle cx="176.5" cy="771.7" r="1.35" fill="#a6761d"/>
<path d="M189.9 773.9h4.2l-2.1-3.6z" fill="#c8761e"/>
<path d="M164.9 749.4h4.4M167.1 747.2v4.4" stroke="#1b9e77" stroke-width="1.1"/>
<path d="M116.2 778.1h4.2l-2.1-3.6z" fill="#e5408f"/>
<circle cx="112.9" cy="756.0" r="1.7" fill="none" stroke="#7272cc" stroke-width="1.0"/>
<path d="M134.9 770.3h4.2l-2.1-3.6z" fill="#e0791a"/>
<path d="M129.6 771.7h4.4M131.8 769.5v4.4" stroke="#1b9e77" stroke-width="1.1"/>
<path d="M107.6 771.9h4.2l-2.1-3.6z" fill="#c8761e"/>
<path d="M104.0 775.9h4.2l-2.1-3.6z" fill="#c8761e"/>
<path d="M114.6 768.6h4l-2-3.4z" fill="none" stroke="#8680cc" stroke-width="0.85"/>
<circle cx="108.9" cy="753.9" r="1.35" fill="#e0791a"/>
<path d="M101.1 766.1h4.2l-2.1-3.6z" fill="#c8761e"/>
<path d="M94.1 711.0h4.4M96.3 708.8v4.4" stroke="#1b9e77" stroke-width="1.1"/>
<circle cx="135.0" cy="762.6" r="1.35" fill="#a6761d"/>
<circle cx="121.9" cy="741.1" r="1.35" fill="#787878"/>
<circle cx="108.7" cy="764.2" r="1.7" fill="none" stroke="#8680cc" stroke-width="1.0"/>
<path d="M102.6 771.8h4l-2-3.4z" fill="none" stroke="#8680cc" stroke-width="0.85"/>
<circle cx="124.8" cy="773.0" r="1.7" fill="none" stroke="#7272cc" stroke-width="1.0"/>
<circle cx="97.9" cy="758.5" r="1.35" fill="#787878"/>
<circle cx="109.3" cy="763.8" r="1.35" fill="#7bb02a"/>
<path d="M102.4 765.7h4.2l-2.1-3.6z" fill="#e5408f"/>
<path d="M94.6 760.9h4.2l-2.1-3.6z" fill="#e0791a"/>
<circle cx="182.3" cy="739.6" r="1.35" fill="#7bb02a"/>
<path d="M95.4 766.8h4.2l-2.1-3.6z" fill="#e5408f"/>
<circle cx="149.4" cy="767.7" r="1.7" fill="none" stroke="#8680cc" stroke-width="1.0"/>
<circle cx="113.6" cy="748.5" r="1.7" fill="none" stroke="#8680cc" stroke-width="1.0"/>
<circle cx="126.2" cy="768.7" r="1.7" fill="none" stroke="#7bb02a" stroke-width="1.0"/>
<circle cx="125.6" cy="762.4" r="1.35" fill="#a6761d"/>
<path d="M101.2 773.7h4.2l-2.1-3.6z" fill="#e0791a"/>
<circle cx="167.7" cy="768.9" r="1.7" fill="none" stroke="#7272cc" stroke-width="1.0"/>
<path d="M116.6 769.5h4.2l-2.1-3.6z" fill="#e0791a"/>
<path d="M98.7 776.9h4.2l-2.1-3.6z" fill="#e0791a"/>
<circle cx="104.5" cy="732.6" r="1.7" fill="none" stroke="#8680cc" stroke-width="1.0"/>
<circle cx="120.8" cy="762.7" r="1.7" fill="none" stroke="#8680cc" stroke-width="1.0"/>
<circle cx="135.4" cy="765.1" r="1.7" fill="none" stroke="#8680cc" stroke-width="1.0"/>
<circle cx="124.2" cy="738.6" r="1.7" fill="none" stroke="#8680cc" stroke-width="1.0"/>
<path d="M127.7 750.3h4.4M129.9 748.1v4.4" stroke="#1b9e77" stroke-width="1.1"/>
<circle cx="181.3" cy="748.2" r="1.7" fill="none" stroke="#e5408f" stroke-width="1.0"/>
<circle cx="121.9" cy="775.4" r="1.35" fill="#e0791a"/>
<path d="M95.9 761.9h4.2l-2.1-3.6z" fill="#e0791a"/>
<circle cx="123.0" cy="750.3" r="1.35" fill="#a6761d"/>
<path d="M230.8 776.8h4.2l-2.1-3.6z" fill="#e0791a"/>
<circle cx="106.6" cy="765.8" r="1.35" fill="#a6761d"/>
<circle cx="154.4" cy="771.4" r="1.7" fill="none" stroke="#8680cc" stroke-width="1.0"/>
<circle cx="99.2" cy="756.6" r="1.7" fill="none" stroke="#8680cc" stroke-width="1.0"/>
<circle cx="140.7" cy="760.4" r="1.35" fill="#a6761d"/>
<path d="M135.1 775.7h4.2l-2.1-3.6z" fill="#e0791a"/>
<path d="M127.9 770.4h4.2l-2.1-3.6z" fill="#e0791a"/>
<circle cx="99.3" cy="745.1" r="1.7" fill="none" stroke="#7bb02a" stroke-width="1.0"/>
<path d="M103.0 758.0h4.2l-2.1-3.6z" fill="#c8761e"/>
<path d="M115.1 774.8h4.4M117.3 772.6v4.4" stroke="#1b9e77" stroke-width="1.1"/>
<circle cx="129.5" cy="775.4" r="1.7" fill="none" stroke="#e5408f" stroke-width="1.0"/>
<path d="M165.7 758.6h4.2l-2.1-3.6z" fill="#c8761e"/>
<path d="M125.6 755.3h4.4M127.8 753.1v4.4" stroke="#1b9e77" stroke-width="1.1"/>
<circle cx="131.8" cy="719.5" r="1.7" fill="none" stroke="#8680cc" stroke-width="1.0"/>
<circle cx="100.0" cy="769.1" r="1.35" fill="#a6761d"/>
<circle cx="96.2" cy="748.6" r="1.7" fill="none" stroke="#8680cc" stroke-width="1.0"/>
<path d="M136.8 757.2h4.4M139.0 755.0v4.4" stroke="#1b9e77" stroke-width="1.1"/>
<circle cx="153.4" cy="741.2" r="1.7" fill="none" stroke="#8680cc" stroke-width="1.0"/>
<path d="M99.1 749.9h4.4M101.3 747.7v4.4" stroke="#1b9e77" stroke-width="1.1"/>
<circle cx="110.5" cy="760.4" r="1.7" fill="none" stroke="#e6ab02" stroke-width="1.0"/>
<circle cx="189.5" cy="761.0" r="1.7" fill="none" stroke="#e6ab02" stroke-width="1.0"/>
<circle cx="161.2" cy="755.5" r="1.35" fill="#c8761e"/>
<path d="M180.8 742.8h4.2l-2.1-3.6z" fill="#e0791a"/>
<circle cx="114.8" cy="775.4" r="1.35" fill="#787878"/>
<circle cx="173.6" cy="756.8" r="1.35" fill="#a6761d"/>
<circle cx="185.7" cy="751.5" r="1.7" fill="none" stroke="#7272cc" stroke-width="1.0"/>
<circle cx="108.7" cy="767.8" r="1.7" fill="none" stroke="#e6ab02" stroke-width="1.0"/>
<path d="M114.5 768.4h4.4M116.7 766.2v4.4" stroke="#1b9e77" stroke-width="1.1"/>
<circle cx="95.7" cy="775.0" r="1.35" fill="#787878"/>
<path d="M165.2 749.3h4l-2-3.4z" fill="none" stroke="#8680cc" stroke-width="0.85"/>
<circle cx="198.3" cy="764.6" r="1.35" fill="#7bb02a"/>
<circle cx="215.3" cy="754.5" r="1.7" fill="none" stroke="#8680cc" stroke-width="1.0"/>
<circle cx="99.8" cy="754.9" r="1.7" fill="none" stroke="#8680cc" stroke-width="1.0"/>
<circle cx="107.8" cy="766.2" r="1.7" fill="none" stroke="#8680cc" stroke-width="1.0"/>
<circle cx="98.4" cy="774.0" r="1.7" fill="none" stroke="#7272cc" stroke-width="1.0"/>
<path d="M204.5 752.8h4.2l-2.1-3.6z" fill="#e0791a"/>
<circle cx="199.2" cy="761.7" r="1.7" fill="none" stroke="#e6ab02" stroke-width="1.0"/>
<path d="M108.0 773.4h4.4M110.2 771.2v4.4" stroke="#1b9e77" stroke-width="1.1"/>
<path d="M149.6 742.1h4.2l-2.1-3.6z" fill="#c8761e"/>
<circle cx="116.9" cy="762.0" r="1.35" fill="#a6761d"/>
<circle cx="96.4" cy="764.8" r="1.7" fill="none" stroke="#8680cc" stroke-width="1.0"/>
<circle cx="133.2" cy="754.9" r="1.7" fill="none" stroke="#8680cc" stroke-width="1.0"/>
<circle cx="240.7" cy="772.4" r="1.35" fill="#e0791a"/>
<path d="M193.5 775.0h4.4M195.7 772.8v4.4" stroke="#1b9e77" stroke-width="1.1"/>
<circle cx="139.6" cy="769.2" r="1.35" fill="#7bb02a"/>
<circle cx="181.3" cy="753.9" r="1.35" fill="#787878"/>
<path d="M147.6 748.5h4.2l-2.1-3.6z" fill="#e0791a"/>
<circle cx="102.1" cy="767.7" r="1.35" fill="#a6761d"/>
<circle cx="100.1" cy="747.7" r="1.7" fill="none" stroke="#7272cc" stroke-width="1.0"/>
<path d="M141.1 747.3h4.2l-2.1-3.6z" fill="#e0791a"/>
<circle cx="120.3" cy="766.1" r="1.35" fill="#787878"/>
<path d="M101.0 774.7h4.2l-2.1-3.6z" fill="#c8761e"/>
<circle cx="100.5" cy="756.4" r="1.35" fill="#e0791a"/>
<circle cx="130.9" cy="749.5" r="1.7" fill="none" stroke="#7bb02a" stroke-width="1.0"/>
<circle cx="169.2" cy="761.4" r="1.7" fill="none" stroke="#8680cc" stroke-width="1.0"/>
<circle cx="112.1" cy="755.6" r="1.7" fill="none" stroke="#e6ab02" stroke-width="1.0"/>
<circle cx="136.7" cy="734.5" r="1.35" fill="#a6761d"/>
<circle cx="182.8" cy="750.6" r="1.7" fill="none" stroke="#8680cc" stroke-width="1.0"/>
<circle cx="121.3" cy="773.9" r="1.7" fill="none" stroke="#e6ab02" stroke-width="1.0"/>
<circle cx="128.4" cy="774.9" r="1.35" fill="#a6761d"/>
<circle cx="132.1" cy="750.0" r="1.35" fill="#7bb02a"/>
<circle cx="124.6" cy="776.3" r="1.35" fill="#7bb02a"/>
<circle cx="236.5" cy="764.6" r="1.35" fill="#c8761e"/>
<path d="M132.6 754.0h4l-2-3.4z" fill="none" stroke="#8680cc" stroke-width="0.85"/>
<circle cx="255.3" cy="753.0" r="1.35" fill="#787878"/>
<circle cx="115.2" cy="774.6" r="1.35" fill="#a6761d"/>
<path d="M102.0 751.3h4.4M104.2 749.1v4.4" stroke="#1b9e77" stroke-width="1.1"/>
<circle cx="100.9" cy="721.2" r="1.35" fill="#7bb02a"/>
<path d="M140.6 738.0h4l-2-3.4z" fill="none" stroke="#8680cc" stroke-width="0.85"/>
<circle cx="120.2" cy="770.5" r="1.7" fill="none" stroke="#e6ab02" stroke-width="1.0"/>
<circle cx="100.6" cy="748.5" r="1.7" fill="none" stroke="#7bb02a" stroke-width="1.0"/>
<circle cx="169.2" cy="763.4" r="1.7" fill="none" stroke="#7bb02a" stroke-width="1.0"/>
<circle cx="214.1" cy="768.6" r="1.7" fill="none" stroke="#8680cc" stroke-width="1.0"/>
<circle cx="104.5" cy="770.6" r="1.7" fill="none" stroke="#e6ab02" stroke-width="1.0"/>
<circle cx="193.1" cy="755.7" r="1.7" fill="none" stroke="#8680cc" stroke-width="1.0"/>
<path d="M136.7 760.5h4.4M138.9 758.3v4.4" stroke="#1b9e77" stroke-width="1.1"/>
<path d="M127.3 768.0h4.4M129.5 765.8v4.4" stroke="#1b9e77" stroke-width="1.1"/>
<circle cx="125.2" cy="775.0" r="1.35" fill="#a6761d"/>
<circle cx="145.1" cy="765.0" r="1.35" fill="#e0791a"/>
<path d="M94.7 751.5h4l-2-3.4z" fill="none" stroke="#8680cc" stroke-width="0.85"/>
<circle cx="236.7" cy="763.4" r="1.7" fill="none" stroke="#8680cc" stroke-width="1.0"/>
<path d="M104.7 772.6h4.2l-2.1-3.6z" fill="#e5408f"/>
<circle cx="122.4" cy="764.5" r="1.7" fill="none" stroke="#7272cc" stroke-width="1.0"/>
<path d="M185.4 766.6h4l-2-3.4z" fill="none" stroke="#8680cc" stroke-width="0.85"/>
<path d="M174.4 766.7h4.4M176.6 764.5v4.4" stroke="#1b9e77" stroke-width="1.1"/>
<path d="M236.2 749.9h4.2l-2.1-3.6z" fill="#c8761e"/>
<circle cx="107.0" cy="760.3" r="1.35" fill="#a6761d"/>
<path d="M106.0 736.3h4.2l-2.1-3.6z" fill="#e0791a"/>
<path d="M263.3 769.5h4.4M265.5 767.3v4.4" stroke="#1b9e77" stroke-width="1.1"/>
<circle cx="118.3" cy="749.3" r="1.7" fill="none" stroke="#8680cc" stroke-width="1.0"/>
<circle cx="101.1" cy="767.2" r="1.7" fill="none" stroke="#8680cc" stroke-width="1.0"/>
<circle cx="110.8" cy="758.4" r="1.7" fill="none" stroke="#8680cc" stroke-width="1.0"/>
<circle cx="147.6" cy="769.6" r="1.7" fill="none" stroke="#8680cc" stroke-width="1.0"/>
<circle cx="110.4" cy="765.8" r="1.7" fill="none" stroke="#8680cc" stroke-width="1.0"/>
<path d="M120.7 757.6h4.2l-2.1-3.6z" fill="#e0791a"/>
<circle cx="118.1" cy="742.5" r="1.7" fill="none" stroke="#8680cc" stroke-width="1.0"/>
<circle cx="239.7" cy="760.8" r="1.7" fill="none" stroke="#8680cc" stroke-width="1.0"/>
<path d="M151.6 777.5h4l-2-3.4z" fill="none" stroke="#8680cc" stroke-width="0.85"/>
<circle cx="137.6" cy="765.4" r="1.7" fill="none" stroke="#8680cc" stroke-width="1.0"/>
<path d="M191.3 764.4h4.4M193.5 762.2v4.4" stroke="#1b9e77" stroke-width="1.1"/>
<circle cx="132.5" cy="771.8" r="1.7" fill="none" stroke="#7bb02a" stroke-width="1.0"/>
<circle cx="112.8" cy="739.1" r="1.7" fill="none" stroke="#8680cc" stroke-width="1.0"/>
<circle cx="104.5" cy="765.1" r="1.7" fill="none" stroke="#8680cc" stroke-width="1.0"/>
<path d="M132.3 761.0h4.4M134.5 758.8v4.4" stroke="#1b9e77" stroke-width="1.1"/>
<circle cx="111.7" cy="759.2" r="1.7" fill="none" stroke="#8680cc" stroke-width="1.0"/>
<circle cx="155.4" cy="769.0" r="1.35" fill="#c8761e"/>
<circle cx="197.7" cy="769.1" r="1.7" fill="none" stroke="#8680cc" stroke-width="1.0"/>
<circle cx="149.8" cy="767.6" r="1.35" fill="#e0791a"/>
<path d="M144.8 772.9h4.2l-2.1-3.6z" fill="#e0791a"/>
<circle cx="104.3" cy="760.8" r="1.7" fill="none" stroke="#7272cc" stroke-width="1.0"/>
<circle cx="158.2" cy="775.1" r="1.7" fill="none" stroke="#8680cc" stroke-width="1.0"/>
<path d="M103.3 772.0h4.2l-2.1-3.6z" fill="#c8761e"/>
<circle cx="113.1" cy="767.7" r="1.7" fill="none" stroke="#e6ab02" stroke-width="1.0"/>
<path d="M153.2 767.5h4.2l-2.1-3.6z" fill="#c8761e"/>
<path d="M113.7 736.4h4.2l-2.1-3.6z" fill="#c8761e"/>
<path d="M137.4 777.8h4.2l-2.1-3.6z" fill="#e0791a"/>
<circle cx="170.4" cy="764.5" r="1.7" fill="none" stroke="#8680cc" stroke-width="1.0"/>
<path d="M149.8 730.8h4.2l-2.1-3.6z" fill="#e5408f"/>
<circle cx="110.8" cy="731.7" r="1.7" fill="none" stroke="#7272cc" stroke-width="1.0"/>
<circle cx="151.7" cy="748.1" r="1.35" fill="#a6761d"/>
<path d="M140.5 771.1h4.2l-2.1-3.6z" fill="#e0791a"/>
<circle cx="127.0" cy="774.5" r="1.35" fill="#787878"/>
<circle cx="178.4" cy="763.9" r="1.35" fill="#a6761d"/>
<circle cx="107.7" cy="771.7" r="1.35" fill="#787878"/>
<circle cx="103.9" cy="771.0" r="1.7" fill="none" stroke="#8680cc" stroke-width="1.0"/>
<path d="M148.4 768.7h4.4M150.6 766.5v4.4" stroke="#1b9e77" stroke-width="1.1"/>
<circle cx="153.4" cy="742.9" r="1.35" fill="#7bb02a"/>
<circle cx="102.0" cy="775.4" r="1.7" fill="none" stroke="#e6ab02" stroke-width="1.0"/>
<circle cx="108.2" cy="769.0" r="1.7" fill="none" stroke="#7272cc" stroke-width="1.0"/>
<circle cx="149.0" cy="768.6" r="1.35" fill="#787878"/>
<circle cx="183.0" cy="764.2" r="1.7" fill="none" stroke="#8680cc" stroke-width="1.0"/>
<path d="M124.6 769.7h4l-2-3.4z" fill="none" stroke="#8680cc" stroke-width="0.85"/>
<circle cx="112.8" cy="762.1" r="1.7" fill="none" stroke="#8680cc" stroke-width="1.0"/>
<path d="M121.2 766.0h4.2l-2.1-3.6z" fill="#e0791a"/>
<circle cx="97.2" cy="716.3" r="1.7" fill="none" stroke="#e5408f" stroke-width="1.0"/>
<circle cx="134.8" cy="756.8" r="1.7" fill="none" stroke="#8680cc" stroke-width="1.0"/>
<circle cx="132.2" cy="760.5" r="1.7" fill="none" stroke="#7272cc" stroke-width="1.0"/>
<path d="M142.7 742.3h4.2l-2.1-3.6z" fill="#e0791a"/>
<circle cx="101.8" cy="739.6" r="1.35" fill="#a6761d"/>
<circle cx="182.9" cy="772.6" r="1.35" fill="#a6761d"/>
<circle cx="220.2" cy="763.1" r="1.35" fill="#a6761d"/>
<circle cx="179.9" cy="775.7" r="1.35" fill="#a6761d"/>
<path d="M111.2 757.1h4.4M113.4 754.9v4.4" stroke="#1b9e77" stroke-width="1.1"/>
<circle cx="116.8" cy="768.6" r="1.7" fill="none" stroke="#e6ab02" stroke-width="1.0"/>
<circle cx="142.7" cy="762.4" r="1.7" fill="none" stroke="#7bb02a" stroke-width="1.0"/>
<path d="M231.8 752.2h4.2l-2.1-3.6z" fill="#c8761e"/>
<circle cx="99.2" cy="775.7" r="1.7" fill="none" stroke="#8680cc" stroke-width="1.0"/>
<path d="M120.6 768.7h4.2l-2.1-3.6z" fill="#e0791a"/>
<circle cx="156.2" cy="774.8" r="1.35" fill="#a6761d"/>
<circle cx="187.6" cy="771.3" r="1.35" fill="#7bb02a"/>
<circle cx="200.9" cy="754.1" r="1.7" fill="none" stroke="#8680cc" stroke-width="1.0"/>
<circle cx="244.8" cy="760.8" r="1.7" fill="none" stroke="#8680cc" stroke-width="1.0"/>
<circle cx="173.4" cy="745.0" r="1.7" fill="none" stroke="#e6ab02" stroke-width="1.0"/>
<path d="M123.1 751.0h4.4M125.3 748.8v4.4" stroke="#1b9e77" stroke-width="1.1"/>
<path d="M139.8 771.1h4.2l-2.1-3.6z" fill="#c8761e"/>
<circle cx="98.9" cy="763.7" r="1.35" fill="#7bb02a"/>
<circle cx="241.6" cy="743.8" r="1.35" fill="#7bb02a"/>
<path d="M189.4 747.5h4.2l-2.1-3.6z" fill="#e0791a"/>
<circle cx="151.1" cy="770.7" r="1.7" fill="none" stroke="#e6ab02" stroke-width="1.0"/>
<path d="M131.4 757.1h4.4M133.6 754.9v4.4" stroke="#1b9e77" stroke-width="1.1"/>
<circle cx="109.3" cy="769.3" r="1.35" fill="#787878"/>
<circle cx="106.2" cy="776.6" r="1.7" fill="none" stroke="#7bb02a" stroke-width="1.0"/>
<path d="M128.9 761.0h4.4M131.1 758.8v4.4" stroke="#1b9e77" stroke-width="1.1"/>
<path d="M131.2 772.4h4.4M133.4 770.2v4.4" stroke="#1b9e77" stroke-width="1.1"/>
<path d="M135.2 749.7h4.2l-2.1-3.6z" fill="#e0791a"/>
<circle cx="102.2" cy="750.4" r="1.7" fill="none" stroke="#7272cc" stroke-width="1.0"/>
<path d="M140.5 776.1h4.4M142.7 773.9v4.4" stroke="#1b9e77" stroke-width="1.1"/>
<circle cx="125.0" cy="765.8" r="1.7" fill="none" stroke="#8680cc" stroke-width="1.0"/>
<path d="M123.5 752.7h4.2l-2.1-3.6z" fill="#e0791a"/>
<circle cx="120.0" cy="770.5" r="1.35" fill="#787878"/>
<circle cx="124.2" cy="774.7" r="1.7" fill="none" stroke="#8680cc" stroke-width="1.0"/>
<circle cx="209.6" cy="720.5" r="1.7" fill="none" stroke="#8680cc" stroke-width="1.0"/>
<circle cx="157.4" cy="742.1" r="1.35" fill="#c8761e"/>
<circle cx="149.7" cy="771.4" r="1.7" fill="none" stroke="#e5408f" stroke-width="1.0"/>
<circle cx="156.0" cy="766.6" r="1.7" fill="none" stroke="#e6ab02" stroke-width="1.0"/>
<circle cx="99.7" cy="738.8" r="1.7" fill="none" stroke="#7272cc" stroke-width="1.0"/>
<circle cx="148.8" cy="764.6" r="1.7" fill="none" stroke="#8680cc" stroke-width="1.0"/>
<circle cx="123.1" cy="761.3" r="1.7" fill="none" stroke="#8680cc" stroke-width="1.0"/>
<circle cx="100.9" cy="751.9" r="1.7" fill="none" stroke="#8680cc" stroke-width="1.0"/>
<circle cx="119.1" cy="768.3" r="1.7" fill="none" stroke="#8680cc" stroke-width="1.0"/>
<circle cx="118.3" cy="744.1" r="1.7" fill="none" stroke="#7272cc" stroke-width="1.0"/>
<circle cx="95.4" cy="769.7" r="1.35" fill="#a6761d"/>
<circle cx="95.8" cy="766.1" r="1.35" fill="#7bb02a"/>
<circle cx="150.5" cy="743.5" r="1.35" fill="#a6761d"/>
<path d="M114.6 771.3h4.2l-2.1-3.6z" fill="#c8761e"/>
<circle cx="124.6" cy="766.8" r="1.35" fill="#e0791a"/>
<path d="M104.1 738.6h4.2l-2.1-3.6z" fill="#e0791a"/>
<path d="M155.8 754.0h4.2l-2.1-3.6z" fill="#e0791a"/>
<circle cx="108.0" cy="750.5" r="1.7" fill="none" stroke="#7272cc" stroke-width="1.0"/>
<path d="M162.5 765.1h4.2l-2.1-3.6z" fill="#e0791a"/>
<circle cx="97.9" cy="766.4" r="1.7" fill="none" stroke="#8680cc" stroke-width="1.0"/>
<circle cx="97.6" cy="738.9" r="1.35" fill="#e0791a"/>
<circle cx="103.3" cy="752.3" r="1.35" fill="#7bb02a"/>
<circle cx="116.3" cy="751.6" r="1.35" fill="#787878"/>
<circle cx="100.0" cy="763.8" r="1.35" fill="#e0791a"/>
<circle cx="174.6" cy="732.3" r="1.35" fill="#e6ab02"/>
<circle cx="133.8" cy="727.5" r="1.7" fill="none" stroke="#e6ab02" stroke-width="1.0"/>
<circle cx="97.2" cy="760.2" r="1.35" fill="#787878"/>
<circle cx="108.5" cy="773.0" r="1.35" fill="#e0791a"/>
<path d="M102.4 755.1h4.2l-2.1-3.6z" fill="#e0791a"/>
<path d="M129.3 773.6h4l-2-3.4z" fill="none" stroke="#8680cc" stroke-width="0.85"/>
<circle cx="126.1" cy="754.8" r="1.35" fill="#787878"/>
<path d="M120.8 742.9h4.2l-2.1-3.6z" fill="#e0791a"/>
<circle cx="118.4" cy="757.5" r="1.7" fill="none" stroke="#7272cc" stroke-width="1.0"/>
<circle cx="102.3" cy="759.6" r="1.35" fill="#e6ab02"/>
<circle cx="101.0" cy="744.2" r="1.7" fill="none" stroke="#8680cc" stroke-width="1.0"/>
<path d="M121.4 767.4h4l-2-3.4z" fill="none" stroke="#8680cc" stroke-width="0.85"/>
<circle cx="95.6" cy="712.1" r="1.35" fill="#c8761e"/>
<circle cx="131.8" cy="770.1" r="1.35" fill="#e0791a"/>
<path d="M106.1 767.0h4.2l-2.1-3.6z" fill="#e6ab02"/>
<path d="M125.2 762.3h4.2l-2.1-3.6z" fill="#e6ab02"/>
<circle cx="139.7" cy="764.9" r="1.35" fill="#787878"/>
<path d="M111.4 773.4h4.2l-2.1-3.6z" fill="#e0791a"/>
<circle cx="127.2" cy="750.2" r="1.35" fill="#a6761d"/>
<path d="M100.3 777.7h4.2l-2.1-3.6z" fill="#e0791a"/>
<path d="M117.0 768.6h4.2l-2.1-3.6z" fill="#e0791a"/>
<circle cx="156.4" cy="753.0" r="1.35" fill="#e6ab02"/>
<path d="M113.9 764.8h4.2l-2.1-3.6z" fill="#e0791a"/>
<circle cx="127.0" cy="761.3" r="1.7" fill="none" stroke="#7272cc" stroke-width="1.0"/>
<path d="M126.4 768.7h4.2l-2.1-3.6z" fill="#c8761e"/>
<path d="M151.6 765.3h4.2l-2.1-3.6z" fill="#e6ab02"/>
<circle cx="103.0" cy="765.8" r="1.35" fill="#a6761d"/>
<circle cx="102.4" cy="741.1" r="1.7" fill="none" stroke="#8680cc" stroke-width="1.0"/>
<path d="M154.2 774.1h4.2l-2.1-3.6z" fill="#e0791a"/>
<circle cx="161.2" cy="740.1" r="1.7" fill="none" stroke="#e6ab02" stroke-width="1.0"/>
<circle cx="112.9" cy="736.6" r="1.35" fill="#e0791a"/>
<circle cx="111.8" cy="754.8" r="1.7" fill="none" stroke="#7bb02a" stroke-width="1.0"/>
<path d="M97.7 768.1h4.2l-2.1-3.6z" fill="#e0791a"/>
<circle cx="129.1" cy="770.5" r="1.35" fill="#7bb02a"/>
<circle cx="158.9" cy="771.0" r="1.7" fill="none" stroke="#7bb02a" stroke-width="1.0"/>
<circle cx="99.4" cy="775.9" r="1.7" fill="none" stroke="#7bb02a" stroke-width="1.0"/>
<circle cx="96.2" cy="770.3" r="1.35" fill="#787878"/>
<circle cx="117.0" cy="771.6" r="1.35" fill="#e0791a"/>
<circle cx="118.9" cy="749.6" r="1.7" fill="none" stroke="#8680cc" stroke-width="1.0"/>
<path d="M198.9 777.0h4.2l-2.1-3.6z" fill="#e0791a"/>
<circle cx="131.9" cy="759.3" r="1.35" fill="#e0791a"/>
<path d="M183.8 776.4h4.2l-2.1-3.6z" fill="#e0791a"/>
<circle cx="105.3" cy="765.6" r="1.35" fill="#e0791a"/>
<circle cx="118.2" cy="756.8" r="1.35" fill="#e5408f"/>
<circle cx="143.6" cy="751.6" r="1.35" fill="#787878"/>
<circle cx="130.7" cy="757.9" r="1.35" fill="#a6761d"/>
<path d="M125.2 751.9h4.2l-2.1-3.6z" fill="#e0791a"/>
<path d="M127.4 760.7h4.4M129.6 758.5v4.4" stroke="#1b9e77" stroke-width="1.1"/>
<path d="M118.7 746.8h4.2l-2.1-3.6z" fill="#e0791a"/>
<path d="M145.4 772.8h4.2l-2.1-3.6z" fill="#e0791a"/>
<circle cx="147.2" cy="744.5" r="1.35" fill="#7bb02a"/>
<circle cx="104.0" cy="753.1" r="1.7" fill="none" stroke="#e6ab02" stroke-width="1.0"/>
<circle cx="96.8" cy="775.6" r="1.35" fill="#e0791a"/>
<circle cx="100.1" cy="755.7" r="1.7" fill="none" stroke="#7bb02a" stroke-width="1.0"/>
<circle cx="106.6" cy="748.2" r="1.35" fill="#e6ab02"/>
<path d="M95.9 743.1h4.4M98.1 740.9v4.4" stroke="#1b9e77" stroke-width="1.1"/>
<path d="M111.3 757.8h4.4M113.5 755.6v4.4" stroke="#1b9e77" stroke-width="1.1"/>
<circle cx="114.8" cy="765.0" r="1.7" fill="none" stroke="#8680cc" stroke-width="1.0"/>
<path d="M126.9 760.2h4.2l-2.1-3.6z" fill="#e0791a"/>
<circle cx="95.3" cy="756.8" r="1.7" fill="none" stroke="#8680cc" stroke-width="1.0"/>
<path d="M98.7 774.6h4.2l-2.1-3.6z" fill="#1b9e77"/>
<circle cx="117.3" cy="759.3" r="1.35" fill="#e0791a"/>
<circle cx="105.5" cy="767.0" r="1.35" fill="#e0791a"/>
<path d="M197.8 729.5h4.2l-2.1-3.6z" fill="#e0791a"/>
<circle cx="152.2" cy="755.6" r="1.7" fill="none" stroke="#e6ab02" stroke-width="1.0"/>
<circle cx="96.7" cy="754.4" r="1.7" fill="none" stroke="#8680cc" stroke-width="1.0"/>
<circle cx="113.0" cy="758.8" r="1.35" fill="#a6761d"/>
<circle cx="98.5" cy="762.4" r="1.35" fill="#7bb02a"/>
<path d="M108.8 731.0h4.4M111.0 728.8v4.4" stroke="#1b9e77" stroke-width="1.1"/>
<path d="M145.3 770.5h4.2l-2.1-3.6z" fill="#c8761e"/>
<path d="M103.2 766.1h4.4M105.4 763.9v4.4" stroke="#1b9e77" stroke-width="1.1"/>
<circle cx="145.7" cy="757.5" r="1.7" fill="none" stroke="#e5408f" stroke-width="1.0"/>
<path d="M110.8 770.0h4.4M113.0 767.8v4.4" stroke="#1b9e77" stroke-width="1.1"/>
<path d="M134.5 765.0h4.2l-2.1-3.6z" fill="#e0791a"/>
<path d="M122.8 772.0h4.2l-2.1-3.6z" fill="#e0791a"/>
<circle cx="97.6" cy="763.7" r="1.35" fill="#c8761e"/>
<path d="M157.8 770.2h4.2l-2.1-3.6z" fill="#e0791a"/>
<circle cx="105.6" cy="759.5" r="1.35" fill="#e6ab02"/>
<circle cx="127.4" cy="773.6" r="1.35" fill="#e0791a"/>
<circle cx="127.9" cy="764.8" r="1.35" fill="#e0791a"/>
<circle cx="147.0" cy="761.5" r="1.35" fill="#e0791a"/>
<circle cx="123.2" cy="773.2" r="1.7" fill="none" stroke="#8680cc" stroke-width="1.0"/>
<circle cx="101.5" cy="758.1" r="1.7" fill="none" stroke="#8680cc" stroke-width="1.0"/>
<circle cx="145.5" cy="737.2" r="1.7" fill="none" stroke="#e5408f" stroke-width="1.0"/>
<circle cx="143.5" cy="743.7" r="1.35" fill="#e0791a"/>
<path d="M98.0 777.7h4.2l-2.1-3.6z" fill="#e0791a"/>
<circle cx="141.1" cy="754.9" r="1.35" fill="#7bb02a"/>
<circle cx="99.7" cy="769.7" r="1.7" fill="none" stroke="#8680cc" stroke-width="1.0"/>
<path d="M147.2 773.8h4.2l-2.1-3.6z" fill="#e0791a"/>
<circle cx="167.7" cy="761.2" r="1.7" fill="none" stroke="#8680cc" stroke-width="1.0"/>
<path d="M140.7 756.3h4.2l-2.1-3.6z" fill="#e6ab02"/>
<path d="M125.0 775.4h4.2l-2.1-3.6z" fill="#e0791a"/>
<circle cx="107.0" cy="771.6" r="1.7" fill="none" stroke="#8680cc" stroke-width="1.0"/>
<path d="M124.9 774.5h4.2l-2.1-3.6z" fill="#e0791a"/>
<path d="M138.3 740.8h4.2l-2.1-3.6z" fill="#e0791a"/>
<path d="M135.0 747.0h4.2l-2.1-3.6z" fill="#e5408f"/>
<path d="M118.5 769.2h4.2l-2.1-3.6z" fill="#e0791a"/>
<path d="M103.3 750.5h4.2l-2.1-3.6z" fill="#e0791a"/>
<path d="M106.6 744.5h4.4M108.8 742.3v4.4" stroke="#1b9e77" stroke-width="1.1"/>
<path d="M133.8 751.7h4.2l-2.1-3.6z" fill="#e0791a"/>
<path d="M94.3 758.1h4.2l-2.1-3.6z" fill="#1b9e77"/>
<circle cx="109.2" cy="765.8" r="1.35" fill="#e0791a"/>
<circle cx="107.1" cy="752.1" r="1.35" fill="#e0791a"/>
<circle cx="98.7" cy="739.2" r="1.7" fill="none" stroke="#8680cc" stroke-width="1.0"/>
<path d="M111.8 764.1h4.2l-2.1-3.6z" fill="#e0791a"/>
<circle cx="101.5" cy="753.2" r="1.7" fill="none" stroke="#8680cc" stroke-width="1.0"/>
<circle cx="116.3" cy="773.6" r="1.35" fill="#a6761d"/>
<path d="M118.4 775.7h4.2l-2.1-3.6z" fill="#e5408f"/>
<path d="M148.2 755.0h4.2l-2.1-3.6z" fill="#e0791a"/>
<circle cx="127.5" cy="776.3" r="1.7" fill="none" stroke="#e5408f" stroke-width="1.0"/>
<circle cx="132.3" cy="761.3" r="1.7" fill="none" stroke="#8680cc" stroke-width="1.0"/>
<circle cx="124.0" cy="770.3" r="1.35" fill="#c8761e"/>
<path d="M168.9 726.0h4.2l-2.1-3.6z" fill="#e0791a"/>
<path d="M132.7 774.6h4.2l-2.1-3.6z" fill="#e0791a"/>
<circle cx="102.0" cy="772.9" r="1.35" fill="#a6761d"/>
<circle cx="114.6" cy="757.2" r="1.7" fill="none" stroke="#7272cc" stroke-width="1.0"/>
<circle cx="136.9" cy="767.0" r="1.35" fill="#a6761d"/>
<circle cx="98.1" cy="765.5" r="1.35" fill="#e0791a"/>
<circle cx="128.8" cy="776.3" r="1.7" fill="none" stroke="#7272cc" stroke-width="1.0"/>
<circle cx="136.3" cy="764.8" r="1.7" fill="none" stroke="#e6ab02" stroke-width="1.0"/>
<circle cx="112.4" cy="759.1" r="1.35" fill="#a6761d"/>
<circle cx="118.1" cy="742.3" r="1.35" fill="#a6761d"/>
<path d="M139.1 777.6h4.2l-2.1-3.6z" fill="#e0791a"/>
<circle cx="115.7" cy="734.6" r="1.7" fill="none" stroke="#e5408f" stroke-width="1.0"/>
<circle cx="127.9" cy="752.2" r="1.35" fill="#e0791a"/>
<circle cx="102.9" cy="757.6" r="1.35" fill="#7bb02a"/>
<circle cx="141.9" cy="751.1" r="1.35" fill="#1b9e77"/>
<path d="M108.6 777.4h4.2l-2.1-3.6z" fill="#e0791a"/>
<circle cx="109.9" cy="771.1" r="1.7" fill="none" stroke="#8680cc" stroke-width="1.0"/>
<path d="M158.9 776.9h4.2l-2.1-3.6z" fill="#c8761e"/>
<path d="M122.4 744.8h4.2l-2.1-3.6z" fill="#e0791a"/>
<circle cx="108.2" cy="743.6" r="1.35" fill="#787878"/>
<path d="M104.3 759.2h4l-2-3.4z" fill="none" stroke="#8680cc" stroke-width="0.85"/>
<path d="M196.3 737.2h4.2l-2.1-3.6z" fill="#1b9e77"/>
<path d="M179.7 739.7h4.2l-2.1-3.6z" fill="#e0791a"/>
<circle cx="154.5" cy="765.3" r="1.35" fill="#7bb02a"/>
<path d="M125.8 750.8h4.2l-2.1-3.6z" fill="#c8761e"/>
<circle cx="124.9" cy="762.5" r="1.35" fill="#7bb02a"/>
<circle cx="115.7" cy="775.1" r="1.7" fill="none" stroke="#8680cc" stroke-width="1.0"/>
<circle cx="109.1" cy="772.7" r="1.7" fill="none" stroke="#8680cc" stroke-width="1.0"/>
<circle cx="123.0" cy="724.8" r="1.35" fill="#7bb02a"/>
<circle cx="99.8" cy="762.9" r="1.7" fill="none" stroke="#8680cc" stroke-width="1.0"/>
<path d="M107.7 777.6h4.2l-2.1-3.6z" fill="#e0791a"/>
<circle cx="111.8" cy="745.1" r="1.35" fill="#a6761d"/>
<path d="M126.9 736.8h4.2l-2.1-3.6z" fill="#c8761e"/>
<path d="M113.2 739.5h4l-2-3.4z" fill="none" stroke="#8680cc" stroke-width="0.85"/>
<circle cx="101.6" cy="773.8" r="1.7" fill="none" stroke="#7bb02a" stroke-width="1.0"/>
<path d="M119.8 770.8h4.2l-2.1-3.6z" fill="#e0791a"/>
<path d="M102.5 758.7h4.2l-2.1-3.6z" fill="#e0791a"/>
<path d="M106.1 760.8h4.4M108.3 758.6v4.4" stroke="#1b9e77" stroke-width="1.1"/>
<circle cx="98.6" cy="749.2" r="1.35" fill="#e0791a"/>
<circle cx="96.2" cy="762.8" r="1.35" fill="#7bb02a"/>
<path d="M135.1 774.8h4.2l-2.1-3.6z" fill="#e0791a"/>
<path d="M102.0 756.0h4.4M104.2 753.8v4.4" stroke="#1b9e77" stroke-width="1.1"/>
<path d="M104.3 761.4h4l-2-3.4z" fill="none" stroke="#8680cc" stroke-width="0.85"/>
<circle cx="98.1" cy="764.2" r="1.35" fill="#a6761d"/>
<path d="M130.0 766.1h4.2l-2.1-3.6z" fill="#e5408f"/>
<circle cx="139.6" cy="771.0" r="1.7" fill="none" stroke="#e5408f" stroke-width="1.0"/>
<circle cx="110.6" cy="756.7" r="1.7" fill="none" stroke="#8680cc" stroke-width="1.0"/>
<path d="M132.7 778.1h4.2l-2.1-3.6z" fill="#e0791a"/>
<circle cx="129.0" cy="769.3" r="1.35" fill="#e0791a"/>
<circle cx="102.4" cy="772.9" r="1.7" fill="none" stroke="#7bb02a" stroke-width="1.0"/>
<path d="M97.9 760.6h4l-2-3.4z" fill="none" stroke="#8680cc" stroke-width="0.85"/>
<path d="M134.0 745.5h4l-2-3.4z" fill="none" stroke="#8680cc" stroke-width="0.85"/>
<circle cx="99.3" cy="766.8" r="1.35" fill="#e0791a"/>
<path d="M144.9 745.2h4.2l-2.1-3.6z" fill="#e0791a"/>
<circle cx="128.7" cy="737.5" r="1.7" fill="none" stroke="#8680cc" stroke-width="1.0"/>
<path d="M147.5 771.9h4.2l-2.1-3.6z" fill="#e6ab02"/>
<circle cx="112.8" cy="716.1" r="1.7" fill="none" stroke="#8680cc" stroke-width="1.0"/>
<circle cx="118.1" cy="775.3" r="1.35" fill="#e0791a"/>
<circle cx="118.0" cy="773.1" r="1.35" fill="#a6761d"/>
<circle cx="121.0" cy="748.8" r="1.35" fill="#e0791a"/>
<path d="M102.1 739.6h4.2l-2.1-3.6z" fill="#e0791a"/>
<path d="M185.6 739.2h4l-2-3.4z" fill="none" stroke="#8680cc" stroke-width="0.85"/>
<path d="M94.7 759.4h4.2l-2.1-3.6z" fill="#e6ab02"/>
<circle cx="112.3" cy="757.0" r="1.7" fill="none" stroke="#e6ab02" stroke-width="1.0"/>
<circle cx="101.1" cy="768.6" r="1.7" fill="none" stroke="#8680cc" stroke-width="1.0"/>
<circle cx="162.9" cy="769.5" r="1.35" fill="#a6761d"/>
<path d="M133.9 775.9h4.2l-2.1-3.6z" fill="#c8761e"/>
<path d="M131.5 763.5h4.2l-2.1-3.6z" fill="#e0791a"/>
<circle cx="154.6" cy="771.2" r="1.35" fill="#e0791a"/>
<circle cx="105.8" cy="763.5" r="1.35" fill="#a6761d"/>
<circle cx="112.9" cy="772.9" r="1.35" fill="#e0791a"/>
<circle cx="114.4" cy="728.2" r="1.35" fill="#a6761d"/>
<path d="M96.6 773.7h4.4M98.8 771.5v4.4" stroke="#1b9e77" stroke-width="1.1"/>
<circle cx="102.4" cy="776.5" r="1.7" fill="none" stroke="#7272cc" stroke-width="1.0"/>
<circle cx="112.5" cy="774.2" r="1.7" fill="none" stroke="#8680cc" stroke-width="1.0"/>
<path d="M93.1 756.6h4.2l-2.1-3.6z" fill="#e0791a"/>
<circle cx="113.7" cy="732.2" r="1.35" fill="#e0791a"/>
<circle cx="160.0" cy="764.2" r="1.7" fill="none" stroke="#8680cc" stroke-width="1.0"/>
<circle cx="103.1" cy="758.7" r="1.7" fill="none" stroke="#8680cc" stroke-width="1.0"/>
<circle cx="101.7" cy="764.5" r="1.7" fill="none" stroke="#e6ab02" stroke-width="1.0"/>
<path d="M129.9 770.5h4.2l-2.1-3.6z" fill="#e0791a"/>
<circle cx="128.7" cy="773.6" r="1.35" fill="#e6ab02"/>
<circle cx="122.8" cy="757.6" r="1.35" fill="#a6761d"/>
<path d="M158.5 760.6h4.2l-2.1-3.6z" fill="#e5408f"/>
<circle cx="124.8" cy="776.3" r="1.35" fill="#a6761d"/>
<circle cx="95.8" cy="770.5" r="1.7" fill="none" stroke="#7bb02a" stroke-width="1.0"/>
<path d="M137.8 751.1h4.2l-2.1-3.6z" fill="#e0791a"/>
<path d="M112.9 770.3h4l-2-3.4z" fill="none" stroke="#8680cc" stroke-width="0.85"/>
<circle cx="98.1" cy="759.8" r="1.35" fill="#e0791a"/>
<circle cx="109.7" cy="755.4" r="1.35" fill="#e0791a"/>
<circle cx="97.9" cy="748.5" r="1.35" fill="#7bb02a"/>
<circle cx="113.5" cy="765.2" r="1.7" fill="none" stroke="#8680cc" stroke-width="1.0"/>
<circle cx="101.0" cy="734.7" r="1.7" fill="none" stroke="#e5408f" stroke-width="1.0"/>
<circle cx="123.6" cy="753.8" r="1.35" fill="#e0791a"/>
<circle cx="97.7" cy="773.8" r="1.7" fill="none" stroke="#e6ab02" stroke-width="1.0"/>
<circle cx="107.0" cy="757.9" r="1.35" fill="#e0791a"/>
<circle cx="139.1" cy="771.7" r="1.7" fill="none" stroke="#e6ab02" stroke-width="1.0"/>
<circle cx="102.3" cy="755.5" r="1.7" fill="none" stroke="#8680cc" stroke-width="1.0"/>
<circle cx="95.8" cy="743.4" r="1.7" fill="none" stroke="#7bb02a" stroke-width="1.0"/>
<circle cx="101.3" cy="763.7" r="1.35" fill="#e6ab02"/>
<circle cx="141.4" cy="773.6" r="1.35" fill="#e0791a"/>
<circle cx="127.0" cy="772.3" r="1.7" fill="none" stroke="#e5408f" stroke-width="1.0"/>
<circle cx="104.2" cy="776.6" r="1.7" fill="none" stroke="#8680cc" stroke-width="1.0"/>
<circle cx="171.0" cy="753.9" r="1.35" fill="#a6761d"/>
<path d="M158.8 770.6h4.2l-2.1-3.6z" fill="#e0791a"/>
<circle cx="108.8" cy="750.5" r="1.7" fill="none" stroke="#8680cc" stroke-width="1.0"/>
<circle cx="118.1" cy="760.5" r="1.7" fill="none" stroke="#7bb02a" stroke-width="1.0"/>
<path d="M124.1 755.9h4l-2-3.4z" fill="none" stroke="#8680cc" stroke-width="0.85"/>
<circle cx="132.9" cy="766.6" r="1.7" fill="none" stroke="#e6ab02" stroke-width="1.0"/>
<path d="M98.7 773.5h4.2l-2.1-3.6z" fill="#e0791a"/>
<circle cx="192.1" cy="739.6" r="1.7" fill="none" stroke="#7bb02a" stroke-width="1.0"/>
<path d="M125.0 754.0h4.2l-2.1-3.6z" fill="#c8761e"/>
<circle cx="96.8" cy="755.8" r="1.35" fill="#e0791a"/>
<circle cx="129.7" cy="774.7" r="1.7" fill="none" stroke="#8680cc" stroke-width="1.0"/>
<path d="M96.2 770.7h4.2l-2.1-3.6z" fill="#e5408f"/>
<path d="M152.1 756.8h4.2l-2.1-3.6z" fill="#e0791a"/>
<path d="M138.8 766.3h4.2l-2.1-3.6z" fill="#e6ab02"/>
<circle cx="96.9" cy="767.3" r="1.35" fill="#7bb02a"/>
<path d="M125.0 772.9h4.2l-2.1-3.6z" fill="#e0791a"/>
<circle cx="120.1" cy="765.5" r="1.35" fill="#e0791a"/>
<circle cx="99.4" cy="756.2" r="1.35" fill="#1b9e77"/>
<path d="M106.6 773.2h4l-2-3.4z" fill="none" stroke="#8680cc" stroke-width="0.85"/>
<path d="M165.2 759.3h4.2l-2.1-3.6z" fill="#e6ab02"/>
<circle cx="138.4" cy="744.5" r="1.7" fill="none" stroke="#8680cc" stroke-width="1.0"/>
<path d="M102.0 768.0h4.2l-2.1-3.6z" fill="#e0791a"/>
<path d="M112.5 776.1h4.4M114.7 773.9v4.4" stroke="#1b9e77" stroke-width="1.1"/>
<path d="M108.8 728.5h4.2l-2.1-3.6z" fill="#e0791a"/>
<path d="M102.1 773.4h4.2l-2.1-3.6z" fill="#e0791a"/>
<circle cx="116.4" cy="761.3" r="1.7" fill="none" stroke="#7272cc" stroke-width="1.0"/>
<path d="M106.7 776.6h4.2l-2.1-3.6z" fill="#e0791a"/>
<circle cx="116.4" cy="772.5" r="1.7" fill="none" stroke="#7272cc" stroke-width="1.0"/>
<circle cx="140.8" cy="767.3" r="1.7" fill="none" stroke="#e6ab02" stroke-width="1.0"/>
<path d="M95.5 769.2h4.4M97.7 767.0v4.4" stroke="#1b9e77" stroke-width="1.1"/>
<circle cx="103.9" cy="738.5" r="1.35" fill="#a6761d"/>
<circle cx="164.5" cy="755.8" r="1.35" fill="#a6761d"/>
<circle cx="127.5" cy="750.3" r="1.35" fill="#e0791a"/>
<circle cx="106.8" cy="734.7" r="1.7" fill="none" stroke="#7bb02a" stroke-width="1.0"/>
<path d="M120.6 766.8h4.2l-2.1-3.6z" fill="#e0791a"/>
<circle cx="112.5" cy="767.5" r="1.7" fill="none" stroke="#7272cc" stroke-width="1.0"/>
<circle cx="110.6" cy="765.5" r="1.7" fill="none" stroke="#7bb02a" stroke-width="1.0"/>
<circle cx="97.2" cy="746.4" r="1.7" fill="none" stroke="#8680cc" stroke-width="1.0"/>
<circle cx="165.7" cy="745.9" r="1.35" fill="#e0791a"/>
<path d="M100.5 759.3h4.2l-2.1-3.6z" fill="#e6ab02"/>
<path d="M118.3 773.4h4.2l-2.1-3.6z" fill="#1b9e77"/>
<circle cx="123.1" cy="775.4" r="1.7" fill="none" stroke="#8680cc" stroke-width="1.0"/>
<circle cx="102.9" cy="752.4" r="1.7" fill="none" stroke="#8680cc" stroke-width="1.0"/>
<path d="M97.6 749.3h4.2l-2.1-3.6z" fill="#e0791a"/>
<circle cx="121.4" cy="772.6" r="1.7" fill="none" stroke="#8680cc" stroke-width="1.0"/>
<path d="M125.2 742.9h4.2l-2.1-3.6z" fill="#e0791a"/>
<path d="M166.5 735.6h4.2l-2.1-3.6z" fill="#e0791a"/>
<circle cx="197.3" cy="760.8" r="1.35" fill="#a6761d"/>
<circle cx="126.8" cy="759.9" r="1.35" fill="#e0791a"/>
<circle cx="121.8" cy="761.8" r="1.35" fill="#e0791a"/>
<path d="M118.0 733.4h4.2l-2.1-3.6z" fill="#e0791a"/>
<circle cx="108.3" cy="743.9" r="1.7" fill="none" stroke="#e6ab02" stroke-width="1.0"/>
<circle cx="114.3" cy="771.7" r="1.7" fill="none" stroke="#8680cc" stroke-width="1.0"/>
<circle cx="114.5" cy="761.5" r="1.35" fill="#a6761d"/>
<circle cx="141.0" cy="745.5" r="1.35" fill="#a6761d"/>
<circle cx="102.3" cy="729.3" r="1.35" fill="#e5408f"/>
<circle cx="109.3" cy="746.2" r="1.35" fill="#a6761d"/>
<circle cx="125.6" cy="768.8" r="1.7" fill="none" stroke="#e6ab02" stroke-width="1.0"/>
<path d="M124.1 770.7h4.2l-2.1-3.6z" fill="#e0791a"/>
<circle cx="107.9" cy="775.6" r="1.7" fill="none" stroke="#7bb02a" stroke-width="1.0"/>
<path d="M107.6 759.0h4.2l-2.1-3.6z" fill="#c8761e"/>
<path d="M99.9 776.3h4.4M102.1 774.1v4.4" stroke="#1b9e77" stroke-width="1.1"/>
<circle cx="104.1" cy="747.1" r="1.35" fill="#a6761d"/>
<circle cx="157.0" cy="764.2" r="1.7" fill="none" stroke="#e5408f" stroke-width="1.0"/>
<circle cx="96.1" cy="768.9" r="1.7" fill="none" stroke="#8680cc" stroke-width="1.0"/>
<path d="M101.8 771.8h4.2l-2.1-3.6z" fill="#e0791a"/>
<path d="M95.2 766.0h4.2l-2.1-3.6z" fill="#e0791a"/>
<circle cx="108.2" cy="767.1" r="1.35" fill="#7bb02a"/>
<circle cx="100.0" cy="741.3" r="1.35" fill="#7bb02a"/>
<circle cx="99.2" cy="763.3" r="1.35" fill="#e0791a"/>
<circle cx="144.3" cy="762.1" r="1.35" fill="#c8761e"/>
<circle cx="95.5" cy="773.4" r="1.35" fill="#e0791a"/>
<circle cx="113.0" cy="768.7" r="1.7" fill="none" stroke="#e6ab02" stroke-width="1.0"/>
<circle cx="146.9" cy="753.4" r="1.7" fill="none" stroke="#8680cc" stroke-width="1.0"/>
<path d="M147.7 772.5h4.4M149.9 770.3v4.4" stroke="#1b9e77" stroke-width="1.1"/>
<path d="M114.8 774.4h4.2l-2.1-3.6z" fill="#e0791a"/>
<circle cx="132.9" cy="770.0" r="1.35" fill="#e0791a"/>
<circle cx="96.9" cy="769.7" r="1.35" fill="#e6ab02"/>
<path d="M108.3 759.5h4.2l-2.1-3.6z" fill="#e0791a"/>
<path d="M100.7 775.4h4.2l-2.1-3.6z" fill="#e0791a"/>
<path d="M104.7 769.0h4.4M106.9 766.8v4.4" stroke="#1b9e77" stroke-width="1.1"/>
<circle cx="105.8" cy="742.4" r="1.7" fill="none" stroke="#e6ab02" stroke-width="1.0"/>
<path d="M110.1 740.3h4.4M112.3 738.1v4.4" stroke="#1b9e77" stroke-width="1.1"/>
<circle cx="111.4" cy="760.4" r="1.35" fill="#a6761d"/>
<circle cx="133.9" cy="773.8" r="1.7" fill="none" stroke="#7bb02a" stroke-width="1.0"/>
<circle cx="96.5" cy="770.1" r="1.7" fill="none" stroke="#8680cc" stroke-width="1.0"/>
<circle cx="113.5" cy="763.0" r="1.35" fill="#a6761d"/>
<circle cx="111.9" cy="763.9" r="1.35" fill="#e0791a"/>
<path d="M94.2 769.2h4.2l-2.1-3.6z" fill="#e0791a"/>
<circle cx="118.0" cy="740.1" r="1.35" fill="#e0791a"/>
<circle cx="111.4" cy="770.7" r="1.7" fill="none" stroke="#8680cc" stroke-width="1.0"/>
<circle cx="104.2" cy="767.0" r="1.7" fill="none" stroke="#7272cc" stroke-width="1.0"/>
<path d="M111.9 749.3h4.2l-2.1-3.6z" fill="#e5408f"/>
<path d="M134.8 769.9h4l-2-3.4z" fill="none" stroke="#8680cc" stroke-width="0.85"/>
<circle cx="116.6" cy="774.9" r="1.35" fill="#7bb02a"/>
<circle cx="106.5" cy="771.7" r="1.35" fill="#7bb02a"/>
<path d="M94.5 762.1h4.2l-2.1-3.6z" fill="#e0791a"/>
<circle cx="186.0" cy="776.6" r="1.35" fill="#a6761d"/>
<path d="M102.1 763.9h4.2l-2.1-3.6z" fill="#e0791a"/>
<path d="M165.0 762.1h4l-2-3.4z" fill="none" stroke="#8680cc" stroke-width="0.85"/>
<path d="M135.4 776.4h4.2l-2.1-3.6z" fill="#e5408f"/>
<circle cx="145.1" cy="727.2" r="1.35" fill="#e0791a"/>
<circle cx="102.9" cy="769.1" r="1.7" fill="none" stroke="#8680cc" stroke-width="1.0"/>
<circle cx="106.8" cy="744.7" r="1.35" fill="#787878"/>
<circle cx="157.2" cy="729.9" r="1.35" fill="#787878"/>
<path d="M180.5 765.3h4.2l-2.1-3.6z" fill="#e5408f"/>
<circle cx="133.9" cy="771.5" r="1.7" fill="none" stroke="#7272cc" stroke-width="1.0"/>
<path d="M93.5 770.5h4.4M95.7 768.3v4.4" stroke="#1b9e77" stroke-width="1.1"/>
<path d="M94.4 758.1h4.2l-2.1-3.6z" fill="#c8761e"/>
<circle cx="160.5" cy="752.4" r="1.35" fill="#e0791a"/>
<path d="M133.4 748.8h4l-2-3.4z" fill="none" stroke="#8680cc" stroke-width="0.85"/>
<circle cx="97.1" cy="737.5" r="1.35" fill="#a6761d"/>
<path d="M101.1 770.9h4l-2-3.4z" fill="none" stroke="#8680cc" stroke-width="0.85"/>
<circle cx="127.0" cy="750.0" r="1.7" fill="none" stroke="#e6ab02" stroke-width="1.0"/>
<circle cx="95.5" cy="722.0" r="1.35" fill="#e0791a"/>
<circle cx="98.4" cy="717.7" r="1.7" fill="none" stroke="#8680cc" stroke-width="1.0"/>
<circle cx="108.4" cy="743.0" r="1.7" fill="none" stroke="#8680cc" stroke-width="1.0"/>
<path d="M108.8 763.8h4.4M111.0 761.6v4.4" stroke="#1b9e77" stroke-width="1.1"/>
<circle cx="202.4" cy="739.9" r="1.7" fill="none" stroke="#e6ab02" stroke-width="1.0"/>
<circle cx="109.5" cy="774.6" r="1.7" fill="none" stroke="#8680cc" stroke-width="1.0"/>
<circle cx="95.2" cy="749.9" r="1.7" fill="none" stroke="#8680cc" stroke-width="1.0"/>
<path d="M94.7 741.5h4l-2-3.4z" fill="none" stroke="#8680cc" stroke-width="0.85"/>
<path d="M130.5 774.5h4.2l-2.1-3.6z" fill="#e0791a"/>
<circle cx="111.9" cy="761.7" r="1.35" fill="#e6ab02"/>
<circle cx="102.6" cy="770.1" r="1.35" fill="#a6761d"/>
<path d="M162.6 746.3h4.4M164.8 744.1v4.4" stroke="#1b9e77" stroke-width="1.1"/>
<circle cx="102.7" cy="769.6" r="1.35" fill="#787878"/>
<circle cx="133.0" cy="762.2" r="1.7" fill="none" stroke="#e6ab02" stroke-width="1.0"/>
<circle cx="102.3" cy="764.7" r="1.7" fill="none" stroke="#8680cc" stroke-width="1.0"/>
<path d="M154.1 756.8h4.4M156.3 754.6v4.4" stroke="#1b9e77" stroke-width="1.1"/>
<path d="M108.8 772.4h4.2l-2.1-3.6z" fill="#e0791a"/>
<circle cx="102.7" cy="762.5" r="1.35" fill="#e6ab02"/>
<path d="M95.3 763.0h4.2l-2.1-3.6z" fill="#e0791a"/>
<path d="M112.4 721.7h4.4M114.6 719.5v4.4" stroke="#1b9e77" stroke-width="1.1"/>
<path d="M99.6 756.3h4.2l-2.1-3.6z" fill="#e0791a"/>
<circle cx="131.1" cy="754.7" r="1.35" fill="#e0791a"/>
<circle cx="109.6" cy="772.0" r="1.7" fill="none" stroke="#e6ab02" stroke-width="1.0"/>
<circle cx="95.1" cy="755.8" r="1.7" fill="none" stroke="#7272cc" stroke-width="1.0"/>
<circle cx="110.4" cy="747.8" r="1.35" fill="#e0791a"/>
<circle cx="134.7" cy="764.9" r="1.35" fill="#a6761d"/>
<circle cx="121.9" cy="772.7" r="1.35" fill="#7bb02a"/>
<circle cx="126.9" cy="774.0" r="1.7" fill="none" stroke="#e6ab02" stroke-width="1.0"/>
<path d="M142.1 766.5h4.2l-2.1-3.6z" fill="#e0791a"/>
<circle cx="119.2" cy="771.5" r="1.35" fill="#e0791a"/>
<path d="M118.2 759.3h4.2l-2.1-3.6z" fill="#1b9e77"/>
<path d="M106.2 754.7h4.2l-2.1-3.6z" fill="#1b9e77"/>
<circle cx="179.0" cy="762.4" r="1.35" fill="#e0791a"/>
<circle cx="99.5" cy="770.8" r="1.35" fill="#a6761d"/>
<circle cx="165.9" cy="762.2" r="1.35" fill="#e0791a"/>
<circle cx="95.4" cy="702.3" r="1.7" fill="none" stroke="#e5408f" stroke-width="1.0"/>
<circle cx="100.4" cy="736.6" r="1.7" fill="none" stroke="#e6ab02" stroke-width="1.0"/>
<path d="M95.1 738.9h4.2l-2.1-3.6z" fill="#e6ab02"/>
<circle cx="95.1" cy="736.2" r="1.35" fill="#e0791a"/>
<path d="M101.2 662.8h4.2l-2.1-3.6z" fill="#e0791a"/>
<circle cx="97.0" cy="665.1" r="1.7" fill="none" stroke="#8680cc" stroke-width="1.0"/>
<circle cx="97.4" cy="730.0" r="1.35" fill="#e0791a"/>
<circle cx="99.6" cy="737.9" r="1.7" fill="none" stroke="#e6ab02" stroke-width="1.0"/>
<circle cx="112.6" cy="720.2" r="1.7" fill="none" stroke="#7bb02a" stroke-width="1.0"/>
<path d="M98.5 690.8h4.2l-2.1-3.6z" fill="#e0791a"/>
<circle cx="95.5" cy="706.2" r="1.7" fill="none" stroke="#8680cc" stroke-width="1.0"/>
<circle cx="95.7" cy="706.6" r="1.7" fill="none" stroke="#e6ab02" stroke-width="1.0"/>
<circle cx="96.6" cy="674.2" r="1.7" fill="none" stroke="#e6ab02" stroke-width="1.0"/>
<circle cx="104.0" cy="731.0" r="1.7" fill="none" stroke="#7bb02a" stroke-width="1.0"/>
<path d="M106.8 732.4h4.2l-2.1-3.6z" fill="#e0791a"/>
<circle cx="95.8" cy="699.6" r="1.7" fill="none" stroke="#7bb02a" stroke-width="1.0"/>
<path d="M109.7 739.1h4.2l-2.1-3.6z" fill="#e0791a"/>
<path d="M93.9 725.9h4.2l-2.1-3.6z" fill="#e0791a"/>
<circle cx="108.1" cy="720.0" r="1.35" fill="#a6761d"/>
<circle cx="107.9" cy="736.9" r="1.35" fill="#e0791a"/>
<path d="M94.1 734.1h4.2l-2.1-3.6z" fill="#e0791a"/>
<circle cx="98.4" cy="723.6" r="1.35" fill="#7bb02a"/>
<circle cx="112.6" cy="728.3" r="1.7" fill="none" stroke="#8680cc" stroke-width="1.0"/>
<circle cx="99.6" cy="710.9" r="1.7" fill="none" stroke="#8680cc" stroke-width="1.0"/>
<path d="M103.8 713.1h4.2l-2.1-3.6z" fill="#e0791a"/>
<circle cx="95.5" cy="704.9" r="1.7" fill="none" stroke="#8680cc" stroke-width="1.0"/>
<circle cx="106.3" cy="737.9" r="1.7" fill="none" stroke="#e5408f" stroke-width="1.0"/>
<circle cx="110.6" cy="730.2" r="1.35" fill="#e0791a"/>
<circle cx="99.1" cy="724.7" r="1.35" fill="#7bb02a"/>
<path d="M96.6 701.1h4.2l-2.1-3.6z" fill="#e0791a"/>
<circle cx="95.1" cy="737.3" r="1.35" fill="#787878"/>
<circle cx="97.0" cy="725.9" r="1.35" fill="#e0791a"/>
<path d="M102.0 727.0h4.2l-2.1-3.6z" fill="#e0791a"/>
<path d="M98.9 694.6h4.4M101.1 692.4v4.4" stroke="#1b9e77" stroke-width="1.1"/>
<circle cx="100.4" cy="684.5" r="1.35" fill="#e0791a"/>
<circle cx="98.8" cy="736.6" r="1.35" fill="#a6761d"/>
<path d="M100.0 726.3h4.2l-2.1-3.6z" fill="#e0791a"/>
<path d="M94.3 727.8h4.2l-2.1-3.6z" fill="#c8761e"/>
<path d="M101.0 729.6h4.4M103.2 727.4v4.4" stroke="#1b9e77" stroke-width="1.1"/>
<circle cx="103.8" cy="729.7" r="1.35" fill="#a6761d"/>
<path d="M103.5 734.5h4.2l-2.1-3.6z" fill="#e0791a"/>
<circle cx="98.2" cy="736.1" r="1.7" fill="none" stroke="#7bb02a" stroke-width="1.0"/>
<circle cx="100.8" cy="738.6" r="1.35" fill="#a6761d"/>
<circle cx="107.9" cy="731.1" r="1.35" fill="#e0791a"/>
<path d="M106.9 739.8h4.2l-2.1-3.6z" fill="#1b9e77"/>
<circle cx="103.6" cy="733.9" r="1.7" fill="none" stroke="#e5408f" stroke-width="1.0"/>
<path d="M100.9 739.6h4.2l-2.1-3.6z" fill="#e0791a"/>
<path d="M102.0 699.2h4.2l-2.1-3.6z" fill="#e0791a"/>
<path d="M93.7 724.9h4.2l-2.1-3.6z" fill="#e0791a"/>
<circle cx="102.3" cy="722.9" r="1.35" fill="#e0791a"/>
<circle cx="99.1" cy="735.9" r="1.7" fill="none" stroke="#8680cc" stroke-width="1.0"/>
<circle cx="105.2" cy="710.9" r="1.35" fill="#e0791a"/>
<circle cx="95.5" cy="738.5" r="1.35" fill="#e5408f"/>
<circle cx="102.7" cy="725.7" r="1.35" fill="#787878"/>
<circle cx="100.4" cy="737.6" r="1.35" fill="#e0791a"/>
<circle cx="97.4" cy="708.9" r="1.35" fill="#e0791a"/>
<path d="M99.7 738.6h4.2l-2.1-3.6z" fill="#e6ab02"/>
<path d="M95.8 692.0h4.2l-2.1-3.6z" fill="#e0791a"/>
<circle cx="102.8" cy="736.0" r="1.7" fill="none" stroke="#8680cc" stroke-width="1.0"/>
<circle cx="97.1" cy="724.5" r="1.7" fill="none" stroke="#e5408f" stroke-width="1.0"/>
<path d="M95.0 735.9h4.2l-2.1-3.6z" fill="#e0791a"/>
<circle cx="101.6" cy="726.0" r="1.7" fill="none" stroke="#8680cc" stroke-width="1.0"/>
<path d="M94.8 729.6h4.2l-2.1-3.6z" fill="#e0791a"/>
<circle cx="99.2" cy="737.8" r="1.7" fill="none" stroke="#8680cc" stroke-width="1.0"/>
<circle cx="101.5" cy="736.8" r="1.35" fill="#e0791a"/>
<circle cx="104.7" cy="732.8" r="1.7" fill="none" stroke="#e6ab02" stroke-width="1.0"/>
<path d="M101.8 728.1h4l-2-3.4z" fill="none" stroke="#8680cc" stroke-width="0.85"/>
<circle cx="97.5" cy="727.1" r="1.35" fill="#e0791a"/>
<circle cx="97.6" cy="713.2" r="1.7" fill="none" stroke="#8680cc" stroke-width="1.0"/>
<circle cx="97.5" cy="733.6" r="1.35" fill="#e0791a"/>
<path d="M99.5 729.7h4.2l-2.1-3.6z" fill="#e0791a"/>
<circle cx="102.4" cy="727.3" r="1.35" fill="#7bb02a"/>
<path d="M100.9 714.9h4.2l-2.1-3.6z" fill="#e6ab02"/>
<circle cx="105.3" cy="736.8" r="1.35" fill="#a6761d"/>
<path d="M107.9 711.0h4.4M110.1 708.8v4.4" stroke="#1b9e77" stroke-width="1.1"/>
<circle cx="110.2" cy="702.0" r="1.35" fill="#e0791a"/>
<circle cx="99.4" cy="735.9" r="1.35" fill="#787878"/>
<path d="M102.2 737.3h4.2l-2.1-3.6z" fill="#e0791a"/>
<path d="M101.5 731.7h4.4M103.7 729.5v4.4" stroke="#1b9e77" stroke-width="1.1"/>
<path d="M100.3 714.2h4.4M102.5 712.0v4.4" stroke="#1b9e77" stroke-width="1.1"/>
<path d="M100.4 733.2h4.2l-2.1-3.6z" fill="#e0791a"/>
<circle cx="101.2" cy="699.0" r="1.7" fill="none" stroke="#8680cc" stroke-width="1.0"/>
<circle cx="108.4" cy="729.7" r="1.35" fill="#787878"/>
<path d="M106.1 734.2h4.2l-2.1-3.6z" fill="#e0791a"/>
<path d="M99.0 729.5h4l-2-3.4z" fill="none" stroke="#8680cc" stroke-width="0.85"/>
<path d="M98.0 708.4h4.2l-2.1-3.6z" fill="#e5408f"/>
<circle cx="100.6" cy="725.2" r="1.35" fill="#e0791a"/>
<circle cx="108.8" cy="698.2" r="1.35" fill="#e0791a"/>
<circle cx="105.4" cy="734.5" r="1.7" fill="none" stroke="#7bb02a" stroke-width="1.0"/>
<circle cx="103.6" cy="694.3" r="1.35" fill="#e5408f"/>
<circle cx="110.0" cy="724.4" r="1.35" fill="#e0791a"/>
<path d="M119.1 730.1h4.2l-2.1-3.6z" fill="#e5408f"/>
<circle cx="96.8" cy="710.0" r="1.7" fill="none" stroke="#e6ab02" stroke-width="1.0"/>
<circle cx="95.8" cy="716.2" r="1.35" fill="#e0791a"/>
<circle cx="96.5" cy="690.6" r="1.7" fill="none" stroke="#e6ab02" stroke-width="1.0"/>
<path d="M94.0 730.7h4.4M96.2 728.5v4.4" stroke="#1b9e77" stroke-width="1.1"/>
<path d="M94.9 737.5h4.2l-2.1-3.6z" fill="#e0791a"/>
<path d="M96.3 654.2h4.2l-2.1-3.6z" fill="#e0791a"/>
<circle cx="97.2" cy="729.1" r="1.35" fill="#a6761d"/>
<path d="M95.2 727.1h4.2l-2.1-3.6z" fill="#e0791a"/>
<path d="M108.5 719.0h4.4M110.7 716.8v4.4" stroke="#1b9e77" stroke-width="1.1"/>
<path d="M104.9 736.4h4.4M107.1 734.2v4.4" stroke="#1b9e77" stroke-width="1.1"/>
<path d="M100.9 735.3h4.2l-2.1-3.6z" fill="#e0791a"/>
<circle cx="100.4" cy="727.3" r="1.35" fill="#e6ab02"/>
<circle cx="100.4" cy="724.3" r="1.7" fill="none" stroke="#8680cc" stroke-width="1.0"/>
<circle cx="95.9" cy="733.9" r="1.35" fill="#e0791a"/>
<circle cx="102.1" cy="736.8" r="1.35" fill="#e0791a"/>
<circle cx="97.7" cy="723.4" r="1.35" fill="#1b9e77"/>
<circle cx="95.8" cy="692.9" r="1.35" fill="#a6761d"/>
<path d="M94.6 735.7h4.2l-2.1-3.6z" fill="#e0791a"/>
<circle cx="96.8" cy="688.9" r="1.35" fill="#e0791a"/>
<circle cx="100.1" cy="730.9" r="1.35" fill="#e0791a"/>
<path d="M95.8 734.8h4.4M98.0 732.6v4.4" stroke="#1b9e77" stroke-width="1.1"/>
<path d="M94.1 715.8h4l-2-3.4z" fill="none" stroke="#8680cc" stroke-width="0.85"/>
<path d="M95.9 714.9h4.2l-2.1-3.6z" fill="#e0791a"/>
<circle cx="106.1" cy="734.1" r="1.7" fill="none" stroke="#7272cc" stroke-width="1.0"/>
<circle cx="101.6" cy="711.4" r="1.35" fill="#1b9e77"/>
<circle cx="107.0" cy="726.7" r="1.7" fill="none" stroke="#7bb02a" stroke-width="1.0"/>
<circle cx="106.2" cy="720.7" r="1.7" fill="none" stroke="#8680cc" stroke-width="1.0"/>
<circle cx="100.8" cy="705.8" r="1.7" fill="none" stroke="#7272cc" stroke-width="1.0"/>
<path d="M104.8 733.4h4.4M107.0 731.2v4.4" stroke="#1b9e77" stroke-width="1.1"/>
<path d="M94.5 734.6h4.2l-2.1-3.6z" fill="#e6ab02"/>
<circle cx="100.5" cy="690.5" r="1.7" fill="none" stroke="#8680cc" stroke-width="1.0"/>
<path d="M99.4 715.9h4.2l-2.1-3.6z" fill="#e5408f"/>
<circle cx="113.9" cy="727.0" r="1.7" fill="none" stroke="#7bb02a" stroke-width="1.0"/>
<circle cx="114.6" cy="712.3" r="1.35" fill="#7bb02a"/>
<circle cx="108.8" cy="735.5" r="1.35" fill="#a6761d"/>
<path d="M104.3 727.9h4.2l-2.1-3.6z" fill="#c8761e"/>
<circle cx="95.0" cy="728.5" r="1.35" fill="#a6761d"/>
<circle cx="108.9" cy="729.4" r="1.7" fill="none" stroke="#8680cc" stroke-width="1.0"/>
<path d="M93.9 746.7h4.2l-2.1-3.6z" fill="#e0791a"/>
<path d="M110.8 752.9h4.2l-2.1-3.6z" fill="#e0791a"/>
<circle cx="119.1" cy="741.5" r="1.35" fill="#e0791a"/>
<path d="M102.6 749.3h4.2l-2.1-3.6z" fill="#1b9e77"/>
<path d="M94.1 760.6h4.2l-2.1-3.6z" fill="#e0791a"/>
<circle cx="104.3" cy="762.7" r="1.7" fill="none" stroke="#8680cc" stroke-width="1.0"/>
<path d="M103.6 746.2h4.2l-2.1-3.6z" fill="#e0791a"/>
<path d="M116.2 760.4h4.2l-2.1-3.6z" fill="#e6ab02"/>
<circle cx="101.7" cy="748.7" r="1.35" fill="#e0791a"/>
<path d="M104.3 774.5h4.2l-2.1-3.6z" fill="#e0791a"/>
<path d="M101.2 767.3h4.2l-2.1-3.6z" fill="#e0791a"/>
<path d="M102.8 755.3h4.2l-2.1-3.6z" fill="#e0791a"/>
<circle cx="116.2" cy="768.3" r="1.35" fill="#e0791a"/>
<path d="M94.8 773.1h4.2l-2.1-3.6z" fill="#e0791a"/>
<path d="M99.4 745.7h4.2l-2.1-3.6z" fill="#e5408f"/>
<circle cx="105.7" cy="772.3" r="1.35" fill="#e0791a"/>
<circle cx="105.9" cy="775.3" r="1.35" fill="#e0791a"/>
<circle cx="97.2" cy="770.3" r="1.7" fill="none" stroke="#8680cc" stroke-width="1.0"/>
<circle cx="99.0" cy="764.4" r="1.35" fill="#1b9e77"/>
<path d="M107.1 777.1h4.2l-2.1-3.6z" fill="#e0791a"/>
<path d="M99.9 748.6h4.2l-2.1-3.6z" fill="#e0791a"/>
<path d="M97.4 770.1h4.2l-2.1-3.6z" fill="#1b9e77"/>
<circle cx="96.5" cy="771.6" r="1.35" fill="#e0791a"/>
<circle cx="107.5" cy="766.3" r="1.35" fill="#7bb02a"/>
<circle cx="106.2" cy="754.0" r="1.35" fill="#e5408f"/>
<circle cx="103.8" cy="759.1" r="1.35" fill="#e0791a"/>
<path d="M112.6 770.4h4.2l-2.1-3.6z" fill="#e0791a"/>
<circle cx="100.0" cy="770.8" r="1.7" fill="none" stroke="#8680cc" stroke-width="1.0"/>
<path d="M96.1 777.7h4.2l-2.1-3.6z" fill="#e6ab02"/>
<path d="M102.6 776.2h4.2l-2.1-3.6z" fill="#e6ab02"/>
<path d="M104.4 763.3h4.2l-2.1-3.6z" fill="#e0791a"/>
<path d="M97.0 755.5h4.2l-2.1-3.6z" fill="#e0791a"/>
<path d="M97.6 773.9h4.4M99.8 771.7v4.4" stroke="#1b9e77" stroke-width="1.1"/>
<circle cx="98.5" cy="767.8" r="1.35" fill="#e0791a"/>
<path d="M122.9 773.3h4.2l-2.1-3.6z" fill="#e0791a"/>
<path d="M112.3 777.9h4.2l-2.1-3.6z" fill="#e0791a"/>
<circle cx="113.2" cy="772.8" r="1.35" fill="#e0791a"/>
<circle cx="107.2" cy="751.9" r="1.35" fill="#e0791a"/>
<circle cx="96.3" cy="767.6" r="1.35" fill="#e0791a"/>
<path d="M99.1 758.5h4.2l-2.1-3.6z" fill="#e0791a"/>
<circle cx="115.2" cy="774.2" r="1.7" fill="none" stroke="#8680cc" stroke-width="1.0"/>
<path d="M94.7 753.8h4.2l-2.1-3.6z" fill="#e0791a"/>
<path d="M106.9 769.9h4.2l-2.1-3.6z" fill="#e6ab02"/>
<circle cx="122.2" cy="756.2" r="1.35" fill="#e0791a"/>
<path d="M99.9 761.3h4.2l-2.1-3.6z" fill="#e0791a"/>
<circle cx="122.3" cy="776.0" r="1.35" fill="#e0791a"/>
<path d="M107.5 771.4h4.2l-2.1-3.6z" fill="#e0791a"/>
<circle cx="113.9" cy="731.3" r="1.35" fill="#a6761d"/>
<path d="M119.5 770.7h4.2l-2.1-3.6z" fill="#e0791a"/>
<circle cx="117.0" cy="765.8" r="1.35" fill="#1b9e77"/>
<path d="M99.9 764.0h4.2l-2.1-3.6z" fill="#e0791a"/>
<path d="M104.0 756.7h4.2l-2.1-3.6z" fill="#e0791a"/>
<circle cx="112.1" cy="774.8" r="1.35" fill="#e0791a"/>
<circle cx="99.0" cy="760.8" r="1.35" fill="#7bb02a"/>
<path d="M113.9 763.7h4.2l-2.1-3.6z" fill="#e0791a"/>
<path d="M128.5 765.7h4.2l-2.1-3.6z" fill="#e0791a"/>
<circle cx="118.6" cy="751.7" r="1.35" fill="#e0791a"/>
<path d="M111.8 755.7h4.2l-2.1-3.6z" fill="#e0791a"/>
<circle cx="104.6" cy="763.6" r="1.35" fill="#e0791a"/>
<circle cx="114.8" cy="773.0" r="1.35" fill="#a6761d"/>
<circle cx="117.3" cy="758.5" r="1.35" fill="#e6ab02"/>
<circle cx="115.2" cy="762.4" r="1.35" fill="#e0791a"/>
<circle cx="127.5" cy="769.4" r="1.35" fill="#e0791a"/>
<circle cx="97.0" cy="745.3" r="1.35" fill="#7bb02a"/>
<path d="M104.0 767.8h4.2l-2.1-3.6z" fill="#e0791a"/>
<path d="M116.1 751.6h4.4M118.3 749.4v4.4" stroke="#1b9e77" stroke-width="1.1"/>
<path d="M96.8 770.8h4.2l-2.1-3.6z" fill="#e0791a"/>
<circle cx="110.0" cy="759.2" r="1.35" fill="#e0791a"/>
<path d="M112.0 731.5h4.2l-2.1-3.6z" fill="#e0791a"/>
<path d="M133.2 755.5h4.2l-2.1-3.6z" fill="#e0791a"/>
<circle cx="117.3" cy="752.1" r="1.35" fill="#7bb02a"/>
<path d="M92.7 773.9h4.2l-2.1-3.6z" fill="#e6ab02"/>
<circle cx="95.8" cy="761.0" r="1.35" fill="#e0791a"/>
<circle cx="102.7" cy="770.2" r="1.35" fill="#e0791a"/>
<path d="M103.7 750.8h4.2l-2.1-3.6z" fill="#1b9e77"/>
<path d="M109.5 765.1h4.2l-2.1-3.6z" fill="#e0791a"/>
<path d="M126.2 774.7h4.2l-2.1-3.6z" fill="#e0791a"/>
<path d="M98.5 763.4h4.2l-2.1-3.6z" fill="#e0791a"/>
<circle cx="100.1" cy="776.4" r="1.7" fill="none" stroke="#e5408f" stroke-width="1.0"/>
<path d="M93.8 762.9h4.2l-2.1-3.6z" fill="#e0791a"/>
<path d="M117.3 773.1h4.2l-2.1-3.6z" fill="#e6ab02"/>
<circle cx="100.3" cy="763.2" r="1.7" fill="none" stroke="#8680cc" stroke-width="1.0"/>
<circle cx="102.1" cy="769.2" r="1.35" fill="#e0791a"/>
<path d="M113.8 777.7h4.2l-2.1-3.6z" fill="#e6ab02"/>
<path d="M95.4 772.1h4.2l-2.1-3.6z" fill="#e0791a"/>
<path d="M116.2 757.2h4.2l-2.1-3.6z" fill="#e0791a"/>
<circle cx="98.9" cy="772.0" r="1.35" fill="#e0791a"/>
<path d="M98.8 774.8h4.2l-2.1-3.6z" fill="#e0791a"/>
<circle cx="99.5" cy="757.0" r="1.35" fill="#a6761d"/>
<circle cx="131.3" cy="770.5" r="1.35" fill="#1b9e77"/>
<path d="M109.1 731.3h4.2l-2.1-3.6z" fill="#e0791a"/>
<path d="M111.3 776.6h4.2l-2.1-3.6z" fill="#e6ab02"/>
<circle cx="117.9" cy="776.6" r="1.35" fill="#e0791a"/>
<circle cx="115.2" cy="776.4" r="1.35" fill="#e0791a"/>
<circle cx="127.1" cy="770.5" r="1.35" fill="#e0791a"/>
<path d="M115.6 766.0h4.2l-2.1-3.6z" fill="#e0791a"/>
<circle cx="109.1" cy="766.0" r="1.35" fill="#e0791a"/>
<circle cx="99.8" cy="772.8" r="1.35" fill="#e0791a"/>
<circle cx="127.3" cy="753.2" r="1.35" fill="#e6ab02"/>
<circle cx="118.5" cy="770.6" r="1.35" fill="#a6761d"/>
<circle cx="110.6" cy="761.4" r="1.35" fill="#e0791a"/>
<circle cx="97.9" cy="775.6" r="1.7" fill="none" stroke="#8680cc" stroke-width="1.0"/>
<circle cx="125.9" cy="764.3" r="1.35" fill="#e6ab02"/>
<circle cx="96.2" cy="758.0" r="1.35" fill="#e6ab02"/>
<path d="M101.0 771.2h4.2l-2.1-3.6z" fill="#1b9e77"/>
<circle cx="95.3" cy="753.7" r="1.35" fill="#e0791a"/>
<circle cx="106.3" cy="755.0" r="1.7" fill="none" stroke="#7bb02a" stroke-width="1.0"/>
<circle cx="128.0" cy="770.7" r="1.35" fill="#e0791a"/>
<circle cx="131.2" cy="776.4" r="1.35" fill="#e5408f"/>
<circle cx="100.0" cy="766.9" r="1.35" fill="#e0791a"/>
<path d="M101.6 773.4h4.2l-2.1-3.6z" fill="#e0791a"/>
<circle cx="109.9" cy="744.8" r="1.35" fill="#7bb02a"/>
<path d="M93.3 777.3h4.2l-2.1-3.6z" fill="#1b9e77"/>
<circle cx="104.6" cy="769.4" r="1.35" fill="#e0791a"/>
<circle cx="146.7" cy="769.8" r="1.35" fill="#e0791a"/>
<circle cx="103.5" cy="769.9" r="1.35" fill="#e0791a"/>
<path d="M102.6 770.7h4.2l-2.1-3.6z" fill="#e0791a"/>
<path d="M94.5 774.5h4.2l-2.1-3.6z" fill="#e0791a"/>
<circle cx="112.0" cy="775.9" r="1.35" fill="#7bb02a"/>
<path d="M101.1 755.9h4.2l-2.1-3.6z" fill="#e0791a"/>
<circle cx="100.9" cy="764.9" r="1.35" fill="#e0791a"/>
<circle cx="103.0" cy="770.9" r="1.35" fill="#e0791a"/>
<path d="M99.5 771.4h4.2l-2.1-3.6z" fill="#e0791a"/>
<circle cx="111.1" cy="769.7" r="1.35" fill="#e0791a"/>
<path d="M97.9 773.1h4.2l-2.1-3.6z" fill="#e0791a"/>
<circle cx="113.7" cy="768.6" r="1.7" fill="none" stroke="#8680cc" stroke-width="1.0"/>
<path d="M97.6 762.6h4.2l-2.1-3.6z" fill="#e0791a"/>
<path d="M111.9 770.2h4.2l-2.1-3.6z" fill="#e0791a"/>
<path d="M96.4 748.8h4.2l-2.1-3.6z" fill="#e0791a"/>
<circle cx="134.4" cy="775.1" r="1.35" fill="#a6761d"/>
<path d="M107.9 755.4h4.2l-2.1-3.6z" fill="#e5408f"/>
<path d="M117.5 765.2h4.2l-2.1-3.6z" fill="#e0791a"/>
<circle cx="115.5" cy="769.5" r="1.35" fill="#7bb02a"/>
<path d="M112.8 761.0h4.2l-2.1-3.6z" fill="#e0791a"/>
<path d="M122.9 775.1h4.2l-2.1-3.6z" fill="#e0791a"/>
<path d="M132.0 777.4h4.2l-2.1-3.6z" fill="#e0791a"/>
<path d="M123.7 777.3h4.2l-2.1-3.6z" fill="#e6ab02"/>
<path d="M137.2 750.2h4.2l-2.1-3.6z" fill="#e0791a"/>
<circle cx="130.8" cy="758.1" r="1.35" fill="#e6ab02"/>
<circle cx="105.3" cy="767.9" r="1.35" fill="#e0791a"/>
<circle cx="98.0" cy="732.1" r="1.35" fill="#e0791a"/>
<circle cx="96.7" cy="750.0" r="1.35" fill="#a6761d"/>
<path d="M102.3 761.6h4.2l-2.1-3.6z" fill="#e5408f"/>
<path d="M116.9 774.9h4.2l-2.1-3.6z" fill="#e0791a"/>
<circle cx="114.1" cy="749.2" r="1.35" fill="#e0791a"/>
<path d="M115.0 769.6h4.2l-2.1-3.6z" fill="#e0791a"/>
<circle cx="109.3" cy="751.4" r="1.35" fill="#7bb02a"/>
<path d="M99.5 770.1h4.2l-2.1-3.6z" fill="#e0791a"/>
<circle cx="110.1" cy="768.6" r="1.35" fill="#e0791a"/>
<path d="M130.6 738.4h4.2l-2.1-3.6z" fill="#e0791a"/>
<path d="M96.9 732.4h4.2l-2.1-3.6z" fill="#e5408f"/>
<path d="M115.6 762.4h4.2l-2.1-3.6z" fill="#e0791a"/>
<path d="M120.9 773.4h4.2l-2.1-3.6z" fill="#e6ab02"/>
<path d="M110.6 771.8h4.2l-2.1-3.6z" fill="#e0791a"/>
<path d="M100.4 759.3h4.2l-2.1-3.6z" fill="#e0791a"/>
<circle cx="106.8" cy="770.7" r="1.35" fill="#e6ab02"/>
<circle cx="126.7" cy="761.1" r="1.35" fill="#e0791a"/>
<path d="M131.4 775.7h4.2l-2.1-3.6z" fill="#e0791a"/>
<path d="M94.6 760.2h4.4M96.8 758.0v4.4" stroke="#1b9e77" stroke-width="1.1"/>
<circle cx="106.0" cy="769.1" r="1.35" fill="#e0791a"/>
<circle cx="110.3" cy="747.4" r="1.35" fill="#e0791a"/>
<path d="M114.0 753.8h4.2l-2.1-3.6z" fill="#e6ab02"/>
<circle cx="99.6" cy="755.0" r="1.35" fill="#7bb02a"/>
<circle cx="98.1" cy="774.2" r="1.7" fill="none" stroke="#7bb02a" stroke-width="1.0"/>
<circle cx="105.5" cy="771.1" r="1.35" fill="#e0791a"/>
<path d="M97.8 771.3h4.2l-2.1-3.6z" fill="#e0791a"/>
<circle cx="128.3" cy="746.7" r="1.7" fill="none" stroke="#e5408f" stroke-width="1.0"/>
<circle cx="110.4" cy="768.3" r="1.35" fill="#a6761d"/>
<circle cx="96.6" cy="763.2" r="1.35" fill="#e5408f"/>
<circle cx="96.6" cy="759.3" r="1.35" fill="#e6ab02"/>
<path d="M133.3 774.6h4.2l-2.1-3.6z" fill="#e0791a"/>
<path d="M99.1 771.0h4.2l-2.1-3.6z" fill="#e0791a"/>
<circle cx="110.3" cy="771.2" r="1.7" fill="none" stroke="#e5408f" stroke-width="1.0"/>
<path d="M112.1 772.9h4.2l-2.1-3.6z" fill="#e0791a"/>
<circle cx="136.7" cy="776.3" r="1.35" fill="#e0791a"/>
<path d="M94.0 763.8h4.2l-2.1-3.6z" fill="#e0791a"/>
<circle cx="114.6" cy="755.6" r="1.7" fill="none" stroke="#8680cc" stroke-width="1.0"/>
<path d="M97.6 773.4h4.2l-2.1-3.6z" fill="#e0791a"/>
<path d="M98.5 777.2h4.2l-2.1-3.6z" fill="#e0791a"/>
<circle cx="118.0" cy="774.5" r="1.35" fill="#a6761d"/>
<path d="M108.2 761.3h4.2l-2.1-3.6z" fill="#e0791a"/>
<circle cx="109.5" cy="768.1" r="1.35" fill="#e0791a"/>
<path d="M101.2 746.5h4.2l-2.1-3.6z" fill="#e0791a"/>
<circle cx="102.4" cy="755.3" r="1.35" fill="#e6ab02"/>
<circle cx="99.9" cy="745.4" r="1.35" fill="#e0791a"/>
<circle cx="121.8" cy="756.7" r="1.35" fill="#e0791a"/>
<circle cx="121.4" cy="759.7" r="1.35" fill="#7bb02a"/>
<circle cx="102.1" cy="756.7" r="1.35" fill="#e0791a"/>
<path d="M98.6 767.4h4.2l-2.1-3.6z" fill="#e0791a"/>
<circle cx="105.9" cy="770.6" r="1.35" fill="#e0791a"/>
<path d="M128.7 771.5h4.2l-2.1-3.6z" fill="#e0791a"/>
<circle cx="140.2" cy="773.3" r="1.35" fill="#e0791a"/>
<path d="M113.7 765.0h4.2l-2.1-3.6z" fill="#e0791a"/>
<circle cx="104.8" cy="740.1" r="1.35" fill="#e0791a"/>
<circle cx="101.9" cy="763.2" r="1.35" fill="#e0791a"/>
<circle cx="121.9" cy="764.9" r="1.35" fill="#a6761d"/>
<circle cx="120.5" cy="776.3" r="1.7" fill="none" stroke="#8680cc" stroke-width="1.0"/>
<circle cx="103.7" cy="770.8" r="1.35" fill="#e0791a"/>
<circle cx="127.0" cy="754.6" r="1.35" fill="#7bb02a"/>
<path d="M94.3 764.1h4.2l-2.1-3.6z" fill="#e6ab02"/>
<circle cx="112.5" cy="762.1" r="1.35" fill="#a6761d"/>
<path d="M93.5 774.7h4.2l-2.1-3.6z" fill="#e0791a"/>
<circle cx="99.7" cy="774.1" r="1.35" fill="#e0791a"/>
<circle cx="105.2" cy="747.5" r="1.35" fill="#e0791a"/>
<path d="M99.6 754.8h4.2l-2.1-3.6z" fill="#e5408f"/>
<circle cx="118.1" cy="770.2" r="1.35" fill="#e0791a"/>
<circle cx="97.0" cy="756.2" r="1.35" fill="#e5408f"/>
<circle cx="114.8" cy="750.1" r="1.35" fill="#e0791a"/>
<circle cx="111.6" cy="754.3" r="1.35" fill="#e0791a"/>
<path d="M101.8 773.7h4.2l-2.1-3.6z" fill="#e0791a"/>
<path d="M109.5 771.4h4.2l-2.1-3.6z" fill="#e0791a"/>
<circle cx="102.8" cy="775.1" r="1.35" fill="#e5408f"/>
<path d="M104.4 777.8h4.2l-2.1-3.6z" fill="#e0791a"/>
<circle cx="98.8" cy="771.6" r="1.7" fill="none" stroke="#8680cc" stroke-width="1.0"/>
<circle cx="114.6" cy="739.6" r="1.35" fill="#e0791a"/>
<circle cx="128.9" cy="765.3" r="1.35" fill="#7bb02a"/>
<circle cx="105.8" cy="767.6" r="1.7" fill="none" stroke="#8680cc" stroke-width="1.0"/>
<circle cx="101.0" cy="769.3" r="1.35" fill="#a6761d"/>
<circle cx="99.3" cy="756.0" r="1.35" fill="#e0791a"/>
<circle cx="126.5" cy="762.2" r="1.35" fill="#e0791a"/>
<path d="M116.6 767.3h4.2l-2.1-3.6z" fill="#e0791a"/>
<path d="M93.2 734.4h4.2l-2.1-3.6z" fill="#e0791a"/>
<circle cx="108.5" cy="755.9" r="1.35" fill="#e0791a"/>
<circle cx="107.5" cy="749.0" r="1.7" fill="none" stroke="#7bb02a" stroke-width="1.0"/>
<circle cx="106.8" cy="753.7" r="1.35" fill="#e0791a"/>
<path d="M103.8 764.8h4.2l-2.1-3.6z" fill="#e0791a"/>
<circle cx="102.8" cy="762.3" r="1.35" fill="#7bb02a"/>
<path d="M93.5 752.9h4.2l-2.1-3.6z" fill="#1b9e77"/>
<path d="M100.6 749.6h4.2l-2.1-3.6z" fill="#e0791a"/>
<circle cx="131.7" cy="763.2" r="1.35" fill="#e0791a"/>
<path d="M105.9 743.1h4.2l-2.1-3.6z" fill="#e0791a"/>
<circle cx="129.0" cy="765.9" r="1.35" fill="#e0791a"/>
<path d="M99.8 766.9h4.2l-2.1-3.6z" fill="#1b9e77"/>
<path d="M106.5 766.3h4.2l-2.1-3.6z" fill="#e0791a"/>
<circle cx="98.0" cy="765.2" r="1.35" fill="#e6ab02"/>
<path d="M122.8 777.7h4.2l-2.1-3.6z" fill="#e0791a"/>
<path d="M101.4 743.8h4.2l-2.1-3.6z" fill="#e0791a"/>
<path d="M96.7 763.2h4.2l-2.1-3.6z" fill="#1b9e77"/>
<path d="M105.7 740.7h4.2l-2.1-3.6z" fill="#e0791a"/>
<path d="M100.4 764.0h4.4M102.6 761.8v4.4" stroke="#1b9e77" stroke-width="1.1"/>
<circle cx="103.2" cy="767.3" r="1.35" fill="#e0791a"/>
<circle cx="130.3" cy="766.2" r="1.35" fill="#a6761d"/>
<path d="M95.1 757.6h4.4M97.3 755.4v4.4" stroke="#1b9e77" stroke-width="1.1"/>
<path d="M95.1 768.2h4.4M97.3 766.0v4.4" stroke="#1b9e77" stroke-width="1.1"/>
<path d="M110.6 755.6h4.2l-2.1-3.6z" fill="#e0791a"/>
<path d="M98.6 777.6h4.2l-2.1-3.6z" fill="#e0791a"/>
<circle cx="135.2" cy="759.4" r="1.35" fill="#e0791a"/>
<circle cx="107.3" cy="757.6" r="1.7" fill="none" stroke="#8680cc" stroke-width="1.0"/>
<path d="M101.7 770.6h4.2l-2.1-3.6z" fill="#e0791a"/>
<path d="M122.1 768.0h4.2l-2.1-3.6z" fill="#e0791a"/>
<circle cx="96.6" cy="773.4" r="1.35" fill="#e0791a"/>
<path d="M94.6 766.8h4.4M96.8 764.6v4.4" stroke="#1b9e77" stroke-width="1.1"/>
<circle cx="116.8" cy="771.7" r="1.7" fill="none" stroke="#8680cc" stroke-width="1.0"/>
<path d="M106.8 759.0h4.2l-2.1-3.6z" fill="#e0791a"/>
<path d="M104.0 774.1h4.2l-2.1-3.6z" fill="#e0791a"/>
<circle cx="96.4" cy="758.4" r="1.35" fill="#e0791a"/>
<circle cx="125.0" cy="768.2" r="1.7" fill="none" stroke="#e5408f" stroke-width="1.0"/>
<path d="M98.4 754.0h4.2l-2.1-3.6z" fill="#e0791a"/>
<path d="M104.7 766.3h4.2l-2.1-3.6z" fill="#e0791a"/>
<circle cx="104.5" cy="744.0" r="1.7" fill="none" stroke="#8680cc" stroke-width="1.0"/>
<circle cx="99.6" cy="766.9" r="1.35" fill="#e6ab02"/>
<circle cx="111.2" cy="754.0" r="1.35" fill="#e0791a"/>
<path d="M108.6 773.7h4.2l-2.1-3.6z" fill="#e0791a"/>
<circle cx="123.2" cy="766.3" r="1.35" fill="#e6ab02"/>
<circle cx="96.4" cy="752.5" r="1.35" fill="#e0791a"/>
<circle cx="99.8" cy="761.2" r="1.35" fill="#e0791a"/>
<path d="M126.5 769.7h4.2l-2.1-3.6z" fill="#e0791a"/>
<circle cx="115.2" cy="763.6" r="1.7" fill="none" stroke="#7bb02a" stroke-width="1.0"/>
<path d="M112.9 735.5h4.2l-2.1-3.6z" fill="#e6ab02"/>
<circle cx="100.2" cy="774.0" r="1.35" fill="#e0791a"/>
<path d="M106.5 759.0h4.2l-2.1-3.6z" fill="#e0791a"/>
<path d="M118.4 759.7h4.2l-2.1-3.6z" fill="#e0791a"/>
<circle cx="127.3" cy="768.5" r="1.35" fill="#e0791a"/>
<circle cx="128.8" cy="773.8" r="1.7" fill="none" stroke="#8680cc" stroke-width="1.0"/>
<path d="M101.2 757.5h4.4M103.4 755.3v4.4" stroke="#1b9e77" stroke-width="1.1"/>
<circle cx="108.7" cy="752.5" r="1.35" fill="#a6761d"/>
<path d="M99.6 755.0h4.2l-2.1-3.6z" fill="#e0791a"/>
<path d="M102.0 761.2h4.2l-2.1-3.6z" fill="#e0791a"/>
<path d="M111.0 767.3h4.2l-2.1-3.6z" fill="#e0791a"/>
<circle cx="110.4" cy="753.9" r="1.35" fill="#e0791a"/>
<path d="M115.7 767.7h4.2l-2.1-3.6z" fill="#e0791a"/>
<path d="M124.8 732.9h4.2l-2.1-3.6z" fill="#e0791a"/>
<circle cx="125.0" cy="774.8" r="1.7" fill="none" stroke="#7bb02a" stroke-width="1.0"/>
<path d="M105.7 774.7h4.2l-2.1-3.6z" fill="#e0791a"/>
<circle cx="116.7" cy="768.5" r="1.35" fill="#e6ab02"/>
<path d="M106.2 768.9h4.2l-2.1-3.6z" fill="#e6ab02"/>
<path d="M113.6 774.3h4.2l-2.1-3.6z" fill="#e0791a"/>
<circle cx="104.4" cy="768.5" r="1.7" fill="none" stroke="#8680cc" stroke-width="1.0"/>
<path d="M114.1 750.3h4.2l-2.1-3.6z" fill="#e0791a"/>
<path d="M96.9 723.4h4.2l-2.1-3.6z" fill="#e0791a"/>
<circle cx="109.7" cy="755.8" r="1.35" fill="#1b9e77"/>
<circle cx="109.9" cy="750.1" r="1.35" fill="#e0791a"/>
<circle cx="131.8" cy="771.3" r="1.35" fill="#e0791a"/>
<path d="M98.1 765.8h4.2l-2.1-3.6z" fill="#e0791a"/>
<path d="M105.1 770.2h4.2l-2.1-3.6z" fill="#e0791a"/>
<path d="M121.7 772.0h4.2l-2.1-3.6z" fill="#e0791a"/>
<circle cx="99.7" cy="758.5" r="1.7" fill="none" stroke="#7bb02a" stroke-width="1.0"/>
<path d="M95.1 774.6h4.2l-2.1-3.6z" fill="#e0791a"/>
<path d="M115.4 769.4h4.2l-2.1-3.6z" fill="#e0791a"/>
<circle cx="107.1" cy="756.7" r="1.35" fill="#e0791a"/>
<path d="M94.8 744.9h4.2l-2.1-3.6z" fill="#e0791a"/>
<circle cx="108.3" cy="749.5" r="1.35" fill="#7bb02a"/>
<circle cx="125.7" cy="773.0" r="1.35" fill="#1b9e77"/>
<circle cx="113.4" cy="759.7" r="1.35" fill="#e0791a"/>
<circle cx="130.8" cy="766.7" r="1.35" fill="#1b9e77"/>
<path d="M104.0 761.9h4.2l-2.1-3.6z" fill="#e0791a"/>
<path d="M107.6 745.8h4.2l-2.1-3.6z" fill="#e0791a"/>
<path d="M117.0 762.4h4.2l-2.1-3.6z" fill="#e6ab02"/>
<path d="M107.2 767.6h4.2l-2.1-3.6z" fill="#e0791a"/>
<circle cx="140.2" cy="748.6" r="1.35" fill="#e0791a"/>
<circle cx="105.5" cy="768.2" r="1.35" fill="#a6761d"/>
<path d="M100.3 763.3h4.2l-2.1-3.6z" fill="#e0791a"/>
<path d="M98.3 762.1h4.2l-2.1-3.6z" fill="#e0791a"/>
<circle cx="109.9" cy="761.6" r="1.35" fill="#e0791a"/>
<circle cx="103.5" cy="760.6" r="1.35" fill="#e0791a"/>
<path d="M114.2 774.4h4.2l-2.1-3.6z" fill="#e0791a"/>
<circle cx="103.3" cy="757.1" r="1.7" fill="none" stroke="#8680cc" stroke-width="1.0"/>
<circle cx="119.1" cy="775.8" r="1.35" fill="#e0791a"/>
<circle cx="96.2" cy="762.3" r="1.35" fill="#a6761d"/>
<path d="M127.7 749.8h4.2l-2.1-3.6z" fill="#e6ab02"/>
<path d="M98.3 761.4h4.2l-2.1-3.6z" fill="#e0791a"/>
<circle cx="126.2" cy="772.0" r="1.35" fill="#7bb02a"/>
<path d="M99.8 778.0h4.2l-2.1-3.6z" fill="#e0791a"/>
<circle cx="121.3" cy="772.2" r="1.35" fill="#1b9e77"/>
<circle cx="101.1" cy="765.0" r="1.35" fill="#e0791a"/>
<circle cx="107.6" cy="737.5" r="1.35" fill="#a6761d"/>
<path d="M93.9 741.4h4.2l-2.1-3.6z" fill="#e6ab02"/>
<circle cx="121.4" cy="754.6" r="1.35" fill="#e5408f"/>
<circle cx="130.8" cy="770.7" r="1.35" fill="#e0791a"/>
<path d="M119.8 775.3h4.2l-2.1-3.6z" fill="#e0791a"/>
<path d="M112.8 748.0h4.2l-2.1-3.6z" fill="#e0791a"/>
<circle cx="98.8" cy="738.8" r="1.35" fill="#e0791a"/>
<circle cx="127.1" cy="772.9" r="1.35" fill="#e0791a"/>
<circle cx="132.3" cy="770.9" r="1.35" fill="#e0791a"/>
<circle cx="127.9" cy="755.2" r="1.35" fill="#e0791a"/>
<path d="M119.5 772.9h4.2l-2.1-3.6z" fill="#e0791a"/>
<circle cx="105.3" cy="752.7" r="1.35" fill="#e0791a"/>
<circle cx="118.8" cy="771.5" r="1.35" fill="#e0791a"/>
<path d="M94.2 776.3h4.2l-2.1-3.6z" fill="#e0791a"/>
<circle cx="114.2" cy="776.3" r="1.35" fill="#e0791a"/>
<path d="M128.1 778.0h4.2l-2.1-3.6z" fill="#e0791a"/>
<circle cx="110.5" cy="725.5" r="1.35" fill="#e0791a"/>
<path d="M93.4 772.6h4.2l-2.1-3.6z" fill="#e0791a"/>
<path d="M109.6 770.3h4.2l-2.1-3.6z" fill="#e0791a"/>
<path d="M130.4 774.8h4.2l-2.1-3.6z" fill="#e6ab02"/>
<path d="M101.5 748.9h4.2l-2.1-3.6z" fill="#e0791a"/>
<circle cx="112.3" cy="769.1" r="1.35" fill="#e0791a"/>
<path d="M122.4 745.5h4.2l-2.1-3.6z" fill="#e0791a"/>
<circle cx="110.1" cy="770.8" r="1.35" fill="#e0791a"/>
<circle cx="119.0" cy="763.9" r="1.35" fill="#1b9e77"/>
<path d="M111.2 753.1h4.2l-2.1-3.6z" fill="#e5408f"/>
<path d="M103.3 769.4h4.2l-2.1-3.6z" fill="#e0791a"/>
<path d="M94.8 778.0h4.2l-2.1-3.6z" fill="#e0791a"/>
<path d="M107.4 777.9h4.2l-2.1-3.6z" fill="#e0791a"/>
<path d="M103.1 763.6h4.4M105.3 761.4v4.4" stroke="#1b9e77" stroke-width="1.1"/>
<path d="M116.2 762.4h4.2l-2.1-3.6z" fill="#e0791a"/>
<circle cx="114.8" cy="746.6" r="1.35" fill="#e0791a"/>
<path d="M146.8 761.8h4.2l-2.1-3.6z" fill="#e0791a"/>
<circle cx="104.8" cy="752.6" r="1.35" fill="#e0791a"/>
<circle cx="103.6" cy="753.2" r="1.35" fill="#e0791a"/>
<circle cx="110.1" cy="762.9" r="1.35" fill="#e0791a"/>
<path d="M140.6 756.7h4.2l-2.1-3.6z" fill="#e0791a"/>
<path d="M107.4 765.0h4.2l-2.1-3.6z" fill="#e0791a"/>
<circle cx="106.4" cy="774.5" r="1.35" fill="#e0791a"/>
<circle cx="115.9" cy="750.9" r="1.35" fill="#a6761d"/>
<path d="M139.6 776.2h4.2l-2.1-3.6z" fill="#e0791a"/>
<path d="M121.5 772.4h4.2l-2.1-3.6z" fill="#e6ab02"/>
<path d="M132.8 761.0h4.2l-2.1-3.6z" fill="#e6ab02"/>
<circle cx="109.8" cy="765.4" r="1.35" fill="#e0791a"/>
<circle cx="116.7" cy="754.7" r="1.35" fill="#e0791a"/>
<circle cx="99.1" cy="766.0" r="1.7" fill="none" stroke="#7bb02a" stroke-width="1.0"/>
<path d="M124.2 772.2h4.2l-2.1-3.6z" fill="#e0791a"/>
<circle cx="98.7" cy="743.7" r="1.35" fill="#e6ab02"/>
<circle cx="99.2" cy="757.5" r="1.35" fill="#e0791a"/>
<circle cx="123.9" cy="764.6" r="1.7" fill="none" stroke="#8680cc" stroke-width="1.0"/>
<circle cx="96.9" cy="771.3" r="1.35" fill="#e0791a"/>
<path d="M111.3 747.2h4.2l-2.1-3.6z" fill="#e0791a"/>
<path d="M108.3 764.3h4.2l-2.1-3.6z" fill="#e0791a"/>
<path d="M106.8 755.7h4.2l-2.1-3.6z" fill="#e6ab02"/>
<circle cx="110.1" cy="773.7" r="1.35" fill="#e0791a"/>
<path d="M126.3 776.7h4.2l-2.1-3.6z" fill="#e0791a"/>
<circle cx="107.9" cy="762.5" r="1.35" fill="#a6761d"/>
<path d="M116.4 768.8h4.2l-2.1-3.6z" fill="#e6ab02"/>
<path d="M95.9 773.7h4.2l-2.1-3.6z" fill="#e0791a"/>
<circle cx="123.6" cy="763.8" r="1.35" fill="#e6ab02"/>
<path d="M108.7 762.3h4.2l-2.1-3.6z" fill="#e0791a"/>
<circle cx="107.0" cy="775.4" r="1.35" fill="#e0791a"/>
<circle cx="132.8" cy="769.3" r="1.35" fill="#e0791a"/>
<path d="M93.4 770.8h4.2l-2.1-3.6z" fill="#e0791a"/>
<circle cx="96.5" cy="769.0" r="1.35" fill="#e0791a"/>
<path d="M101.6 772.9h4.2l-2.1-3.6z" fill="#e6ab02"/>
<path d="M126.5 761.1h4.2l-2.1-3.6z" fill="#e0791a"/>
<circle cx="106.9" cy="767.3" r="1.7" fill="none" stroke="#e5408f" stroke-width="1.0"/>
<circle cx="103.7" cy="763.9" r="1.35" fill="#e0791a"/>
<circle cx="95.4" cy="749.6" r="1.35" fill="#e6ab02"/>
<circle cx="96.5" cy="774.6" r="1.35" fill="#1b9e77"/>
<circle cx="108.4" cy="743.1" r="1.35" fill="#7bb02a"/>
<circle cx="112.1" cy="768.7" r="1.35" fill="#e0791a"/>
<circle cx="103.6" cy="770.8" r="1.35" fill="#a6761d"/>
<path d="M108.5 764.7h4.2l-2.1-3.6z" fill="#e0791a"/>
<circle cx="97.5" cy="764.7" r="1.35" fill="#a6761d"/>
<circle cx="120.7" cy="774.7" r="1.35" fill="#e5408f"/>
<path d="M104.3 777.8h4.2l-2.1-3.6z" fill="#e0791a"/>
<circle cx="107.5" cy="751.9" r="1.35" fill="#a6761d"/>
<path d="M101.6 777.0h4.2l-2.1-3.6z" fill="#1b9e77"/>
<path d="M101.3 776.0h4.2l-2.1-3.6z" fill="#e0791a"/>
<path d="M106.7 752.6h4.2l-2.1-3.6z" fill="#e0791a"/>
<circle cx="97.7" cy="749.7" r="1.35" fill="#a6761d"/>
<circle cx="101.7" cy="769.2" r="1.35" fill="#e5408f"/>
<circle cx="108.7" cy="772.8" r="1.35" fill="#e0791a"/>
<path d="M103.3 777.8h4.2l-2.1-3.6z" fill="#e6ab02"/>
<circle cx="105.5" cy="771.1" r="1.35" fill="#e0791a"/>
<circle cx="109.1" cy="767.0" r="1.35" fill="#a6761d"/>
<path d="M98.4 767.5h4.2l-2.1-3.6z" fill="#e0791a"/>
<circle cx="103.3" cy="774.6" r="1.35" fill="#e0791a"/>
<path d="M100.2 748.2h4.2l-2.1-3.6z" fill="#e0791a"/>
<path d="M133.4 769.6h4.2l-2.1-3.6z" fill="#e0791a"/>
<path d="M102.0 759.0h4.2l-2.1-3.6z" fill="#e0791a"/>
<path d="M127.4 766.3h4.2l-2.1-3.6z" fill="#e0791a"/>
<circle cx="105.1" cy="765.8" r="1.35" fill="#e0791a"/>
<path d="M99.7 773.7h4.2l-2.1-3.6z" fill="#e0791a"/>
<path d="M105.7 764.2h4.2l-2.1-3.6z" fill="#e0791a"/>
<path d="M103.6 765.9h4.2l-2.1-3.6z" fill="#e0791a"/>
<circle cx="117.3" cy="762.9" r="1.7" fill="none" stroke="#8680cc" stroke-width="1.0"/>
<path d="M100.8 753.1h4.2l-2.1-3.6z" fill="#e0791a"/>
<path d="M93.9 770.0h4.2l-2.1-3.6z" fill="#1b9e77"/>
<circle cx="97.6" cy="762.3" r="1.35" fill="#e6ab02"/>
<path d="M114.7 767.0h4.2l-2.1-3.6z" fill="#e0791a"/>
<path d="M97.4 757.3h4.2l-2.1-3.6z" fill="#e0791a"/>
<path d="M100.6 768.1h4.2l-2.1-3.6z" fill="#e0791a"/>
<circle cx="123.6" cy="762.4" r="1.35" fill="#e0791a"/>
<path d="M115.6 762.3h4.2l-2.1-3.6z" fill="#e0791a"/>
<circle cx="107.8" cy="754.4" r="1.35" fill="#e0791a"/>
<circle cx="106.1" cy="773.4" r="1.7" fill="none" stroke="#7bb02a" stroke-width="1.0"/>
<path d="M98.5 730.2h4.2l-2.1-3.6z" fill="#e6ab02"/>
<path d="M112.2 755.9h4.2l-2.1-3.6z" fill="#e0791a"/>
<path d="M118.5 770.6h4.2l-2.1-3.6z" fill="#e0791a"/>
<path d="M99.7 762.6h4.2l-2.1-3.6z" fill="#e0791a"/>
<path d="M108.4 755.3h4.2l-2.1-3.6z" fill="#e5408f"/>
<circle cx="100.6" cy="752.2" r="1.35" fill="#e0791a"/>
<path d="M110.9 739.3h4.4M113.1 737.1v4.4" stroke="#1b9e77" stroke-width="1.1"/>
<path d="M110.8 765.3h4.2l-2.1-3.6z" fill="#e6ab02"/>
<path d="M107.6 774.3h4.2l-2.1-3.6z" fill="#e6ab02"/>
<circle cx="103.4" cy="763.1" r="1.35" fill="#e0791a"/>
<path d="M99.8 777.2h4.2l-2.1-3.6z" fill="#e6ab02"/>
<path d="M112.0 766.8h4.2l-2.1-3.6z" fill="#e5408f"/>
<path d="M139.4 777.9h4.2l-2.1-3.6z" fill="#1b9e77"/>
<path d="M105.0 776.4h4.2l-2.1-3.6z" fill="#e0791a"/>
<circle cx="109.7" cy="756.8" r="1.35" fill="#e6ab02"/>
<circle cx="127.1" cy="743.2" r="1.35" fill="#e6ab02"/>
<path d="M154.1 762.7h4.2l-2.1-3.6z" fill="#e6ab02"/>
<path d="M107.0 777.1h4.2l-2.1-3.6z" fill="#e0791a"/>
<path d="M120.3 775.4h4.2l-2.1-3.6z" fill="#1b9e77"/>
<circle cx="95.4" cy="757.1" r="1.35" fill="#e0791a"/>
<circle cx="103.7" cy="756.3" r="1.7" fill="none" stroke="#8680cc" stroke-width="1.0"/>
<path d="M109.2 770.5h4.2l-2.1-3.6z" fill="#e0791a"/>
<circle cx="95.9" cy="763.1" r="1.35" fill="#e0791a"/>
<path d="M133.8 749.0h4.2l-2.1-3.6z" fill="#e0791a"/>
<circle cx="99.7" cy="770.8" r="1.35" fill="#a6761d"/>
<circle cx="96.2" cy="758.6" r="1.7" fill="none" stroke="#7bb02a" stroke-width="1.0"/>
<path d="M97.5 752.8h4.2l-2.1-3.6z" fill="#e6ab02"/>
<circle cx="110.4" cy="763.8" r="1.35" fill="#e0791a"/>
<circle cx="108.0" cy="766.3" r="1.7" fill="none" stroke="#e5408f" stroke-width="1.0"/>
<circle cx="98.3" cy="751.8" r="1.35" fill="#e0791a"/>
<path d="M157.4 777.9h4.2l-2.1-3.6z" fill="#e0791a"/>
<circle cx="104.5" cy="755.9" r="1.35" fill="#e0791a"/>
<path d="M122.4 746.3h4.2l-2.1-3.6z" fill="#e0791a"/>
<path d="M130.9 768.7h4.4M133.1 766.5v4.4" stroke="#1b9e77" stroke-width="1.1"/>
<path d="M100.3 762.5h4.2l-2.1-3.6z" fill="#1b9e77"/>
<path d="M107.9 719.4h4.2l-2.1-3.6z" fill="#e0791a"/>
<circle cx="136.0" cy="754.9" r="1.35" fill="#e0791a"/>
<circle cx="121.2" cy="771.1" r="1.35" fill="#e0791a"/>
<path d="M96.8 755.2h4.2l-2.1-3.6z" fill="#e0791a"/>
<circle cx="128.9" cy="775.2" r="1.35" fill="#e0791a"/>
<path d="M118.2 748.1h4.2l-2.1-3.6z" fill="#e6ab02"/>
<circle cx="108.4" cy="758.8" r="1.35" fill="#e0791a"/>
<path d="M109.0 747.8h4.2l-2.1-3.6z" fill="#e0791a"/>
<path d="M102.7 746.4h4.2l-2.1-3.6z" fill="#e0791a"/>
<circle cx="115.1" cy="747.4" r="1.35" fill="#7bb02a"/>
<circle cx="99.9" cy="753.6" r="1.7" fill="none" stroke="#8680cc" stroke-width="1.0"/>
<path d="M119.7 776.7h4.2l-2.1-3.6z" fill="#e0791a"/>
<path d="M109.3 757.2h4.2l-2.1-3.6z" fill="#e0791a"/>
<circle cx="112.6" cy="774.6" r="1.7" fill="none" stroke="#8680cc" stroke-width="1.0"/>
<path d="M93.5 764.2h4.2l-2.1-3.6z" fill="#1b9e77"/>
<path d="M121.8 771.3h4.2l-2.1-3.6z" fill="#e5408f"/>
<circle cx="105.5" cy="750.1" r="1.35" fill="#e0791a"/>
<circle cx="102.7" cy="773.6" r="1.35" fill="#7bb02a"/>
<circle cx="100.5" cy="771.6" r="1.35" fill="#e0791a"/>
<circle cx="117.8" cy="721.1" r="1.35" fill="#e0791a"/>
<circle cx="131.0" cy="761.1" r="1.35" fill="#e0791a"/>
<path d="M103.9 775.0h4.2l-2.1-3.6z" fill="#1b9e77"/>
<path d="M131.2 772.3h4.2l-2.1-3.6z" fill="#e0791a"/>
<path d="M102.4 773.2h4.2l-2.1-3.6z" fill="#e0791a"/>
<path d="M110.3 760.0h4.2l-2.1-3.6z" fill="#e0791a"/>
<circle cx="100.8" cy="741.3" r="1.35" fill="#e6ab02"/>
<circle cx="105.7" cy="772.7" r="1.7" fill="none" stroke="#e5408f" stroke-width="1.0"/>
<path d="M96.3 766.5h4.2l-2.1-3.6z" fill="#1b9e77"/>
<circle cx="97.1" cy="766.5" r="1.35" fill="#a6761d"/>
<circle cx="112.3" cy="771.9" r="1.35" fill="#e0791a"/>
<path d="M94.6 773.1h4.2l-2.1-3.6z" fill="#e0791a"/>
<circle cx="104.4" cy="739.0" r="1.35" fill="#7bb02a"/>
<path d="M98.8 775.4h4.2l-2.1-3.6z" fill="#e0791a"/>
<circle cx="130.6" cy="731.9" r="1.35" fill="#e0791a"/>
<path d="M101.1 729.3h4.2l-2.1-3.6z" fill="#e0791a"/>
<circle cx="103.9" cy="759.1" r="1.7" fill="none" stroke="#8680cc" stroke-width="1.0"/>
<path d="M106.4 776.6h4.2l-2.1-3.6z" fill="#e0791a"/>
<path d="M99.6 753.8h4.2l-2.1-3.6z" fill="#e0791a"/>
<path d="M109.4 764.3h4.2l-2.1-3.6z" fill="#e0791a"/>
<path d="M98.4 777.0h4.2l-2.1-3.6z" fill="#e0791a"/>
<path d="M106.1 773.3h4.2l-2.1-3.6z" fill="#e0791a"/>
<circle cx="108.8" cy="758.0" r="1.35" fill="#e0791a"/>
<circle cx="132.8" cy="754.5" r="1.35" fill="#e0791a"/>
<circle cx="105.0" cy="767.4" r="1.35" fill="#e0791a"/>
<path d="M102.3 776.2h4.2l-2.1-3.6z" fill="#e0791a"/>
<path d="M115.9 755.2h4.2l-2.1-3.6z" fill="#1b9e77"/>
<path d="M136.6 763.0h4.2l-2.1-3.6z" fill="#e0791a"/>
<path d="M117.3 762.8h4.2l-2.1-3.6z" fill="#e6ab02"/>
<path d="M109.7 773.4h4.2l-2.1-3.6z" fill="#e0791a"/>
<path d="M120.4 752.0h4.2l-2.1-3.6z" fill="#e5408f"/>
<path d="M129.9 773.4h4.2l-2.1-3.6z" fill="#e0791a"/>
<circle cx="97.9" cy="756.1" r="1.7" fill="none" stroke="#8680cc" stroke-width="1.0"/>
<circle cx="110.2" cy="764.2" r="1.35" fill="#e0791a"/>
<circle cx="113.1" cy="755.2" r="1.35" fill="#e0791a"/>
<path d="M98.9 754.9h4.2l-2.1-3.6z" fill="#e0791a"/>
<path d="M96.2 767.6h4.2l-2.1-3.6z" fill="#e0791a"/>
<circle cx="97.8" cy="754.1" r="1.35" fill="#e0791a"/>
<path d="M106.0 773.4h4.2l-2.1-3.6z" fill="#e0791a"/>
<circle cx="99.9" cy="770.0" r="1.35" fill="#e0791a"/>
<path d="M124.1 750.4h4.2l-2.1-3.6z" fill="#e0791a"/>
<path d="M102.5 744.9h4.2l-2.1-3.6z" fill="#e0791a"/>
<circle cx="132.8" cy="768.8" r="1.7" fill="none" stroke="#e5408f" stroke-width="1.0"/>
<path d="M97.4 752.1h4.2l-2.1-3.6z" fill="#e0791a"/>
<path d="M98.9 768.1h4.2l-2.1-3.6z" fill="#e0791a"/>
<circle cx="127.1" cy="731.8" r="1.35" fill="#a6761d"/>
<circle cx="140.8" cy="765.6" r="1.35" fill="#e0791a"/>
<path d="M109.3 751.2h4.2l-2.1-3.6z" fill="#e0791a"/>
<circle cx="113.4" cy="765.7" r="1.35" fill="#e5408f"/>
<path d="M96.8 755.8h4.2l-2.1-3.6z" fill="#e0791a"/>
<path d="M95.3 750.1h4.2l-2.1-3.6z" fill="#e0791a"/>
<path d="M95.6 761.3h4.2l-2.1-3.6z" fill="#e0791a"/>
<path d="M109.4 771.1h4.2l-2.1-3.6z" fill="#e0791a"/>
<circle cx="138.3" cy="772.7" r="1.35" fill="#e0791a"/>
<path d="M94.2 764.6h4.2l-2.1-3.6z" fill="#1b9e77"/>
<path d="M109.2 760.5h4.2l-2.1-3.6z" fill="#e0791a"/>
<path d="M123.8 773.5h4.2l-2.1-3.6z" fill="#e0791a"/>
<circle cx="107.2" cy="768.8" r="1.35" fill="#e0791a"/>
<path d="M118.7 748.5h4.2l-2.1-3.6z" fill="#e0791a"/>
<path d="M137.1 775.7h4.2l-2.1-3.6z" fill="#e0791a"/>
<circle cx="123.1" cy="775.7" r="1.35" fill="#7bb02a"/>
<circle cx="126.8" cy="761.1" r="1.35" fill="#e0791a"/>
<path d="M117.6 747.9h4.2l-2.1-3.6z" fill="#1b9e77"/>
<circle cx="118.0" cy="772.0" r="1.35" fill="#e0791a"/>
<path d="M134.9 754.1h4.2l-2.1-3.6z" fill="#e0791a"/>
<circle cx="120.8" cy="771.3" r="1.35" fill="#e0791a"/>
<path d="M103.9 777.8h4.2l-2.1-3.6z" fill="#e0791a"/>
<circle cx="102.8" cy="767.4" r="1.35" fill="#7bb02a"/>
<path d="M105.5 775.7h4.2l-2.1-3.6z" fill="#e0791a"/>
<path d="M95.3 773.7h4.2l-2.1-3.6z" fill="#1b9e77"/>
<circle cx="96.9" cy="732.6" r="1.35" fill="#e0791a"/>
<path d="M120.2 770.2h4.2l-2.1-3.6z" fill="#e0791a"/>
<circle cx="122.7" cy="754.8" r="1.35" fill="#a6761d"/>
<path d="M98.5 766.9h4.2l-2.1-3.6z" fill="#e0791a"/>
<circle cx="127.2" cy="760.1" r="1.35" fill="#e0791a"/>
<circle cx="100.2" cy="768.2" r="1.7" fill="none" stroke="#e5408f" stroke-width="1.0"/>
<path d="M96.9 770.6h4.2l-2.1-3.6z" fill="#e0791a"/>
<circle cx="115.8" cy="757.7" r="1.35" fill="#e5408f"/>
<circle cx="95.0" cy="742.8" r="1.35" fill="#e0791a"/>
<circle cx="109.3" cy="764.0" r="1.35" fill="#e0791a"/>
<path d="M100.1 759.6h4.2l-2.1-3.6z" fill="#e6ab02"/>
<circle cx="119.2" cy="723.9" r="1.35" fill="#e0791a"/>
<circle cx="115.3" cy="760.6" r="1.7" fill="none" stroke="#e5408f" stroke-width="1.0"/>
<circle cx="96.4" cy="767.7" r="1.35" fill="#e0791a"/>
<circle cx="99.9" cy="767.6" r="1.35" fill="#e6ab02"/>
<circle cx="97.8" cy="761.7" r="1.35" fill="#e0791a"/>
<circle cx="103.5" cy="771.8" r="1.35" fill="#7bb02a"/>
<path d="M108.7 777.3h4.2l-2.1-3.6z" fill="#e0791a"/>
<path d="M107.3 776.7h4.2l-2.1-3.6z" fill="#e6ab02"/>
<circle cx="105.4" cy="756.3" r="1.35" fill="#e0791a"/>
<path d="M120.5 749.3h4.2l-2.1-3.6z" fill="#e0791a"/>
<path d="M94.8 752.1h4.2l-2.1-3.6z" fill="#e0791a"/>
<path d="M105.6 764.1h4.4M107.8 761.9v4.4" stroke="#1b9e77" stroke-width="1.1"/>
<circle cx="103.2" cy="774.1" r="1.35" fill="#e0791a"/>
<circle cx="101.4" cy="764.4" r="1.35" fill="#e0791a"/>
<circle cx="114.9" cy="755.3" r="1.35" fill="#e0791a"/>
<circle cx="99.3" cy="754.1" r="1.35" fill="#e0791a"/>
<path d="M107.9 774.9h4.2l-2.1-3.6z" fill="#e0791a"/>
<path d="M131.2 773.1h4.2l-2.1-3.6z" fill="#e0791a"/>
<circle cx="116.6" cy="764.1" r="1.35" fill="#e0791a"/>
<path d="M109.9 762.6h4.2l-2.1-3.6z" fill="#e6ab02"/>
<circle cx="95.5" cy="757.1" r="1.35" fill="#e0791a"/>
<path d="M106.6 774.9h4.2l-2.1-3.6z" fill="#e0791a"/>
<path d="M105.9 746.8h4.4M108.1 744.6v4.4" stroke="#1b9e77" stroke-width="1.1"/>
<circle cx="119.5" cy="752.7" r="1.35" fill="#e0791a"/>
<circle cx="110.2" cy="767.7" r="1.35" fill="#e5408f"/>
<path d="M120.7 761.9h4.2l-2.1-3.6z" fill="#e0791a"/>
<path d="M97.9 761.6h4.2l-2.1-3.6z" fill="#e0791a"/>
<circle cx="106.0" cy="760.6" r="1.35" fill="#e6ab02"/>
<circle cx="100.7" cy="741.2" r="1.35" fill="#e6ab02"/>
<circle cx="106.6" cy="768.1" r="1.35" fill="#e0791a"/>
<circle cx="108.3" cy="774.9" r="1.7" fill="none" stroke="#8680cc" stroke-width="1.0"/>
<path d="M113.7 755.0h4.2l-2.1-3.6z" fill="#e6ab02"/>
<path d="M93.7 743.3h4.2l-2.1-3.6z" fill="#e0791a"/>
<path d="M115.9 772.2h4.2l-2.1-3.6z" fill="#e0791a"/>
<circle cx="124.2" cy="760.5" r="1.35" fill="#a6761d"/>
<path d="M98.4 769.3h4.2l-2.1-3.6z" fill="#1b9e77"/>
<circle cx="95.4" cy="775.7" r="1.7" fill="none" stroke="#8680cc" stroke-width="1.0"/>
<circle cx="95.1" cy="771.3" r="1.35" fill="#e0791a"/>
<path d="M111.1 773.1h4.4M113.3 770.9v4.4" stroke="#1b9e77" stroke-width="1.1"/>
<path d="M96.3 767.6h4.2l-2.1-3.6z" fill="#e0791a"/>
<path d="M94.5 745.8h4.2l-2.1-3.6z" fill="#e6ab02"/>
<path d="M93.3 756.6h4.2l-2.1-3.6z" fill="#e0791a"/>
<path d="M100.6 754.7h4.2l-2.1-3.6z" fill="#e0791a"/>
<circle cx="126.1" cy="772.8" r="1.35" fill="#a6761d"/>
<circle cx="106.9" cy="773.8" r="1.35" fill="#e0791a"/>
<circle cx="132.2" cy="769.7" r="1.35" fill="#e0791a"/>
<path d="M96.2 755.6h4.2l-2.1-3.6z" fill="#e0791a"/>
<circle cx="112.2" cy="764.3" r="1.35" fill="#e6ab02"/>
<path d="M102.6 763.7h4.2l-2.1-3.6z" fill="#e0791a"/>
<circle cx="116.8" cy="758.7" r="1.35" fill="#e0791a"/>
<path d="M135.3 730.7h4.2l-2.1-3.6z" fill="#e0791a"/>
<circle cx="120.1" cy="760.5" r="1.35" fill="#e6ab02"/>
<circle cx="162.4" cy="746.3" r="1.35" fill="#e0791a"/>
<circle cx="97.3" cy="770.5" r="1.35" fill="#e0791a"/>
<path d="M98.5 746.8h4.4M100.7 744.6v4.4" stroke="#1b9e77" stroke-width="1.1"/>
<circle cx="129.8" cy="754.0" r="1.7" fill="none" stroke="#e5408f" stroke-width="1.0"/>
<path d="M99.8 767.2h4.2l-2.1-3.6z" fill="#e0791a"/>
<circle cx="106.9" cy="733.6" r="1.35" fill="#a6761d"/>
<path d="M117.4 765.8h4.2l-2.1-3.6z" fill="#e0791a"/>
<path d="M115.9 752.6h4.2l-2.1-3.6z" fill="#e0791a"/>
<circle cx="99.4" cy="775.9" r="1.35" fill="#e6ab02"/>
<path d="M117.2 771.7h4.2l-2.1-3.6z" fill="#1b9e77"/>
<path d="M99.1 773.5h4.2l-2.1-3.6z" fill="#e0791a"/>
<circle cx="106.0" cy="767.8" r="1.35" fill="#7bb02a"/>
<path d="M99.6 753.2h4.2l-2.1-3.6z" fill="#e0791a"/>
<circle cx="112.4" cy="759.7" r="1.35" fill="#e0791a"/>
<path d="M111.2 763.2h4.4M113.4 761.0v4.4" stroke="#1b9e77" stroke-width="1.1"/>
<path d="M99.7 777.6h4.2l-2.1-3.6z" fill="#e0791a"/>
<circle cx="139.2" cy="756.7" r="1.7" fill="none" stroke="#7bb02a" stroke-width="1.0"/>
<circle cx="133.2" cy="771.5" r="1.35" fill="#a6761d"/>
<circle cx="120.2" cy="768.3" r="1.35" fill="#7bb02a"/>
<circle cx="97.2" cy="772.8" r="1.35" fill="#e6ab02"/>
<circle cx="96.5" cy="765.9" r="1.35" fill="#e0791a"/>
<circle cx="99.6" cy="765.6" r="1.35" fill="#a6761d"/>
<circle cx="96.0" cy="741.4" r="1.35" fill="#e6ab02"/>
<path d="M136.9 762.9h4.2l-2.1-3.6z" fill="#e0791a"/>
<path d="M101.5 735.5h4.2l-2.1-3.6z" fill="#e0791a"/>
<circle cx="104.3" cy="742.0" r="1.7" fill="none" stroke="#8680cc" stroke-width="1.0"/>
<circle cx="97.2" cy="776.5" r="1.35" fill="#e0791a"/>
<path d="M130.7 750.9h4.2l-2.1-3.6z" fill="#e5408f"/>
<circle cx="154.8" cy="769.9" r="1.35" fill="#a6761d"/>
<circle cx="117.4" cy="770.2" r="1.35" fill="#e0791a"/>
<path d="M125.3 775.2h4.2l-2.1-3.6z" fill="#e6ab02"/>
<path d="M102.5 775.1h4.2l-2.1-3.6z" fill="#e0791a"/>
<path d="M111.1 775.8h4.2l-2.1-3.6z" fill="#e0791a"/>
<path d="M103.4 769.6h4.2l-2.1-3.6z" fill="#e6ab02"/>
<circle cx="127.4" cy="767.1" r="1.35" fill="#e5408f"/>
<circle cx="112.7" cy="775.4" r="1.35" fill="#e0791a"/>
<circle cx="115.0" cy="745.6" r="1.35" fill="#1b9e77"/>
<circle cx="128.9" cy="736.9" r="1.35" fill="#e0791a"/>
<circle cx="99.1" cy="768.1" r="1.35" fill="#e0791a"/>
<circle cx="102.1" cy="774.1" r="1.35" fill="#e0791a"/>
<path d="M126.1 748.8h4.2l-2.1-3.6z" fill="#e0791a"/>
<path d="M108.1 748.0h4.2l-2.1-3.6z" fill="#e0791a"/>
<circle cx="120.8" cy="728.3" r="1.35" fill="#e6ab02"/>
<circle cx="118.1" cy="759.6" r="1.35" fill="#a6761d"/>
<path d="M95.0 772.4h4.2l-2.1-3.6z" fill="#e0791a"/>
<path d="M94.3 747.2h4.2l-2.1-3.6z" fill="#e0791a"/>
<circle cx="134.9" cy="759.1" r="1.35" fill="#e0791a"/>
<circle cx="107.6" cy="774.8" r="1.35" fill="#e0791a"/>
<path d="M112.1 765.2h4.2l-2.1-3.6z" fill="#e0791a"/>
<path d="M115.2 737.7h4.2l-2.1-3.6z" fill="#e0791a"/>
<path d="M93.5 757.9h4.2l-2.1-3.6z" fill="#e6ab02"/>
<circle cx="117.8" cy="764.3" r="1.35" fill="#1b9e77"/>
<circle cx="103.5" cy="764.0" r="1.35" fill="#e0791a"/>
<path d="M120.6 767.0h4.2l-2.1-3.6z" fill="#e0791a"/>
<path d="M99.8 769.6h4.2l-2.1-3.6z" fill="#e0791a"/>
<path d="M102.1 777.6h4.2l-2.1-3.6z" fill="#e0791a"/>
<circle cx="109.8" cy="748.4" r="1.35" fill="#e0791a"/>
<circle cx="96.8" cy="759.5" r="1.35" fill="#e0791a"/>
<path d="M98.9 767.0h4.2l-2.1-3.6z" fill="#e0791a"/>
<path d="M99.7 776.4h4.2l-2.1-3.6z" fill="#e6ab02"/>
<path d="M103.3 777.4h4.2l-2.1-3.6z" fill="#e6ab02"/>
<path d="M108.2 775.4h4.2l-2.1-3.6z" fill="#e6ab02"/>
<path d="M122.4 755.4h4.2l-2.1-3.6z" fill="#e0791a"/>
<path d="M114.5 770.3h4.2l-2.1-3.6z" fill="#e0791a"/>
<circle cx="142.7" cy="765.6" r="1.35" fill="#e0791a"/>
<path d="M116.8 776.9h4.2l-2.1-3.6z" fill="#e6ab02"/>
<circle cx="112.3" cy="738.2" r="1.35" fill="#1b9e77"/>
<circle cx="97.6" cy="757.0" r="1.35" fill="#e6ab02"/>
<circle cx="107.8" cy="772.0" r="1.35" fill="#e0791a"/>
<circle cx="131.9" cy="768.8" r="1.35" fill="#e6ab02"/>
<path d="M114.4 758.6h4.2l-2.1-3.6z" fill="#e0791a"/>
<path d="M128.8 774.4h4.2l-2.1-3.6z" fill="#e0791a"/>
<circle cx="101.7" cy="767.6" r="1.35" fill="#e0791a"/>
<path d="M96.6 775.8h4.2l-2.1-3.6z" fill="#e0791a"/>
<path d="M117.9 774.9h4.2l-2.1-3.6z" fill="#e0791a"/>
<path d="M107.0 754.6h4.2l-2.1-3.6z" fill="#e0791a"/>
<circle cx="121.6" cy="765.1" r="1.7" fill="none" stroke="#e5408f" stroke-width="1.0"/>
<path d="M102.6 760.8h4.2l-2.1-3.6z" fill="#e0791a"/>
<circle cx="115.1" cy="758.6" r="1.35" fill="#e0791a"/>
<circle cx="106.5" cy="776.3" r="1.35" fill="#e5408f"/>
<path d="M108.9 764.5h4.2l-2.1-3.6z" fill="#e0791a"/>
<path d="M113.4 761.4h4.2l-2.1-3.6z" fill="#e0791a"/>
<path d="M102.2 772.2h4.2l-2.1-3.6z" fill="#e0791a"/>
<circle cx="131.4" cy="775.9" r="1.35" fill="#e0791a"/>
<path d="M94.5 774.7h4.2l-2.1-3.6z" fill="#e0791a"/>
<path d="M95.5 757.1h4.2l-2.1-3.6z" fill="#e6ab02"/>
<circle cx="118.7" cy="763.5" r="1.35" fill="#e0791a"/>
<circle cx="102.6" cy="769.7" r="1.7" fill="none" stroke="#7bb02a" stroke-width="1.0"/>
<circle cx="95.6" cy="769.5" r="1.35" fill="#e0791a"/>
<circle cx="99.2" cy="760.5" r="1.7" fill="none" stroke="#e5408f" stroke-width="1.0"/>
<circle cx="108.0" cy="764.1" r="1.35" fill="#1b9e77"/>
<path d="M102.2 768.0h4.2l-2.1-3.6z" fill="#e0791a"/>
<circle cx="106.8" cy="748.3" r="1.35" fill="#e0791a"/>
<circle cx="111.4" cy="765.0" r="1.35" fill="#a6761d"/>
<circle cx="96.2" cy="746.9" r="1.35" fill="#7bb02a"/>
<path d="M100.1 762.3h4.2l-2.1-3.6z" fill="#e5408f"/>
<path d="M109.5 777.4h4.2l-2.1-3.6z" fill="#e0791a"/>
<path d="M99.0 750.3h4.2l-2.1-3.6z" fill="#e0791a"/>
<circle cx="110.7" cy="748.6" r="1.35" fill="#e0791a"/>
<circle cx="116.6" cy="775.8" r="1.7" fill="none" stroke="#e5408f" stroke-width="1.0"/>
<circle cx="119.7" cy="773.2" r="1.35" fill="#e6ab02"/>
<circle cx="124.5" cy="775.5" r="1.35" fill="#e0791a"/>
<circle cx="120.5" cy="745.5" r="1.35" fill="#e5408f"/>
<circle cx="101.5" cy="773.6" r="1.35" fill="#e0791a"/>
<path d="M98.2 748.3h4.2l-2.1-3.6z" fill="#e0791a"/>
<path d="M116.9 747.3h4.2l-2.1-3.6z" fill="#e0791a"/>
<circle cx="113.0" cy="775.0" r="1.35" fill="#e0791a"/>
<circle cx="131.6" cy="739.4" r="1.35" fill="#e0791a"/>
<circle cx="113.9" cy="759.2" r="1.35" fill="#e5408f"/>
<path d="M103.3 769.3h4.4M105.5 767.1v4.4" stroke="#1b9e77" stroke-width="1.1"/>
<circle cx="134.5" cy="726.5" r="1.35" fill="#e0791a"/>
<circle cx="122.3" cy="772.3" r="1.7" fill="none" stroke="#8680cc" stroke-width="1.0"/>
<path d="M135.1 741.2h4.2l-2.1-3.6z" fill="#e5408f"/>
<path d="M105.7 763.0h4.2l-2.1-3.6z" fill="#e0791a"/>
<path d="M97.1 771.1h4.4M99.3 768.9v4.4" stroke="#1b9e77" stroke-width="1.1"/>
<circle cx="119.5" cy="775.3" r="1.35" fill="#e0791a"/>
<path d="M120.6 759.0h4.2l-2.1-3.6z" fill="#e0791a"/>
<circle cx="126.0" cy="776.5" r="1.35" fill="#a6761d"/>
<path d="M94.1 748.5h4.2l-2.1-3.6z" fill="#e0791a"/>
<circle cx="100.1" cy="751.3" r="1.7" fill="none" stroke="#7bb02a" stroke-width="1.0"/>
<path d="M92.5 758.2h4.4M94.7 756.0v4.4" stroke="#1b9e77" stroke-width="1.1"/>
<circle cx="101.6" cy="758.0" r="1.35" fill="#e6ab02"/>
<circle cx="145.0" cy="773.8" r="1.35" fill="#e0791a"/>
<circle cx="114.9" cy="761.0" r="1.35" fill="#e6ab02"/>
<path d="M126.6 777.1h4.2l-2.1-3.6z" fill="#e0791a"/>
<path d="M96.2 769.6h4.2l-2.1-3.6z" fill="#e0791a"/>
<path d="M112.1 756.4h4.2l-2.1-3.6z" fill="#e0791a"/>
<path d="M106.5 747.6h4.2l-2.1-3.6z" fill="#e0791a"/>
<path d="M102.1 778.0h4.2l-2.1-3.6z" fill="#e0791a"/>
<circle cx="96.4" cy="765.7" r="1.35" fill="#e0791a"/>
<circle cx="130.2" cy="760.7" r="1.35" fill="#e0791a"/>
<circle cx="115.4" cy="772.8" r="1.35" fill="#e0791a"/>
<circle cx="138.8" cy="774.0" r="1.7" fill="none" stroke="#8680cc" stroke-width="1.0"/>
<circle cx="116.6" cy="767.5" r="1.35" fill="#e0791a"/>
<circle cx="101.8" cy="772.0" r="1.7" fill="none" stroke="#e5408f" stroke-width="1.0"/>
<path d="M108.3 775.9h4.2l-2.1-3.6z" fill="#e5408f"/>
<path d="M112.2 759.1h4.2l-2.1-3.6z" fill="#e6ab02"/>
<circle cx="119.6" cy="774.1" r="1.35" fill="#a6761d"/>
<circle cx="120.8" cy="739.1" r="1.7" fill="none" stroke="#7bb02a" stroke-width="1.0"/>
<path d="M96.5 750.2h4.4M98.7 748.0v4.4" stroke="#1b9e77" stroke-width="1.1"/>
<path d="M105.1 743.6h4.2l-2.1-3.6z" fill="#e0791a"/>
<circle cx="103.6" cy="755.3" r="1.7" fill="none" stroke="#e5408f" stroke-width="1.0"/>
<circle cx="112.2" cy="762.8" r="1.7" fill="none" stroke="#e5408f" stroke-width="1.0"/>
<circle cx="95.4" cy="738.2" r="1.7" fill="none" stroke="#7bb02a" stroke-width="1.0"/>
<circle cx="101.6" cy="770.8" r="1.35" fill="#e0791a"/>
<path d="M139.0 749.6h4.2l-2.1-3.6z" fill="#e0791a"/>
<circle cx="113.0" cy="765.8" r="1.35" fill="#e6ab02"/>
<path d="M98.9 776.1h4.2l-2.1-3.6z" fill="#1b9e77"/>
<path d="M100.4 757.4h4.4M102.6 755.2v4.4" stroke="#1b9e77" stroke-width="1.1"/>
<path d="M100.2 772.5h4.2l-2.1-3.6z" fill="#e6ab02"/>
<circle cx="133.0" cy="757.0" r="1.35" fill="#e0791a"/>
<path d="M123.5 756.1h4.2l-2.1-3.6z" fill="#e0791a"/>
<circle cx="132.8" cy="775.1" r="1.35" fill="#e0791a"/>
<circle cx="132.1" cy="775.5" r="1.35" fill="#a6761d"/>
<circle cx="98.3" cy="767.8" r="1.35" fill="#a6761d"/>
<circle cx="126.3" cy="746.4" r="1.35" fill="#e0791a"/>
<path d="M114.6 734.9h4.2l-2.1-3.6z" fill="#e0791a"/>
<path d="M105.9 766.8h4.2l-2.1-3.6z" fill="#e0791a"/>
<path d="M96.7 773.6h4.2l-2.1-3.6z" fill="#e0791a"/>
<path d="M103.4 773.8h4.2l-2.1-3.6z" fill="#e6ab02"/>
<path d="M99.9 759.2h4.2l-2.1-3.6z" fill="#e0791a"/>
<path d="M112.1 771.8h4.2l-2.1-3.6z" fill="#e0791a"/>
<path d="M99.2 773.7h4.2l-2.1-3.6z" fill="#e0791a"/>
<circle cx="105.5" cy="759.2" r="1.35" fill="#e0791a"/>
<circle cx="111.9" cy="768.8" r="1.7" fill="none" stroke="#e5408f" stroke-width="1.0"/>
<circle cx="126.0" cy="756.9" r="1.35" fill="#e0791a"/>
<path d="M106.2 768.4h4.2l-2.1-3.6z" fill="#e0791a"/>
<circle cx="103.1" cy="744.8" r="1.35" fill="#e0791a"/>
<path d="M114.3 767.0h4.2l-2.1-3.6z" fill="#e0791a"/>
<path d="M108.3 775.2h4.2l-2.1-3.6z" fill="#e6ab02"/>
<circle cx="119.6" cy="751.6" r="1.7" fill="none" stroke="#7bb02a" stroke-width="1.0"/>
<circle cx="109.6" cy="741.8" r="1.7" fill="none" stroke="#8680cc" stroke-width="1.0"/>
<path d="M107.2 764.8h4.2l-2.1-3.6z" fill="#e0791a"/>
<circle cx="106.4" cy="740.3" r="1.35" fill="#7bb02a"/>
<path d="M116.5 757.0h4.2l-2.1-3.6z" fill="#e0791a"/>
<path d="M98.5 770.4h4.2l-2.1-3.6z" fill="#e0791a"/>
<path d="M109.2 745.4h4.2l-2.1-3.6z" fill="#e0791a"/>
<circle cx="138.3" cy="772.7" r="1.35" fill="#e0791a"/>
<circle cx="104.2" cy="773.9" r="1.35" fill="#e0791a"/>
<circle cx="99.8" cy="766.1" r="1.35" fill="#a6761d"/>
<circle cx="125.0" cy="731.7" r="1.35" fill="#e0791a"/>
<circle cx="121.8" cy="765.5" r="1.35" fill="#e0791a"/>
<path d="M100.5 769.5h4.2l-2.1-3.6z" fill="#e0791a"/>
<circle cx="119.6" cy="758.8" r="1.7" fill="none" stroke="#7bb02a" stroke-width="1.0"/>
<circle cx="108.7" cy="758.0" r="1.7" fill="none" stroke="#e5408f" stroke-width="1.0"/>
<circle cx="119.8" cy="768.6" r="1.35" fill="#e0791a"/>
<circle cx="105.3" cy="767.0" r="1.7" fill="none" stroke="#8680cc" stroke-width="1.0"/>
<path d="M113.4 771.0h4.2l-2.1-3.6z" fill="#e0791a"/>
<path d="M121.5 755.5h4.2l-2.1-3.6z" fill="#e0791a"/>
<path d="M100.6 775.6h4.2l-2.1-3.6z" fill="#e5408f"/>
<circle cx="97.4" cy="766.4" r="1.35" fill="#e0791a"/>
<path d="M105.1 776.2h4.2l-2.1-3.6z" fill="#e5408f"/>
<circle cx="119.9" cy="760.8" r="1.35" fill="#e0791a"/>
<path d="M117.5 757.7h4.2l-2.1-3.6z" fill="#e0791a"/>
<path d="M93.6 775.1h4.2l-2.1-3.6z" fill="#e0791a"/>
<circle cx="99.5" cy="769.3" r="1.35" fill="#1b9e77"/>
<circle cx="103.1" cy="760.9" r="1.35" fill="#a6761d"/>
<circle cx="123.7" cy="772.0" r="1.35" fill="#e0791a"/>
<circle cx="116.0" cy="762.1" r="1.7" fill="none" stroke="#e5408f" stroke-width="1.0"/>
<circle cx="132.2" cy="768.2" r="1.7" fill="none" stroke="#7bb02a" stroke-width="1.0"/>
<circle cx="96.0" cy="730.3" r="1.35" fill="#e6ab02"/>
<path d="M96.0 745.7h4.2l-2.1-3.6z" fill="#1b9e77"/>
<path d="M132.0 771.4h4.2l-2.1-3.6z" fill="#e0791a"/>
<circle cx="124.3" cy="758.7" r="1.7" fill="none" stroke="#8680cc" stroke-width="1.0"/>
<path d="M97.4 755.6h4.2l-2.1-3.6z" fill="#e0791a"/>
<circle cx="118.7" cy="769.3" r="1.35" fill="#e0791a"/>
<path d="M120.2 769.9h4.2l-2.1-3.6z" fill="#e0791a"/>
<path d="M112.5 746.9h4.2l-2.1-3.6z" fill="#e0791a"/>
<circle cx="113.3" cy="742.6" r="1.35" fill="#a6761d"/>
<circle cx="114.1" cy="772.5" r="1.35" fill="#e5408f"/>
<path d="M100.1 729.2h4.2l-2.1-3.6z" fill="#e0791a"/>
<circle cx="102.1" cy="771.4" r="1.35" fill="#e6ab02"/>
<path d="M112.5 771.8h4.4M114.7 769.6v4.4" stroke="#1b9e77" stroke-width="1.1"/>
<circle cx="98.5" cy="774.7" r="1.35" fill="#e0791a"/>
<path d="M103.7 770.5h4.2l-2.1-3.6z" fill="#e0791a"/>
<circle cx="97.5" cy="775.6" r="1.7" fill="none" stroke="#8680cc" stroke-width="1.0"/>
<circle cx="94.9" cy="762.0" r="1.35" fill="#e0791a"/>
<path d="M96.8 760.7h4.2l-2.1-3.6z" fill="#e0791a"/>
<path d="M92.9 755.6h4.2l-2.1-3.6z" fill="#e0791a"/>
<path d="M95.1 759.4h4.2l-2.1-3.6z" fill="#e0791a"/>
<path d="M98.2 773.2h4.2l-2.1-3.6z" fill="#e0791a"/>
<circle cx="113.8" cy="771.2" r="1.7" fill="none" stroke="#8680cc" stroke-width="1.0"/>
<circle cx="97.6" cy="770.5" r="1.7" fill="none" stroke="#8680cc" stroke-width="1.0"/>
<circle cx="120.8" cy="758.1" r="1.35" fill="#e0791a"/>
<circle cx="133.0" cy="759.2" r="1.35" fill="#e0791a"/>
<circle cx="113.0" cy="764.8" r="1.35" fill="#e0791a"/>
<path d="M106.7 752.4h4.2l-2.1-3.6z" fill="#e0791a"/>
<path d="M98.2 748.5h4.2l-2.1-3.6z" fill="#e0791a"/>
<path d="M98.3 764.5h4.2l-2.1-3.6z" fill="#e0791a"/>
<circle cx="108.6" cy="774.0" r="1.35" fill="#e0791a"/>
<path d="M101.5 756.1h4.2l-2.1-3.6z" fill="#e0791a"/>
<path d="M99.4 776.8h4.2l-2.1-3.6z" fill="#e0791a"/>
<path d="M95.3 759.6h4.2l-2.1-3.6z" fill="#e0791a"/>
<circle cx="107.9" cy="753.5" r="1.35" fill="#a6761d"/>
<path d="M103.3 769.7h4.2l-2.1-3.6z" fill="#e0791a"/>
<circle cx="102.3" cy="771.6" r="1.35" fill="#e6ab02"/>
<path d="M99.7 776.3h4.2l-2.1-3.6z" fill="#e5408f"/>
<circle cx="102.0" cy="775.7" r="1.35" fill="#1b9e77"/>
<path d="M93.2 747.3h4.2l-2.1-3.6z" fill="#1b9e77"/>
<circle cx="98.6" cy="768.1" r="1.35" fill="#1b9e77"/>
<path d="M109.9 773.6h4.2l-2.1-3.6z" fill="#e0791a"/>
<path d="M95.7 751.8h4.2l-2.1-3.6z" fill="#e0791a"/>
<path d="M116.2 777.6h4.2l-2.1-3.6z" fill="#e6ab02"/>
<circle cx="114.0" cy="767.7" r="1.7" fill="none" stroke="#e5408f" stroke-width="1.0"/>
<circle cx="118.4" cy="769.4" r="1.35" fill="#e0791a"/>
<path d="M105.3 744.9h4.2l-2.1-3.6z" fill="#e0791a"/>
<circle cx="108.5" cy="752.9" r="1.35" fill="#e0791a"/>
<circle cx="111.9" cy="773.8" r="1.7" fill="none" stroke="#e5408f" stroke-width="1.0"/>
<path d="M116.2 755.4h4.2l-2.1-3.6z" fill="#e0791a"/>
<path d="M116.7 762.2h4.2l-2.1-3.6z" fill="#e0791a"/>
<path d="M97.8 761.2h4.2l-2.1-3.6z" fill="#e0791a"/>
<path d="M143.9 769.5h4.2l-2.1-3.6z" fill="#e0791a"/>
<path d="M101.3 760.9h4.2l-2.1-3.6z" fill="#e0791a"/>
<circle cx="121.3" cy="772.7" r="1.7" fill="none" stroke="#7bb02a" stroke-width="1.0"/>
<path d="M124.6 774.0h4.2l-2.1-3.6z" fill="#e6ab02"/>
<circle cx="107.2" cy="770.6" r="1.35" fill="#e6ab02"/>
<path d="M105.8 769.3h4.2l-2.1-3.6z" fill="#e0791a"/>
<path d="M126.6 771.6h4.2l-2.1-3.6z" fill="#e5408f"/>
<path d="M94.1 772.5h4.4M96.3 770.3v4.4" stroke="#1b9e77" stroke-width="1.1"/>
<path d="M113.8 769.3h4.2l-2.1-3.6z" fill="#e0791a"/>
<circle cx="110.2" cy="747.6" r="1.7" fill="none" stroke="#7bb02a" stroke-width="1.0"/>
<circle cx="108.6" cy="752.7" r="1.35" fill="#e0791a"/>
<path d="M108.4 761.6h4.2l-2.1-3.6z" fill="#e0791a"/>
<path d="M122.1 774.9h4.2l-2.1-3.6z" fill="#e0791a"/>
<path d="M94.8 769.0h4.2l-2.1-3.6z" fill="#e5408f"/>
<path d="M107.8 759.7h4.2l-2.1-3.6z" fill="#e0791a"/>
<circle cx="110.2" cy="746.6" r="1.35" fill="#e0791a"/>
<path d="M95.1 760.2h4.2l-2.1-3.6z" fill="#e0791a"/>
<circle cx="98.8" cy="756.6" r="1.35" fill="#e0791a"/>
<path d="M103.5 747.9h4.2l-2.1-3.6z" fill="#e0791a"/>
<path d="M99.8 770.4h4.2l-2.1-3.6z" fill="#e0791a"/>
<path d="M127.0 748.5h4.2l-2.1-3.6z" fill="#e0791a"/>
<path d="M123.7 768.9h4.2l-2.1-3.6z" fill="#e6ab02"/>
<circle cx="135.8" cy="764.7" r="1.35" fill="#e0791a"/>
<path d="M96.2 737.8h4.2l-2.1-3.6z" fill="#e0791a"/>
<circle cx="116.9" cy="775.6" r="1.35" fill="#1b9e77"/>
<circle cx="131.8" cy="760.3" r="1.35" fill="#e0791a"/>
<circle cx="110.7" cy="735.8" r="1.35" fill="#e0791a"/>
<path d="M105.5 752.0h4.2l-2.1-3.6z" fill="#e0791a"/>
<path d="M104.6 756.5h4.4M106.8 754.3v4.4" stroke="#1b9e77" stroke-width="1.1"/>
<path d="M121.4 775.9h4.2l-2.1-3.6z" fill="#e0791a"/>
<path d="M117.7 758.5h4.2l-2.1-3.6z" fill="#e0791a"/>
<path d="M114.3 761.5h4.2l-2.1-3.6z" fill="#e0791a"/>
<circle cx="102.5" cy="758.3" r="1.7" fill="none" stroke="#8680cc" stroke-width="1.0"/>
<path d="M99.3 758.3h4.2l-2.1-3.6z" fill="#e0791a"/>
<circle cx="105.3" cy="762.8" r="1.35" fill="#e0791a"/>
<circle cx="123.7" cy="765.9" r="1.35" fill="#e6ab02"/>
<circle cx="100.8" cy="761.1" r="1.35" fill="#e6ab02"/>
<path d="M95.7 755.1h4.2l-2.1-3.6z" fill="#e6ab02"/>
<circle cx="118.2" cy="768.4" r="1.35" fill="#e5408f"/>
<path d="M142.7 775.6h4.2l-2.1-3.6z" fill="#e0791a"/>
<path d="M122.7 765.0h4.2l-2.1-3.6z" fill="#e5408f"/>
<path d="M93.3 755.3h4.2l-2.1-3.6z" fill="#e0791a"/>
<path d="M132.3 756.8h4.2l-2.1-3.6z" fill="#e0791a"/>
<circle cx="114.9" cy="761.8" r="1.35" fill="#e0791a"/>
<circle cx="95.7" cy="746.6" r="1.35" fill="#e0791a"/>
<path d="M128.6 770.8h4.2l-2.1-3.6z" fill="#e0791a"/>
<path d="M122.1 767.6h4.2l-2.1-3.6z" fill="#e0791a"/>
<circle cx="108.0" cy="762.2" r="1.35" fill="#e5408f"/>
<path d="M97.4 766.9h4.2l-2.1-3.6z" fill="#e0791a"/>
<path d="M94.2 764.1h4.2l-2.1-3.6z" fill="#e0791a"/>
<circle cx="116.6" cy="776.4" r="1.35" fill="#e0791a"/>
<circle cx="125.6" cy="753.3" r="1.35" fill="#e6ab02"/>
<path d="M133.1 760.6h4.2l-2.1-3.6z" fill="#e0791a"/>
<circle cx="95.5" cy="754.6" r="1.35" fill="#e0791a"/>
<circle cx="120.9" cy="773.5" r="1.35" fill="#e6ab02"/>
<path d="M110.3 765.3h4.2l-2.1-3.6z" fill="#e0791a"/>
<path d="M97.4 729.3h4.2l-2.1-3.6z" fill="#e0791a"/>
<path d="M124.0 763.4h4.2l-2.1-3.6z" fill="#e0791a"/>
<circle cx="106.2" cy="771.7" r="1.35" fill="#e0791a"/>
<path d="M105.9 775.5h4.2l-2.1-3.6z" fill="#e0791a"/>
<path d="M118.1 769.0h4.2l-2.1-3.6z" fill="#e6ab02"/>
<path d="M94.3 757.8h4.2l-2.1-3.6z" fill="#e0791a"/>
<path d="M99.0 760.8h4.2l-2.1-3.6z" fill="#e0791a"/>
<circle cx="111.7" cy="749.1" r="1.35" fill="#e0791a"/>
<circle cx="102.5" cy="765.3" r="1.35" fill="#e0791a"/>
<circle cx="137.6" cy="768.2" r="1.35" fill="#1b9e77"/>
<path d="M93.5 761.0h4.2l-2.1-3.6z" fill="#e6ab02"/>
<circle cx="104.2" cy="736.7" r="1.7" fill="none" stroke="#7bb02a" stroke-width="1.0"/>
<path d="M101.0 769.2h4.2l-2.1-3.6z" fill="#e0791a"/>
<circle cx="125.2" cy="773.7" r="1.35" fill="#e0791a"/>
<circle cx="95.1" cy="770.2" r="1.35" fill="#e0791a"/>
<circle cx="124.7" cy="774.6" r="1.35" fill="#e0791a"/>
<path d="M109.8 765.3h4.2l-2.1-3.6z" fill="#e0791a"/>
<circle cx="116.8" cy="758.9" r="1.35" fill="#a6761d"/>
<path d="M120.4 771.0h4.2l-2.1-3.6z" fill="#e6ab02"/>
<circle cx="122.1" cy="751.3" r="1.35" fill="#e0791a"/>
<path d="M97.5 761.9h4.2l-2.1-3.6z" fill="#e0791a"/>
<path d="M115.5 765.7h4.2l-2.1-3.6z" fill="#e0791a"/>
<circle cx="99.7" cy="751.3" r="1.35" fill="#7bb02a"/>
<path d="M111.3 763.9h4.2l-2.1-3.6z" fill="#e0791a"/>
<path d="M114.3 767.5h4.2l-2.1-3.6z" fill="#e0791a"/>
<path d="M95.3 765.9h4.2l-2.1-3.6z" fill="#e0791a"/>
<circle cx="127.2" cy="772.3" r="1.35" fill="#a6761d"/>
<path d="M103.1 774.4h4.2l-2.1-3.6z" fill="#e6ab02"/>
<path d="M103.8 772.2h4.2l-2.1-3.6z" fill="#e0791a"/>
<circle cx="110.5" cy="765.0" r="1.35" fill="#e0791a"/>
<path d="M107.4 771.7h4.2l-2.1-3.6z" fill="#e0791a"/>
<path d="M103.5 750.5h4.2l-2.1-3.6z" fill="#e0791a"/>
<path d="M107.2 768.4h4.2l-2.1-3.6z" fill="#e6ab02"/>
<circle cx="107.9" cy="765.4" r="1.35" fill="#e0791a"/>
<circle cx="109.0" cy="760.5" r="1.35" fill="#1b9e77"/>
<circle cx="129.4" cy="754.3" r="1.35" fill="#e0791a"/>
<circle cx="102.3" cy="735.2" r="1.35" fill="#a6761d"/>
<circle cx="107.7" cy="767.9" r="1.7" fill="none" stroke="#7bb02a" stroke-width="1.0"/>
<circle cx="116.3" cy="775.3" r="1.35" fill="#e0791a"/>
<path d="M100.9 765.4h4.2l-2.1-3.6z" fill="#e0791a"/>
<path d="M109.1 745.6h4.2l-2.1-3.6z" fill="#e0791a"/>
<path d="M117.8 771.9h4.2l-2.1-3.6z" fill="#e0791a"/>
<circle cx="129.1" cy="757.5" r="1.35" fill="#e6ab02"/>
<path d="M104.8 752.2h4.2l-2.1-3.6z" fill="#e0791a"/>
<path d="M94.0 765.7h4.2l-2.1-3.6z" fill="#e0791a"/>
<path d="M105.5 765.4h4.2l-2.1-3.6z" fill="#e0791a"/>
<circle cx="118.5" cy="772.1" r="1.35" fill="#e0791a"/>
<circle cx="108.1" cy="773.3" r="1.35" fill="#a6761d"/>
<path d="M110.5 737.5h4.2l-2.1-3.6z" fill="#e0791a"/>
<path d="M121.2 760.9h4.2l-2.1-3.6z" fill="#e0791a"/>
<path d="M148.7 762.1h4.2l-2.1-3.6z" fill="#e0791a"/>
<circle cx="101.1" cy="770.6" r="1.35" fill="#e0791a"/>
<circle cx="107.5" cy="753.6" r="1.35" fill="#a6761d"/>
<circle cx="111.0" cy="769.7" r="1.7" fill="none" stroke="#e5408f" stroke-width="1.0"/>
<path d="M103.6 772.6h4.2l-2.1-3.6z" fill="#e0791a"/>
<path d="M99.8 777.3h4.2l-2.1-3.6z" fill="#e0791a"/>
<circle cx="116.8" cy="767.5" r="1.35" fill="#e0791a"/>
<circle cx="97.7" cy="775.5" r="1.35" fill="#e6ab02"/>
<path d="M116.8 761.5h4.2l-2.1-3.6z" fill="#e0791a"/>
<path d="M101.0 775.8h4.2l-2.1-3.6z" fill="#e0791a"/>
<circle cx="96.4" cy="772.7" r="1.35" fill="#e0791a"/>
<circle cx="119.1" cy="754.6" r="1.35" fill="#e0791a"/>
<circle cx="113.5" cy="755.5" r="1.7" fill="none" stroke="#e5408f" stroke-width="1.0"/>
<circle cx="100.5" cy="774.0" r="1.35" fill="#e0791a"/>
<path d="M103.2 727.7h4.2l-2.1-3.6z" fill="#e0791a"/>
<circle cx="110.1" cy="776.1" r="1.7" fill="none" stroke="#8680cc" stroke-width="1.0"/>
<path d="M105.4 769.3h4.2l-2.1-3.6z" fill="#e0791a"/>
<path d="M98.5 775.3h4.2l-2.1-3.6z" fill="#e0791a"/>
<path d="M127.6 777.5h4.2l-2.1-3.6z" fill="#e0791a"/>
<path d="M116.9 758.4h4.2l-2.1-3.6z" fill="#e0791a"/>
<path d="M108.0 763.1h4.2l-2.1-3.6z" fill="#e0791a"/>
<path d="M103.9 759.3h4.2l-2.1-3.6z" fill="#e6ab02"/>
<circle cx="111.2" cy="776.5" r="1.35" fill="#a6761d"/>
<path d="M102.3 755.9h4.2l-2.1-3.6z" fill="#e0791a"/>
<path d="M110.8 769.1h4.2l-2.1-3.6z" fill="#e0791a"/>
<path d="M115.4 761.4h4.2l-2.1-3.6z" fill="#e0791a"/>
<path d="M113.9 773.0h4.2l-2.1-3.6z" fill="#e0791a"/>
<circle cx="99.2" cy="773.1" r="1.35" fill="#e0791a"/>
<circle cx="100.4" cy="756.7" r="1.35" fill="#e0791a"/>
<circle cx="96.4" cy="757.7" r="1.35" fill="#e0791a"/>
<path d="M95.7 759.1h4.2l-2.1-3.6z" fill="#e0791a"/>
<path d="M104.3 739.8h4.2l-2.1-3.6z" fill="#e0791a"/>
<circle cx="111.8" cy="763.2" r="1.35" fill="#7bb02a"/>
<circle cx="95.5" cy="771.8" r="1.7" fill="none" stroke="#7bb02a" stroke-width="1.0"/>
<path d="M99.0 765.6h4.2l-2.1-3.6z" fill="#e0791a"/>
<circle cx="104.4" cy="762.2" r="1.35" fill="#e0791a"/>
<path d="M95.3 777.5h4.2l-2.1-3.6z" fill="#e5408f"/>
<path d="M110.6 772.1h4.2l-2.1-3.6z" fill="#e0791a"/>
<circle cx="143.5" cy="762.1" r="1.35" fill="#7bb02a"/>
<path d="M115.5 777.2h4.2l-2.1-3.6z" fill="#e0791a"/>
<circle cx="107.7" cy="757.6" r="1.35" fill="#a6761d"/>
<circle cx="101.6" cy="744.5" r="1.35" fill="#e6ab02"/>
<circle cx="130.2" cy="776.1" r="1.7" fill="none" stroke="#e5408f" stroke-width="1.0"/>
<circle cx="107.3" cy="758.1" r="1.35" fill="#e0791a"/>
<path d="M118.9 749.2h4.2l-2.1-3.6z" fill="#e0791a"/>
<path d="M99.0 774.5h4.2l-2.1-3.6z" fill="#e0791a"/>
<circle cx="100.4" cy="769.4" r="1.35" fill="#a6761d"/>
<circle cx="99.9" cy="736.7" r="1.35" fill="#e0791a"/>
<circle cx="109.4" cy="772.2" r="1.7" fill="none" stroke="#7bb02a" stroke-width="1.0"/>
<circle cx="122.1" cy="760.6" r="1.35" fill="#e0791a"/>
<circle cx="108.9" cy="750.8" r="1.35" fill="#a6761d"/>
<circle cx="138.9" cy="765.4" r="1.7" fill="none" stroke="#e5408f" stroke-width="1.0"/>
<circle cx="106.8" cy="740.9" r="1.35" fill="#e5408f"/>
<path d="M102.4 760.9h4.4M104.6 758.7v4.4" stroke="#1b9e77" stroke-width="1.1"/>
<path d="M105.6 761.0h4.4M107.8 758.8v4.4" stroke="#1b9e77" stroke-width="1.1"/>
<circle cx="120.7" cy="756.8" r="1.35" fill="#a6761d"/>
<path d="M100.1 758.1h4.2l-2.1-3.6z" fill="#e0791a"/>
<circle cx="107.0" cy="744.7" r="1.35" fill="#a6761d"/>
<path d="M101.6 757.4h4.2l-2.1-3.6z" fill="#e6ab02"/>
<path d="M122.4 767.1h4.2l-2.1-3.6z" fill="#e0791a"/>
<path d="M96.6 758.4h4.2l-2.1-3.6z" fill="#e0791a"/>
<circle cx="107.5" cy="767.5" r="1.7" fill="none" stroke="#e5408f" stroke-width="1.0"/>
<circle cx="102.7" cy="768.6" r="1.7" fill="none" stroke="#8680cc" stroke-width="1.0"/>
<path d="M124.6 769.0h4.2l-2.1-3.6z" fill="#e0791a"/>
<circle cx="103.1" cy="771.5" r="1.35" fill="#e0791a"/>
<path d="M117.1 764.1h4.2l-2.1-3.6z" fill="#e6ab02"/>
<path d="M94.9 758.4h4.2l-2.1-3.6z" fill="#e6ab02"/>
<circle cx="110.0" cy="773.1" r="1.35" fill="#e0791a"/>
<circle cx="100.7" cy="763.3" r="1.35" fill="#e0791a"/>
<circle cx="111.2" cy="769.8" r="1.35" fill="#e0791a"/>
<circle cx="108.0" cy="773.4" r="1.35" fill="#a6761d"/>
<path d="M111.4 762.7h4.2l-2.1-3.6z" fill="#e0791a"/>
<circle cx="107.8" cy="765.4" r="1.35" fill="#e0791a"/>
<path d="M107.7 755.7h4.2l-2.1-3.6z" fill="#e0791a"/>
<circle cx="119.9" cy="763.8" r="1.35" fill="#e6ab02"/>
<path d="M113.2 776.1h4.2l-2.1-3.6z" fill="#e0791a"/>
<circle cx="98.2" cy="765.6" r="1.35" fill="#e6ab02"/>
<circle cx="121.2" cy="772.8" r="1.35" fill="#a6761d"/>
<path d="M97.8 748.1h4.2l-2.1-3.6z" fill="#e0791a"/>
<path d="M106.5 775.0h4.2l-2.1-3.6z" fill="#e0791a"/>
<circle cx="111.0" cy="764.6" r="1.35" fill="#e0791a"/>
<circle cx="98.2" cy="760.2" r="1.35" fill="#7bb02a"/>
<path d="M119.3 756.1h4.2l-2.1-3.6z" fill="#e6ab02"/>
<path d="M105.4 768.2h4.2l-2.1-3.6z" fill="#e0791a"/>
<path d="M100.8 747.7h4.2l-2.1-3.6z" fill="#e0791a"/>
<circle cx="101.0" cy="770.9" r="1.35" fill="#e5408f"/>
<circle cx="99.7" cy="762.3" r="1.7" fill="none" stroke="#8680cc" stroke-width="1.0"/>
<path d="M110.8 761.3h4.2l-2.1-3.6z" fill="#e6ab02"/>
<circle cx="117.3" cy="770.5" r="1.35" fill="#e0791a"/>
<path d="M110.0 752.9h4.2l-2.1-3.6z" fill="#e6ab02"/>
<circle cx="139.6" cy="763.9" r="1.35" fill="#1b9e77"/>
<path d="M115.4 743.5h4.2l-2.1-3.6z" fill="#1b9e77"/>
<circle cx="136.0" cy="736.1" r="1.35" fill="#a6761d"/>
<circle cx="113.3" cy="768.9" r="1.35" fill="#e0791a"/>
<circle cx="120.0" cy="759.8" r="1.35" fill="#a6761d"/>
<circle cx="105.3" cy="764.5" r="1.35" fill="#e6ab02"/>
<path d="M113.6 759.5h4.2l-2.1-3.6z" fill="#e0791a"/>
<path d="M99.5 770.3h4.2l-2.1-3.6z" fill="#1b9e77"/>
<circle cx="97.3" cy="765.3" r="1.7" fill="none" stroke="#8680cc" stroke-width="1.0"/>
<circle cx="108.5" cy="770.2" r="1.35" fill="#1b9e77"/>
<path d="M105.0 756.4h4.2l-2.1-3.6z" fill="#e6ab02"/>
<path d="M105.3 742.0h4.2l-2.1-3.6z" fill="#e0791a"/>
<path d="M135.7 776.7h4.2l-2.1-3.6z" fill="#e0791a"/>
<circle cx="120.4" cy="752.0" r="1.35" fill="#e0791a"/>
<path d="M131.4 754.8h4.2l-2.1-3.6z" fill="#e0791a"/>
<circle cx="123.0" cy="766.8" r="1.35" fill="#a6761d"/>
<path d="M94.7 750.5h4.2l-2.1-3.6z" fill="#e0791a"/>
<circle cx="126.3" cy="746.4" r="1.35" fill="#e0791a"/>
<path d="M111.6 749.0h4.2l-2.1-3.6z" fill="#e0791a"/>
<path d="M136.7 746.8h4.2l-2.1-3.6z" fill="#e6ab02"/>
<path d="M99.5 765.8h4.2l-2.1-3.6z" fill="#e0791a"/>
<path d="M100.1 773.6h4.2l-2.1-3.6z" fill="#e6ab02"/>
<circle cx="117.6" cy="755.4" r="1.35" fill="#e0791a"/>
<path d="M109.8 770.9h4.2l-2.1-3.6z" fill="#e0791a"/>
<circle cx="107.0" cy="770.0" r="1.35" fill="#7bb02a"/>
<path d="M93.3 771.9h4.2l-2.1-3.6z" fill="#e0791a"/>
<path d="M93.0 760.7h4.2l-2.1-3.6z" fill="#e0791a"/>
<path d="M103.5 764.2h4.2l-2.1-3.6z" fill="#e0791a"/>
<circle cx="107.8" cy="770.8" r="1.7" fill="none" stroke="#7bb02a" stroke-width="1.0"/>
<path d="M116.4 749.2h4.2l-2.1-3.6z" fill="#e0791a"/>
<circle cx="102.3" cy="759.9" r="1.35" fill="#e0791a"/>
<circle cx="107.0" cy="768.5" r="1.35" fill="#a6761d"/>
<path d="M95.5 778.0h4.2l-2.1-3.6z" fill="#e0791a"/>
<circle cx="110.1" cy="759.8" r="1.35" fill="#a6761d"/>
<circle cx="122.4" cy="746.5" r="1.35" fill="#e0791a"/>
<circle cx="102.4" cy="724.5" r="1.7" fill="none" stroke="#8680cc" stroke-width="1.0"/>
<circle cx="117.5" cy="774.8" r="1.35" fill="#e0791a"/>
<circle cx="145.0" cy="758.2" r="1.7" fill="none" stroke="#7bb02a" stroke-width="1.0"/>
<circle cx="101.9" cy="756.4" r="1.35" fill="#e0791a"/>
<circle cx="121.2" cy="769.8" r="1.35" fill="#e0791a"/>
<circle cx="96.9" cy="749.4" r="1.35" fill="#1b9e77"/>
<circle cx="96.2" cy="757.9" r="1.35" fill="#1b9e77"/>
<circle cx="122.5" cy="770.5" r="1.35" fill="#e0791a"/>
<path d="M110.0 778.0h4.2l-2.1-3.6z" fill="#e0791a"/>
<path d="M98.4 773.3h4.2l-2.1-3.6z" fill="#e0791a"/>
<path d="M111.4 764.3h4.2l-2.1-3.6z" fill="#e0791a"/>
<circle cx="108.5" cy="758.8" r="1.35" fill="#e0791a"/>
<path d="M101.4 772.8h4.2l-2.1-3.6z" fill="#e0791a"/>
<path d="M116.0 776.7h4.2l-2.1-3.6z" fill="#e0791a"/>
<circle cx="103.6" cy="770.1" r="1.35" fill="#1b9e77"/>
<circle cx="94.9" cy="769.6" r="1.35" fill="#e0791a"/>
<circle cx="119.2" cy="761.9" r="1.35" fill="#e0791a"/>
<path d="M120.3 774.3h4.2l-2.1-3.6z" fill="#e0791a"/>
<path d="M107.8 773.1h4.2l-2.1-3.6z" fill="#e0791a"/>
<circle cx="100.4" cy="765.7" r="1.35" fill="#e0791a"/>
<circle cx="104.4" cy="749.8" r="1.35" fill="#e0791a"/>
<path d="M104.5 736.1h4.2l-2.1-3.6z" fill="#e0791a"/>
<circle cx="127.3" cy="775.3" r="1.35" fill="#a6761d"/>
<path d="M101.0 770.0h4.2l-2.1-3.6z" fill="#e0791a"/>
<circle cx="112.8" cy="734.1" r="1.35" fill="#e0791a"/>
<circle cx="126.9" cy="750.0" r="1.35" fill="#e0791a"/>
<path d="M139.7 765.7h4.2l-2.1-3.6z" fill="#e0791a"/>
<circle cx="118.7" cy="763.1" r="1.35" fill="#e0791a"/>
<path d="M105.9 765.8h4.2l-2.1-3.6z" fill="#e0791a"/>
<circle cx="115.0" cy="763.4" r="1.35" fill="#e0791a"/>
<circle cx="122.0" cy="762.2" r="1.35" fill="#e0791a"/>
<circle cx="98.8" cy="754.0" r="1.7" fill="none" stroke="#e5408f" stroke-width="1.0"/>
<path d="M132.1 774.8h4.2l-2.1-3.6z" fill="#e5408f"/>
<path d="M93.8 757.6h4.2l-2.1-3.6z" fill="#e0791a"/>
<path d="M137.1 753.3h4.4M139.3 751.1v4.4" stroke="#1b9e77" stroke-width="1.1"/>
<circle cx="104.9" cy="773.7" r="1.35" fill="#e6ab02"/>
<path d="M115.1 758.5h4.2l-2.1-3.6z" fill="#e6ab02"/>
<path d="M93.9 761.2h4.2l-2.1-3.6z" fill="#e0791a"/>
<path d="M121.1 766.9h4.2l-2.1-3.6z" fill="#e0791a"/>
<circle cx="105.2" cy="746.1" r="1.35" fill="#e5408f"/>
<circle cx="96.8" cy="756.6" r="1.35" fill="#7bb02a"/>
<path d="M123.7 767.6h4.2l-2.1-3.6z" fill="#e0791a"/>
<circle cx="114.1" cy="756.3" r="1.35" fill="#e0791a"/>
<circle cx="136.0" cy="769.3" r="1.35" fill="#e0791a"/>
<circle cx="127.6" cy="757.5" r="1.35" fill="#a6761d"/>
<path d="M108.8 759.9h4.2l-2.1-3.6z" fill="#e0791a"/>
<circle cx="101.0" cy="767.0" r="1.35" fill="#e0791a"/>
<path d="M117.1 773.1h4.2l-2.1-3.6z" fill="#e0791a"/>
<circle cx="95.4" cy="771.2" r="1.7" fill="none" stroke="#7bb02a" stroke-width="1.0"/>
<path d="M97.7 748.3h4.2l-2.1-3.6z" fill="#e0791a"/>
<path d="M115.6 760.0h4.2l-2.1-3.6z" fill="#e0791a"/>
<path d="M97.7 774.0h4.2l-2.1-3.6z" fill="#e0791a"/>
<circle cx="136.1" cy="772.0" r="1.35" fill="#e6ab02"/>
<path d="M93.5 775.0h4.2l-2.1-3.6z" fill="#e0791a"/>
<path d="M114.3 751.3h4.4M116.5 749.1v4.4" stroke="#1b9e77" stroke-width="1.1"/>
<circle cx="107.1" cy="774.4" r="1.35" fill="#1b9e77"/>
<path d="M98.7 773.4h4.2l-2.1-3.6z" fill="#e0791a"/>
<circle cx="116.7" cy="751.4" r="1.35" fill="#e0791a"/>
<path d="M104.5 738.1h4.2l-2.1-3.6z" fill="#e0791a"/>
<circle cx="100.6" cy="770.1" r="1.7" fill="none" stroke="#e5408f" stroke-width="1.0"/>
<path d="M108.1 757.5h4.2l-2.1-3.6z" fill="#1b9e77"/>
<path d="M107.4 772.1h4.2l-2.1-3.6z" fill="#e0791a"/>
<path d="M103.4 746.7h4.2l-2.1-3.6z" fill="#e0791a"/>
<path d="M93.6 770.8h4.2l-2.1-3.6z" fill="#e0791a"/>
<path d="M119.6 741.7h4.2l-2.1-3.6z" fill="#e0791a"/>
<path d="M116.1 768.8h4.2l-2.1-3.6z" fill="#e0791a"/>
<circle cx="105.9" cy="752.0" r="1.7" fill="none" stroke="#8680cc" stroke-width="1.0"/>
<path d="M113.9 775.3h4.4M116.1 773.1v4.4" stroke="#1b9e77" stroke-width="1.1"/>
<circle cx="99.6" cy="776.4" r="1.7" fill="none" stroke="#8680cc" stroke-width="1.0"/>
<circle cx="99.5" cy="771.0" r="1.35" fill="#1b9e77"/>
<path d="M93.1 770.4h4.2l-2.1-3.6z" fill="#e0791a"/>
<circle cx="116.0" cy="723.6" r="1.7" fill="none" stroke="#7bb02a" stroke-width="1.0"/>
<path d="M96.6 755.2h4.2l-2.1-3.6z" fill="#e0791a"/>
<path d="M93.7 768.6h4.2l-2.1-3.6z" fill="#1b9e77"/>
<path d="M115.7 771.2h4.2l-2.1-3.6z" fill="#e5408f"/>
<path d="M123.1 763.7h4.2l-2.1-3.6z" fill="#e0791a"/>
<path d="M127.6 766.9h4.2l-2.1-3.6z" fill="#e0791a"/>
<path d="M106.3 766.9h4.2l-2.1-3.6z" fill="#e0791a"/>
<circle cx="138.0" cy="747.1" r="1.35" fill="#1b9e77"/>
<path d="M104.2 774.6h4.2l-2.1-3.6z" fill="#e0791a"/>
<circle cx="125.8" cy="735.6" r="1.35" fill="#e0791a"/>
<path d="M113.8 767.5h4.2l-2.1-3.6z" fill="#e0791a"/>
<circle cx="106.8" cy="771.7" r="1.35" fill="#e0791a"/>
<path d="M126.7 744.9h4.2l-2.1-3.6z" fill="#e0791a"/>
<circle cx="101.3" cy="764.1" r="1.35" fill="#e0791a"/>
<circle cx="108.5" cy="724.2" r="1.35" fill="#e0791a"/>
<circle cx="96.2" cy="765.3" r="1.35" fill="#e5408f"/>
<path d="M122.0 745.6h4.2l-2.1-3.6z" fill="#e0791a"/>
<path d="M97.5 770.3h4.2l-2.1-3.6z" fill="#e0791a"/>
<path d="M131.9 763.3h4.2l-2.1-3.6z" fill="#e5408f"/>
<circle cx="98.0" cy="761.8" r="1.35" fill="#e0791a"/>
<circle cx="97.1" cy="738.7" r="1.35" fill="#e0791a"/>
<circle cx="133.2" cy="757.4" r="1.35" fill="#e0791a"/>
<path d="M128.8 771.3h4.2l-2.1-3.6z" fill="#e0791a"/>
<path d="M137.3 734.4h4.2l-2.1-3.6z" fill="#e0791a"/>
<circle cx="114.2" cy="761.8" r="1.35" fill="#e0791a"/>
<circle cx="97.5" cy="776.5" r="1.35" fill="#e0791a"/>
<circle cx="101.8" cy="771.2" r="1.35" fill="#e0791a"/>
<circle cx="114.3" cy="763.2" r="1.35" fill="#e0791a"/>
<path d="M132.3 757.7h4.2l-2.1-3.6z" fill="#e0791a"/>
<path d="M95.9 773.7h4.2l-2.1-3.6z" fill="#e0791a"/>
<path d="M100.6 777.1h4.2l-2.1-3.6z" fill="#e5408f"/>
<path d="M101.7 766.8h4.2l-2.1-3.6z" fill="#e0791a"/>
<path d="M110.9 735.6h4.2l-2.1-3.6z" fill="#e0791a"/>
<circle cx="121.7" cy="766.3" r="1.35" fill="#7bb02a"/>
<circle cx="98.6" cy="776.4" r="1.35" fill="#e0791a"/>
<path d="M98.1 769.3h4.2l-2.1-3.6z" fill="#e0791a"/>
<path d="M109.7 760.7h4.2l-2.1-3.6z" fill="#e6ab02"/>
<circle cx="128.1" cy="774.1" r="1.35" fill="#1b9e77"/>
<path d="M99.7 775.5h4.2l-2.1-3.6z" fill="#e0791a"/>
<path d="M110.5 772.3h4.2l-2.1-3.6z" fill="#e0791a"/>
<circle cx="114.8" cy="762.8" r="1.35" fill="#e0791a"/>
<circle cx="101.4" cy="759.1" r="1.35" fill="#e0791a"/>
<path d="M101.0 764.5h4.2l-2.1-3.6z" fill="#e6ab02"/>
<circle cx="94.9" cy="736.9" r="1.35" fill="#a6761d"/>
<circle cx="103.8" cy="754.8" r="1.35" fill="#a6761d"/>
<circle cx="120.7" cy="769.2" r="1.7" fill="none" stroke="#7bb02a" stroke-width="1.0"/>
<path d="M94.8 750.2h4.2l-2.1-3.6z" fill="#e0791a"/>
<circle cx="97.7" cy="771.2" r="1.35" fill="#e0791a"/>
<path d="M113.9 771.5h4.2l-2.1-3.6z" fill="#e0791a"/>
<path d="M109.1 766.5h4.2l-2.1-3.6z" fill="#e0791a"/>
<circle cx="102.9" cy="766.4" r="1.35" fill="#e0791a"/>
<circle cx="102.2" cy="755.0" r="1.35" fill="#e0791a"/>
<circle cx="98.7" cy="756.3" r="1.35" fill="#e0791a"/>
<circle cx="105.3" cy="765.0" r="1.35" fill="#e0791a"/>
<path d="M129.4 771.7h4.2l-2.1-3.6z" fill="#e0791a"/>
<circle cx="105.7" cy="767.5" r="1.35" fill="#7bb02a"/>
<circle cx="96.1" cy="768.5" r="1.35" fill="#7bb02a"/>
<circle cx="95.6" cy="770.7" r="1.7" fill="none" stroke="#7bb02a" stroke-width="1.0"/>
<path d="M106.8 774.4h4.2l-2.1-3.6z" fill="#e0791a"/>
<path d="M101.9 716.2h4.2l-2.1-3.6z" fill="#e0791a"/>
<path d="M108.5 747.4h4.2l-2.1-3.6z" fill="#e0791a"/>
<circle cx="139.2" cy="773.0" r="1.7" fill="none" stroke="#8680cc" stroke-width="1.0"/>
<circle cx="102.8" cy="755.3" r="1.35" fill="#e0791a"/>
<circle cx="102.4" cy="757.4" r="1.35" fill="#e6ab02"/>
<path d="M119.6 777.3h4.2l-2.1-3.6z" fill="#e0791a"/>
<circle cx="104.4" cy="742.4" r="1.35" fill="#e6ab02"/>
<path d="M107.4 775.1h4.2l-2.1-3.6z" fill="#e6ab02"/>
<circle cx="97.4" cy="744.2" r="1.35" fill="#e0791a"/>
<path d="M96.4 759.9h4.2l-2.1-3.6z" fill="#e0791a"/>
<circle cx="107.6" cy="766.3" r="1.35" fill="#e6ab02"/>
<circle cx="100.2" cy="753.2" r="1.35" fill="#e0791a"/>
<path d="M120.3 745.9h4.2l-2.1-3.6z" fill="#e0791a"/>
<circle cx="102.2" cy="759.2" r="1.7" fill="none" stroke="#7bb02a" stroke-width="1.0"/>
<circle cx="131.7" cy="774.9" r="1.35" fill="#e0791a"/>
<path d="M121.1 774.5h4.4M123.3 772.3v4.4" stroke="#1b9e77" stroke-width="1.1"/>
<path d="M125.6 746.5h4.2l-2.1-3.6z" fill="#e0791a"/>
<path d="M103.3 740.7h4.2l-2.1-3.6z" fill="#e6ab02"/>
<circle cx="103.0" cy="758.3" r="1.35" fill="#e6ab02"/>
<circle cx="110.5" cy="765.0" r="1.7" fill="none" stroke="#e5408f" stroke-width="1.0"/>
<circle cx="110.4" cy="741.1" r="1.35" fill="#7bb02a"/>
<path d="M93.7 768.6h4.2l-2.1-3.6z" fill="#e0791a"/>
<path d="M94.5 774.2h4.2l-2.1-3.6z" fill="#e0791a"/>
<path d="M103.1 770.2h4.2l-2.1-3.6z" fill="#e0791a"/>
<circle cx="96.9" cy="759.4" r="1.35" fill="#7bb02a"/>
<path d="M102.3 771.7h4.2l-2.1-3.6z" fill="#e0791a"/>
<circle cx="112.7" cy="757.8" r="1.7" fill="none" stroke="#7bb02a" stroke-width="1.0"/>
<path d="M98.1 768.6h4.2l-2.1-3.6z" fill="#e0791a"/>
<circle cx="97.2" cy="746.7" r="1.35" fill="#e0791a"/>
<circle cx="97.9" cy="765.1" r="1.35" fill="#a6761d"/>
<path d="M94.5 771.1h4.2l-2.1-3.6z" fill="#e6ab02"/>
<path d="M98.3 755.9h4.2l-2.1-3.6z" fill="#e0791a"/>
<circle cx="101.9" cy="752.5" r="1.7" fill="none" stroke="#8680cc" stroke-width="1.0"/>
<circle cx="104.9" cy="774.0" r="1.35" fill="#e0791a"/>
<circle cx="114.0" cy="749.1" r="1.35" fill="#e5408f"/>
<path d="M101.2 776.6h4.2l-2.1-3.6z" fill="#e0791a"/>
<path d="M113.4 747.4h4.2l-2.1-3.6z" fill="#e0791a"/>
<path d="M99.7 756.4h4.2l-2.1-3.6z" fill="#e0791a"/>
<circle cx="98.5" cy="765.6" r="1.35" fill="#7bb02a"/>
<circle cx="102.1" cy="766.0" r="1.35" fill="#a6761d"/>
<path d="M103.1 769.7h4.4M105.3 767.5v4.4" stroke="#1b9e77" stroke-width="1.1"/>
<path d="M101.1 770.9h4.2l-2.1-3.6z" fill="#e0791a"/>
<circle cx="108.0" cy="764.2" r="1.35" fill="#e6ab02"/>
<path d="M102.0 766.6h4.2l-2.1-3.6z" fill="#1b9e77"/>
<path d="M107.6 776.1h4.4M109.8 773.9v4.4" stroke="#1b9e77" stroke-width="1.1"/>
<circle cx="96.2" cy="776.0" r="1.35" fill="#e6ab02"/>
<circle cx="103.9" cy="768.3" r="1.7" fill="none" stroke="#7bb02a" stroke-width="1.0"/>
<path d="M130.0 760.9h4.2l-2.1-3.6z" fill="#e0791a"/>
<path d="M100.8 731.9h4.2l-2.1-3.6z" fill="#e0791a"/>
<path d="M113.0 773.0h4.2l-2.1-3.6z" fill="#e0791a"/>
<path d="M108.5 775.5h4.2l-2.1-3.6z" fill="#e0791a"/>
<circle cx="115.2" cy="761.0" r="1.35" fill="#e0791a"/>
<circle cx="117.3" cy="774.6" r="1.7" fill="none" stroke="#8680cc" stroke-width="1.0"/>
<circle cx="108.4" cy="742.9" r="1.35" fill="#e0791a"/>
<circle cx="96.1" cy="754.7" r="1.35" fill="#e0791a"/>
<path d="M108.0 759.5h4.2l-2.1-3.6z" fill="#e0791a"/>
<path d="M98.4 777.6h4.2l-2.1-3.6z" fill="#e0791a"/>
<circle cx="127.0" cy="746.3" r="1.35" fill="#1b9e77"/>
<circle cx="105.0" cy="776.6" r="1.35" fill="#e6ab02"/>
<circle cx="117.4" cy="765.4" r="1.35" fill="#a6761d"/>
<circle cx="106.5" cy="775.2" r="1.35" fill="#a6761d"/>
<path d="M101.5 766.4h4.2l-2.1-3.6z" fill="#e0791a"/>
<circle cx="111.1" cy="755.6" r="1.7" fill="none" stroke="#8680cc" stroke-width="1.0"/>
<path d="M108.9 741.4h4.2l-2.1-3.6z" fill="#e6ab02"/>
<circle cx="101.8" cy="749.9" r="1.35" fill="#1b9e77"/>
<circle cx="120.4" cy="775.3" r="1.7" fill="none" stroke="#7bb02a" stroke-width="1.0"/>
<circle cx="106.4" cy="763.1" r="1.35" fill="#1b9e77"/>
<circle cx="110.4" cy="758.7" r="1.35" fill="#7bb02a"/>
<path d="M103.6 768.1h4.2l-2.1-3.6z" fill="#e0791a"/>
<path d="M99.5 756.9h4.2l-2.1-3.6z" fill="#e5408f"/>
<circle cx="132.3" cy="756.7" r="1.35" fill="#1b9e77"/>
<circle cx="97.5" cy="767.1" r="1.35" fill="#e0791a"/>
<path d="M94.2 760.8h4.2l-2.1-3.6z" fill="#e0791a"/>
<path d="M134.3 770.8h4.2l-2.1-3.6z" fill="#e0791a"/>
<circle cx="103.6" cy="744.2" r="1.35" fill="#e6ab02"/>
<circle cx="97.2" cy="763.3" r="1.35" fill="#e0791a"/>
<circle cx="106.7" cy="755.5" r="1.7" fill="none" stroke="#e5408f" stroke-width="1.0"/>
<path d="M94.8 771.5h4.2l-2.1-3.6z" fill="#e0791a"/>
<path d="M107.7 758.2h4.2l-2.1-3.6z" fill="#e0791a"/>
<path d="M133.7 775.7h4.2l-2.1-3.6z" fill="#e0791a"/>
<path d="M101.5 769.6h4.2l-2.1-3.6z" fill="#e0791a"/>
<path d="M103.2 757.1h4.2l-2.1-3.6z" fill="#e0791a"/>
<path d="M115.2 773.2h4.2l-2.1-3.6z" fill="#e0791a"/>
<path d="M106.3 766.3h4.2l-2.1-3.6z" fill="#e6ab02"/>
<path d="M117.5 744.8h4.2l-2.1-3.6z" fill="#e0791a"/>
<path d="M104.5 776.3h4.2l-2.1-3.6z" fill="#e0791a"/>
<circle cx="116.8" cy="773.5" r="1.7" fill="none" stroke="#7bb02a" stroke-width="1.0"/>
<circle cx="113.7" cy="723.7" r="1.35" fill="#e6ab02"/>
<path d="M101.7 776.9h4.2l-2.1-3.6z" fill="#e0791a"/>
<path d="M101.8 771.9h4.2l-2.1-3.6z" fill="#e0791a"/>
<path d="M109.7 777.3h4.2l-2.1-3.6z" fill="#e0791a"/>
<path d="M107.0 771.8h4.2l-2.1-3.6z" fill="#e0791a"/>
<path d="M101.1 767.3h4.2l-2.1-3.6z" fill="#e6ab02"/>
<path d="M116.0 760.6h4.2l-2.1-3.6z" fill="#e0791a"/>
<circle cx="103.4" cy="727.1" r="1.7" fill="none" stroke="#8680cc" stroke-width="1.0"/>
<circle cx="101.3" cy="765.9" r="1.35" fill="#e0791a"/>
<path d="M99.2 772.2h4.2l-2.1-3.6z" fill="#e0791a"/>
<circle cx="111.4" cy="773.7" r="1.35" fill="#e0791a"/>
<path d="M99.5 764.8h4.2l-2.1-3.6z" fill="#e0791a"/>
<path d="M138.8 768.3h4.4M141.0 766.1v4.4" stroke="#1b9e77" stroke-width="1.1"/>
<circle cx="128.8" cy="754.4" r="1.35" fill="#e6ab02"/>
<circle cx="126.4" cy="765.6" r="1.35" fill="#e5408f"/>
<path d="M97.0 771.7h4.2l-2.1-3.6z" fill="#e0791a"/>
<path d="M100.3 776.6h4.2l-2.1-3.6z" fill="#e6ab02"/>
<path d="M107.9 761.8h4.2l-2.1-3.6z" fill="#e0791a"/>
<circle cx="136.0" cy="776.3" r="1.7" fill="none" stroke="#8680cc" stroke-width="1.0"/>
<path d="M118.3 744.7h4.2l-2.1-3.6z" fill="#e0791a"/>
<path d="M115.0 762.2h4.2l-2.1-3.6z" fill="#e0791a"/>
<path d="M104.3 776.0h4.4M106.5 773.8v4.4" stroke="#1b9e77" stroke-width="1.1"/>
<circle cx="133.1" cy="757.1" r="1.35" fill="#a6761d"/>
<circle cx="111.6" cy="756.2" r="1.35" fill="#e0791a"/>
<path d="M118.1 768.3h4.2l-2.1-3.6z" fill="#e0791a"/>
<circle cx="97.1" cy="764.6" r="1.35" fill="#e0791a"/>
<circle cx="124.6" cy="775.8" r="1.35" fill="#e0791a"/>
<path d="M120.0 752.7h4.2l-2.1-3.6z" fill="#e0791a"/>
<circle cx="97.6" cy="762.1" r="1.35" fill="#1b9e77"/>
<path d="M102.8 763.5h4.2l-2.1-3.6z" fill="#e0791a"/>
<path d="M114.6 765.9h4.2l-2.1-3.6z" fill="#e0791a"/>
<path d="M109.4 775.1h4.2l-2.1-3.6z" fill="#e0791a"/>
<circle cx="106.5" cy="766.6" r="1.7" fill="none" stroke="#7bb02a" stroke-width="1.0"/>
<circle cx="102.0" cy="737.4" r="1.35" fill="#e0791a"/>
<circle cx="119.1" cy="741.4" r="1.35" fill="#1b9e77"/>
<circle cx="104.5" cy="768.7" r="1.7" fill="none" stroke="#7bb02a" stroke-width="1.0"/>
<circle cx="112.3" cy="761.2" r="1.35" fill="#e0791a"/>
<circle cx="112.0" cy="759.3" r="1.35" fill="#e0791a"/>
<path d="M106.2 766.4h4.2l-2.1-3.6z" fill="#e0791a"/>
<circle cx="106.5" cy="765.7" r="1.7" fill="none" stroke="#8680cc" stroke-width="1.0"/>
<circle cx="104.4" cy="750.7" r="1.35" fill="#e6ab02"/>
<path d="M104.7 752.7h4.2l-2.1-3.6z" fill="#e0791a"/>
<path d="M106.4 776.4h4.2l-2.1-3.6z" fill="#e0791a"/>
<path d="M107.2 777.9h4.2l-2.1-3.6z" fill="#e0791a"/>
<path d="M134.6 775.8h4.2l-2.1-3.6z" fill="#e0791a"/>
<path d="M97.4 737.7h4.2l-2.1-3.6z" fill="#e0791a"/>
<path d="M103.3 763.1h4.2l-2.1-3.6z" fill="#e0791a"/>
<path d="M94.0 765.6h4.2l-2.1-3.6z" fill="#e0791a"/>
<circle cx="115.1" cy="754.4" r="1.35" fill="#e0791a"/>
<circle cx="127.3" cy="769.2" r="1.35" fill="#e0791a"/>
<circle cx="98.8" cy="721.2" r="1.35" fill="#e0791a"/>
<path d="M95.9 767.5h4.2l-2.1-3.6z" fill="#e6ab02"/>
<path d="M98.9 777.2h4.2l-2.1-3.6z" fill="#e6ab02"/>
<path d="M115.2 777.8h4.2l-2.1-3.6z" fill="#e6ab02"/>
<circle cx="101.7" cy="775.7" r="1.35" fill="#e0791a"/>
<circle cx="118.4" cy="737.9" r="1.35" fill="#e6ab02"/>
<path d="M99.3 755.8h4.2l-2.1-3.6z" fill="#e0791a"/>
<circle cx="97.5" cy="755.7" r="1.7" fill="none" stroke="#8680cc" stroke-width="1.0"/>
<circle cx="120.5" cy="768.1" r="1.35" fill="#e0791a"/>
<path d="M107.1 769.4h4.2l-2.1-3.6z" fill="#e6ab02"/>
<circle cx="111.0" cy="766.5" r="1.35" fill="#e0791a"/>
<circle cx="115.5" cy="758.3" r="1.35" fill="#e0791a"/>
<path d="M96.4 777.6h4.2l-2.1-3.6z" fill="#e0791a"/>
<circle cx="102.2" cy="771.7" r="1.35" fill="#1b9e77"/>
<circle cx="103.2" cy="761.7" r="1.35" fill="#a6761d"/>
<circle cx="111.2" cy="770.8" r="1.35" fill="#e0791a"/>
<circle cx="99.3" cy="734.3" r="1.35" fill="#e0791a"/>
<path d="M105.4 758.0h4.2l-2.1-3.6z" fill="#e0791a"/>
<path d="M138.6 760.0h4.4M140.8 757.8v4.4" stroke="#1b9e77" stroke-width="1.1"/>
<path d="M96.1 740.7h4.2l-2.1-3.6z" fill="#e0791a"/>
<circle cx="127.5" cy="776.6" r="1.35" fill="#7bb02a"/>
<circle cx="96.9" cy="770.5" r="1.35" fill="#e0791a"/>
<circle cx="114.8" cy="763.4" r="1.7" fill="none" stroke="#e5408f" stroke-width="1.0"/>
<circle cx="101.8" cy="761.6" r="1.7" fill="none" stroke="#7bb02a" stroke-width="1.0"/>
<path d="M103.9 777.2h4.2l-2.1-3.6z" fill="#e0791a"/>
<circle cx="112.8" cy="758.7" r="1.35" fill="#e0791a"/>
<path d="M105.4 777.1h4.2l-2.1-3.6z" fill="#e0791a"/>
<circle cx="106.3" cy="766.4" r="1.35" fill="#1b9e77"/>
<path d="M114.9 777.9h4.2l-2.1-3.6z" fill="#e0791a"/>
<circle cx="102.0" cy="776.3" r="1.35" fill="#e0791a"/>
<path d="M101.7 750.2h4.2l-2.1-3.6z" fill="#e0791a"/>
<circle cx="105.5" cy="771.1" r="1.35" fill="#e0791a"/>
<path d="M116.2 773.8h4.2l-2.1-3.6z" fill="#e0791a"/>
<path d="M94.6 749.0h4.2l-2.1-3.6z" fill="#e0791a"/>
<circle cx="96.3" cy="773.5" r="1.35" fill="#e0791a"/>
<circle cx="103.5" cy="754.8" r="1.35" fill="#7bb02a"/>
<path d="M110.2 753.5h4.2l-2.1-3.6z" fill="#e0791a"/>
<circle cx="98.6" cy="775.2" r="1.35" fill="#e0791a"/>
<circle cx="109.5" cy="774.4" r="1.35" fill="#e0791a"/>
<path d="M94.3 772.0h4.2l-2.1-3.6z" fill="#1b9e77"/>
<path d="M111.2 768.1h4.2l-2.1-3.6z" fill="#e0791a"/>
<circle cx="109.0" cy="744.9" r="1.7" fill="none" stroke="#8680cc" stroke-width="1.0"/>
<path d="M127.6 777.6h4.2l-2.1-3.6z" fill="#e0791a"/>
<path d="M118.1 760.4h4.2l-2.1-3.6z" fill="#e0791a"/>
<circle cx="103.2" cy="762.4" r="1.35" fill="#e0791a"/>
<path d="M103.7 770.2h4.2l-2.1-3.6z" fill="#e0791a"/>
<path d="M104.0 764.6h4.2l-2.1-3.6z" fill="#e0791a"/>
<circle cx="95.4" cy="734.6" r="1.35" fill="#e0791a"/>
<circle cx="103.3" cy="769.8" r="1.35" fill="#e0791a"/>
<circle cx="107.3" cy="761.1" r="1.35" fill="#e0791a"/>
<path d="M110.8 742.8h4.4M113.0 740.6v4.4" stroke="#1b9e77" stroke-width="1.1"/>
<circle cx="134.4" cy="745.2" r="1.35" fill="#e0791a"/>
<path d="M100.4 770.2h4.2l-2.1-3.6z" fill="#1b9e77"/>
<path d="M106.3 751.2h4.2l-2.1-3.6z" fill="#e0791a"/>
<path d="M111.6 757.8h4.2l-2.1-3.6z" fill="#e6ab02"/>
<circle cx="117.4" cy="768.4" r="1.35" fill="#1b9e77"/>
<path d="M106.7 754.2h4.2l-2.1-3.6z" fill="#e0791a"/>
<circle cx="95.6" cy="749.2" r="1.35" fill="#e0791a"/>
<circle cx="101.0" cy="773.7" r="1.7" fill="none" stroke="#7bb02a" stroke-width="1.0"/>
<circle cx="118.5" cy="772.3" r="1.35" fill="#a6761d"/>
<circle cx="106.8" cy="771.6" r="1.35" fill="#e0791a"/>
<path d="M115.9 765.7h4.2l-2.1-3.6z" fill="#e0791a"/>
<path d="M127.2 770.1h4.2l-2.1-3.6z" fill="#e0791a"/>
<circle cx="129.9" cy="760.5" r="1.35" fill="#e0791a"/>
<path d="M108.3 767.0h4.2l-2.1-3.6z" fill="#e0791a"/>
<circle cx="108.4" cy="758.0" r="1.7" fill="none" stroke="#e5408f" stroke-width="1.0"/>
<circle cx="109.8" cy="732.4" r="1.35" fill="#e6ab02"/>
<path d="M93.6 760.2h4.2l-2.1-3.6z" fill="#e0791a"/>
<circle cx="114.1" cy="757.7" r="1.35" fill="#a6761d"/>
<path d="M107.3 745.8h4.2l-2.1-3.6z" fill="#e0791a"/>
<path d="M102.7 766.5h4.2l-2.1-3.6z" fill="#e0791a"/>
<path d="M102.8 769.9h4.2l-2.1-3.6z" fill="#1b9e77"/>
<circle cx="108.5" cy="760.9" r="1.35" fill="#e0791a"/>
<circle cx="103.1" cy="776.1" r="1.7" fill="none" stroke="#e5408f" stroke-width="1.0"/>
<path d="M94.5 772.7h4.2l-2.1-3.6z" fill="#e0791a"/>
<circle cx="119.0" cy="772.9" r="1.35" fill="#e0791a"/>
<path d="M101.5 776.8h4.2l-2.1-3.6z" fill="#e0791a"/>
<circle cx="100.8" cy="745.4" r="1.35" fill="#e0791a"/>
<path d="M101.4 769.3h4.2l-2.1-3.6z" fill="#e0791a"/>
<path d="M97.7 770.3h4.2l-2.1-3.6z" fill="#e6ab02"/>
<path d="M94.3 769.1h4.2l-2.1-3.6z" fill="#e6ab02"/>
<path d="M116.8 764.2h4.2l-2.1-3.6z" fill="#e0791a"/>
<circle cx="98.2" cy="771.1" r="1.35" fill="#e0791a"/>
<circle cx="112.6" cy="772.0" r="1.35" fill="#e0791a"/>
<path d="M98.6 755.0h4.2l-2.1-3.6z" fill="#e0791a"/>
<circle cx="97.5" cy="747.8" r="1.35" fill="#e5408f"/>
<path d="M109.3 768.6h4.2l-2.1-3.6z" fill="#e0791a"/>
<path d="M134.0 766.5h4.2l-2.1-3.6z" fill="#e0791a"/>
<circle cx="110.0" cy="766.1" r="1.35" fill="#a6761d"/>
<circle cx="104.7" cy="773.6" r="1.35" fill="#e0791a"/>
<circle cx="111.0" cy="757.8" r="1.7" fill="none" stroke="#e5408f" stroke-width="1.0"/>
<circle cx="95.9" cy="767.7" r="1.7" fill="none" stroke="#e5408f" stroke-width="1.0"/>
<circle cx="97.7" cy="757.2" r="1.7" fill="none" stroke="#8680cc" stroke-width="1.0"/>
<path d="M105.7 770.0h4.2l-2.1-3.6z" fill="#e0791a"/>
<path d="M117.8 776.6h4.2l-2.1-3.6z" fill="#e0791a"/>
<path d="M97.9 766.0h4.2l-2.1-3.6z" fill="#e0791a"/>
<path d="M111.4 767.2h4.2l-2.1-3.6z" fill="#e0791a"/>
<path d="M104.6 773.9h4.2l-2.1-3.6z" fill="#e0791a"/>
<path d="M107.5 771.6h4.2l-2.1-3.6z" fill="#e0791a"/>
<circle cx="100.4" cy="753.3" r="1.35" fill="#e0791a"/>
<path d="M125.2 762.1h4.2l-2.1-3.6z" fill="#e0791a"/>
<circle cx="96.7" cy="770.3" r="1.35" fill="#e6ab02"/>
<circle cx="115.8" cy="741.1" r="1.35" fill="#e0791a"/>
<circle cx="104.1" cy="760.4" r="1.35" fill="#e0791a"/>
<path d="M93.1 756.4h4.2l-2.1-3.6z" fill="#e0791a"/>
<circle cx="99.4" cy="766.0" r="1.7" fill="none" stroke="#8680cc" stroke-width="1.0"/>
<circle cx="115.2" cy="765.4" r="1.35" fill="#e0791a"/>
<circle cx="104.4" cy="766.3" r="1.35" fill="#1b9e77"/>
<path d="M114.4 776.2h4.2l-2.1-3.6z" fill="#e0791a"/>
<circle cx="122.9" cy="744.2" r="1.35" fill="#e0791a"/>
<path d="M107.1 753.9h4.2l-2.1-3.6z" fill="#e6ab02"/>
<path d="M112.8 775.0h4.2l-2.1-3.6z" fill="#e0791a"/>
<path d="M118.1 723.7h4.2l-2.1-3.6z" fill="#e6ab02"/>
<path d="M95.4 756.2h4.2l-2.1-3.6z" fill="#e0791a"/>
<path d="M96.1 766.1h4.2l-2.1-3.6z" fill="#e0791a"/>
<path d="M102.0 765.0h4.2l-2.1-3.6z" fill="#e0791a"/>
<circle cx="109.5" cy="738.6" r="1.35" fill="#e0791a"/>
<circle cx="134.2" cy="764.3" r="1.7" fill="none" stroke="#e5408f" stroke-width="1.0"/>
<path d="M93.4 777.3h4.2l-2.1-3.6z" fill="#1b9e77"/>
<circle cx="95.7" cy="772.4" r="1.35" fill="#e0791a"/>
<circle cx="97.2" cy="776.1" r="1.35" fill="#e0791a"/>
<path d="M99.4 758.2h4.2l-2.1-3.6z" fill="#e0791a"/>
<circle cx="106.4" cy="774.9" r="1.35" fill="#e0791a"/>
<path d="M124.5 760.7h4.2l-2.1-3.6z" fill="#e0791a"/>
<circle cx="95.7" cy="776.4" r="1.35" fill="#e0791a"/>
<path d="M105.2 777.2h4.2l-2.1-3.6z" fill="#e0791a"/>
<circle cx="132.7" cy="770.2" r="1.35" fill="#a6761d"/>
<circle cx="120.1" cy="744.8" r="1.35" fill="#e0791a"/>
<circle cx="101.3" cy="761.4" r="1.35" fill="#e0791a"/>
<circle cx="96.6" cy="746.4" r="1.35" fill="#e0791a"/>
<path d="M112.9 741.4h4.2l-2.1-3.6z" fill="#e6ab02"/>
<circle cx="96.7" cy="766.4" r="1.35" fill="#e0791a"/>
<path d="M93.2 773.8h4.2l-2.1-3.6z" fill="#e5408f"/>
<circle cx="108.3" cy="759.3" r="1.35" fill="#a6761d"/>
<path d="M97.7 774.0h4.2l-2.1-3.6z" fill="#e0791a"/>
<circle cx="103.7" cy="754.1" r="1.35" fill="#e0791a"/>
<path d="M106.6 764.1h4.2l-2.1-3.6z" fill="#e0791a"/>
<path d="M98.1 758.2h4.2l-2.1-3.6z" fill="#e0791a"/>
<circle cx="113.8" cy="769.8" r="1.35" fill="#a6761d"/>
<path d="M116.1 765.9h4.2l-2.1-3.6z" fill="#e0791a"/>
<path d="M110.9 762.7h4.2l-2.1-3.6z" fill="#e0791a"/>
<circle cx="101.2" cy="746.9" r="1.35" fill="#e6ab02"/>
<path d="M102.0 747.7h4.2l-2.1-3.6z" fill="#e0791a"/>
<path d="M119.2 776.9h4.2l-2.1-3.6z" fill="#e0791a"/>
<path d="M99.1 765.8h4.2l-2.1-3.6z" fill="#e0791a"/>
<circle cx="107.0" cy="746.3" r="1.7" fill="none" stroke="#e5408f" stroke-width="1.0"/>
<circle cx="114.7" cy="756.9" r="1.35" fill="#a6761d"/>
<path d="M110.0 765.0h4.2l-2.1-3.6z" fill="#e0791a"/>
<circle cx="102.8" cy="775.9" r="1.35" fill="#7bb02a"/>
<path d="M93.6 767.7h4.2l-2.1-3.6z" fill="#e0791a"/>
<path d="M108.3 773.2h4.2l-2.1-3.6z" fill="#e0791a"/>
<path d="M95.1 775.4h4.2l-2.1-3.6z" fill="#e0791a"/>
<circle cx="120.8" cy="755.1" r="1.35" fill="#a6761d"/>
<circle cx="118.6" cy="764.0" r="1.35" fill="#e0791a"/>
<path d="M95.3 766.4h4.2l-2.1-3.6z" fill="#e0791a"/>
<circle cx="116.5" cy="744.9" r="1.35" fill="#e0791a"/>
<circle cx="99.9" cy="752.4" r="1.35" fill="#e0791a"/>
<path d="M107.8 772.6h4.2l-2.1-3.6z" fill="#e0791a"/>
<path d="M114.4 758.9h4.2l-2.1-3.6z" fill="#e0791a"/>
<circle cx="112.0" cy="774.0" r="1.35" fill="#e5408f"/>
<path d="M107.7 731.8h4.2l-2.1-3.6z" fill="#e6ab02"/>
<circle cx="116.0" cy="764.9" r="1.35" fill="#e0791a"/>
<path d="M119.6 756.6h4.2l-2.1-3.6z" fill="#e6ab02"/>
<path d="M97.2 762.1h4.4M99.4 759.9v4.4" stroke="#1b9e77" stroke-width="1.1"/>
<circle cx="124.8" cy="750.6" r="1.7" fill="none" stroke="#e5408f" stroke-width="1.0"/>
<circle cx="115.6" cy="760.9" r="1.35" fill="#e0791a"/>
<circle cx="118.0" cy="759.4" r="1.35" fill="#e6ab02"/>
<circle cx="117.2" cy="772.7" r="1.35" fill="#e6ab02"/>
<path d="M102.3 775.2h4.2l-2.1-3.6z" fill="#e0791a"/>
<path d="M105.0 750.5h4.2l-2.1-3.6z" fill="#1b9e77"/>
<circle cx="106.8" cy="773.3" r="1.35" fill="#e0791a"/>
<circle cx="103.5" cy="776.1" r="1.35" fill="#1b9e77"/>
<path d="M126.5 775.4h4.2l-2.1-3.6z" fill="#e0791a"/>
<path d="M103.6 777.7h4.2l-2.1-3.6z" fill="#e0791a"/>
<circle cx="111.4" cy="773.7" r="1.7" fill="none" stroke="#8680cc" stroke-width="1.0"/>
<path d="M111.0 770.9h4.2l-2.1-3.6z" fill="#e0791a"/>
<circle cx="121.9" cy="766.1" r="1.35" fill="#e0791a"/>
<path d="M106.2 761.1h4.4M108.4 758.9v4.4" stroke="#1b9e77" stroke-width="1.1"/>
<path d="M95.2 741.1h4.2l-2.1-3.6z" fill="#e0791a"/>
<circle cx="95.4" cy="762.5" r="1.35" fill="#1b9e77"/>
<circle cx="121.1" cy="564.8" r="1.7" fill="none" stroke="#bba43a" stroke-width="1.0"/>
<circle cx="143.4" cy="567.5" r="1.35" fill="#e6ab02"/>
<circle cx="98.0" cy="580.2" r="1.7" fill="none" stroke="#787878" stroke-width="1.0"/>
<circle cx="104.2" cy="592.5" r="1.7" fill="none" stroke="#787878" stroke-width="1.0"/>
<circle cx="193.4" cy="594.4" r="1.35" fill="#d63a3a"/>
<circle cx="229.2" cy="589.4" r="1.7" fill="none" stroke="#787878" stroke-width="1.0"/>
<circle cx="168.4" cy="603.2" r="1.7" fill="none" stroke="#bba43a" stroke-width="1.0"/>
<circle cx="108.0" cy="610.2" r="1.35" fill="#e0791a"/>
<circle cx="101.1" cy="621.7" r="1.7" fill="none" stroke="#7272cc" stroke-width="1.0"/>
<path d="M107.9 625.1h4.2l-2.1-3.6z" fill="#e0791a"/>
<path d="M98.8 628.5h4.4M101.0 626.3v4.4" stroke="#1b9e77" stroke-width="1.1"/>
<circle cx="103.0" cy="628.8" r="1.35" fill="#1b9e77"/>
<circle cx="191.5" cy="631.7" r="1.7" fill="none" stroke="#bba43a" stroke-width="1.0"/>
<circle cx="238.8" cy="632.8" r="1.35" fill="#e0791a"/>
<path d="M93.8 517.5h4.4M96.0 515.3v4.4" stroke="#1b9e77" stroke-width="1.1"/>
<circle cx="138.4" cy="509.8" r="1.35" fill="#1b9e77"/>
<circle cx="290.6" cy="559.4" r="1.35" fill="#a6761d"/>
<circle cx="289.8" cy="689.7" r="1.35" fill="#c8761e"/>
<circle cx="251.1" cy="691.2" r="1.35" fill="#c8761e"/>
<circle cx="252.5" cy="692.0" r="1.35" fill="#c8761e"/>
<path d="M123.6 638.0h4.4M125.8 635.8v4.4" stroke="#e0791a" stroke-width="1.1"/>
<circle cx="150.3" cy="650.7" r="1.35" fill="#a6761d"/>
<path d="M97.8 656.6h4.2l-2.1-3.6z" fill="#e0791a"/>
<circle cx="113.1" cy="657.0" r="1.35" fill="#e6ab02"/>
<circle cx="127.2" cy="655.8" r="1.7" fill="none" stroke="#8680cc" stroke-width="1.0"/>
<circle cx="113.1" cy="661.6" r="1.7" fill="none" stroke="#8680cc" stroke-width="1.0"/>
<circle cx="125.8" cy="661.1" r="1.7" fill="none" stroke="#8680cc" stroke-width="1.0"/>
<circle cx="93.7" cy="661.6" r="1.7" fill="none" stroke="#787878" stroke-width="1.0"/>
<path d="M96.3 661.8h4l-2-3.4z" fill="none" stroke="#e5408f" stroke-width="0.85"/>
<circle cx="93.2" cy="668.0" r="1.7" fill="none" stroke="#787878" stroke-width="1.0"/>
<circle cx="93.2" cy="668.5" r="1.35" fill="#787878"/>
<path d="M97.8 665.4h4.2l-2.1-3.6z" fill="#e0791a"/>
<circle cx="122.6" cy="669.2" r="1.7" fill="none" stroke="#7bb02a" stroke-width="1.0"/>
<path d="M123.8 667.3h4.4M126.0 665.1v4.4" stroke="#e6ab02" stroke-width="1.1"/>
<path d="M97.0 673.6h4.4M99.2 671.4v4.4" stroke="#1b9e77" stroke-width="1.1"/>
<path d="M100.9 675.8h4.2l-2.1-3.6z" fill="#e0791a"/>
<path d="M95.0 678.8h4.2l-2.1-3.6z" fill="#e0791a"/>
<path d="M103.1 680.9h4.2l-2.1-3.6z" fill="#e0791a"/>
<path d="M99.6 684.8h4.2l-2.1-3.6z" fill="#e0791a"/>
<circle cx="106.0" cy="681.9" r="1.7" fill="none" stroke="#8680cc" stroke-width="1.0"/>
<circle cx="112.7" cy="682.8" r="1.7" fill="none" stroke="#8680cc" stroke-width="1.0"/>
<circle cx="127.7" cy="683.1" r="1.35" fill="#a6761d"/>
<circle cx="139.2" cy="682.4" r="1.35" fill="#1b9e77"/>
<path d="M141.6 680.0h4.4M143.8 677.8v4.4" stroke="#e0791a" stroke-width="1.1"/>
<circle cx="134.1" cy="687.7" r="1.35" fill="#e0791a"/>
<circle cx="158.8" cy="684.2" r="1.7" fill="none" stroke="#e0791a" stroke-width="1.0"/>
<circle cx="129.3" cy="694.4" r="1.7" fill="none" stroke="#8680cc" stroke-width="1.0"/>
<circle cx="150.1" cy="692.1" r="1.7" fill="none" stroke="#8680cc" stroke-width="1.0"/>
<path d="M109.3 690.9h4.4M111.5 688.7v4.4" stroke="#8680cc" stroke-width="1.1"/>
<circle cx="94.6" cy="700.4" r="1.7" fill="none" stroke="#e0791a" stroke-width="1.0"/>
<path d="M152.5 700.3l3.4 3.4M152.5 703.7l3.4-3.4" stroke="#e0791a" stroke-width="0.95"/>
<path d="M118.1 706.6h4.4M120.3 704.4v4.4" stroke="#1b9e77" stroke-width="1.1"/>
<path d="M133.3 703.4h4l-2-3.4z" fill="none" stroke="#787878" stroke-width="0.85"/>
<circle cx="130.7" cy="708.9" r="1.7" fill="none" stroke="#8680cc" stroke-width="1.0"/>
<path d="M167.2 707.3h4l-2-3.4z" fill="none" stroke="#8680cc" stroke-width="0.85"/>
<path d="M170.5 707.8h4.4M172.7 705.6v4.4" stroke="#e0791a" stroke-width="1.1"/>
<path d="M165.8 710.8h4.4M168.0 708.6v4.4" stroke="#1b9e77" stroke-width="1.1"/>
<circle cx="171.5" cy="702.0" r="1.35" fill="#a6761d"/>
<circle cx="186.5" cy="714.7" r="1.35" fill="#7bb02a"/>
<path d="M134.0 716.5h4.4M136.2 714.3v4.4" stroke="#1b9e77" stroke-width="1.1"/>
<circle cx="150.1" cy="711.2" r="1.7" fill="none" stroke="#1b9e77" stroke-width="1.0"/>
<circle cx="147.3" cy="714.2" r="1.35" fill="#e0791a"/>
<circle cx="142.0" cy="710.8" r="1.35" fill="#e0791a"/>
<circle cx="212.4" cy="701.1" r="1.35" fill="#e0791a"/>
<circle cx="242.7" cy="703.4" r="1.35" fill="#e0791a"/>
<path d="M261.2 706.9h4.4M263.4 704.7v4.4" stroke="#1b9e77" stroke-width="1.1"/>
<circle cx="269.7" cy="708.0" r="1.35" fill="#c8761e"/>
<circle cx="278.9" cy="708.5" r="1.35" fill="#c8761e"/>
<circle cx="231.1" cy="714.2" r="1.35" fill="#787878"/>
<circle cx="205.0" cy="718.9" r="1.7" fill="none" stroke="#1b9e77" stroke-width="1.0"/>
<path d="M203.3 718.0h4.4M205.5 715.8v4.4" stroke="#1b9e77" stroke-width="1.1"/>
<path d="M220.1 722.3h4.4M222.3 720.1v4.4" stroke="#e0791a" stroke-width="1.1"/>
<circle cx="215.9" cy="722.3" r="1.35" fill="#e0791a"/>
<circle cx="205.0" cy="725.1" r="1.35" fill="#e0791a"/>
<circle cx="231.6" cy="724.6" r="1.35" fill="#e0791a"/>
<circle cx="224.6" cy="729.3" r="1.7" fill="none" stroke="#bba43a" stroke-width="1.0"/>
<circle cx="210.8" cy="730.4" r="1.35" fill="#e0791a"/>
<circle cx="254.7" cy="725.3" r="1.35" fill="#e0791a"/>
<circle cx="258.1" cy="729.7" r="1.35" fill="#e0791a"/>
<circle cx="247.7" cy="729.7" r="1.7" fill="none" stroke="#d63a3a" stroke-width="1.0"/>
<circle cx="247.3" cy="732.0" r="1.35" fill="#d63a3a"/>
<circle cx="265.1" cy="732.0" r="1.35" fill="#787878"/>
<circle cx="241.3" cy="742.0" r="1.35" fill="#787878"/>
<path d="M216.0 744.3h4.4M218.2 742.1v4.4" stroke="#e0791a" stroke-width="1.1"/>
<circle cx="257.0" cy="750.0" r="1.7" fill="none" stroke="#8680cc" stroke-width="1.0"/>
<circle cx="266.2" cy="754.2" r="1.7" fill="none" stroke="#8680cc" stroke-width="1.0"/>
<circle cx="282.4" cy="743.6" r="1.7" fill="none" stroke="#8680cc" stroke-width="1.0"/>
<circle cx="287.5" cy="740.8" r="1.7" fill="none" stroke="#bba43a" stroke-width="1.0"/>
<circle cx="255.8" cy="755.1" r="1.7" fill="none" stroke="#8680cc" stroke-width="1.0"/>
<path d="M259.6 750.3h4l-2-3.4z" fill="none" stroke="#787878" stroke-width="0.85"/>
<circle cx="275.0" cy="752.8" r="1.7" fill="none" stroke="#bba43a" stroke-width="1.0"/>
<circle cx="297.4" cy="741.3" r="1.35" fill="#787878"/>
<path d="M228.9 751.2h4.4M231.1 749.0v4.4" stroke="#1b9e77" stroke-width="1.1"/>
<circle cx="237.3" cy="752.8" r="1.35" fill="#e0791a"/>
<path d="M240.0 757.9h4l-2-3.4z" fill="none" stroke="#e0791a" stroke-width="0.85"/>
<circle cx="230.0" cy="756.5" r="1.7" fill="none" stroke="#8680cc" stroke-width="1.0"/>
<circle cx="262.7" cy="760.4" r="1.7" fill="none" stroke="#e0791a" stroke-width="1.0"/>
<path d="M284.3 757.0h4.4M286.5 754.8v4.4" stroke="#1b9e77" stroke-width="1.1"/>
<circle cx="287.0" cy="761.6" r="1.7" fill="none" stroke="#e5408f" stroke-width="1.0"/>
<path d="M227.1 762.7h4.4M229.3 760.5v4.4" stroke="#1b9e77" stroke-width="1.1"/>
<path d="M232.4 768.5h4.4M234.6 766.3v4.4" stroke="#1b9e77" stroke-width="1.1"/>
<circle cx="230.4" cy="771.3" r="1.7" fill="none" stroke="#8680cc" stroke-width="1.0"/>
<circle cx="269.7" cy="766.9" r="1.7" fill="none" stroke="#bba43a" stroke-width="1.0"/>
<circle cx="276.6" cy="773.6" r="1.7" fill="none" stroke="#8680cc" stroke-width="1.0"/>
<circle cx="281.2" cy="772.0" r="1.7" fill="none" stroke="#8680cc" stroke-width="1.0"/>
<circle cx="293.5" cy="766.2" r="1.7" fill="none" stroke="#8680cc" stroke-width="1.0"/>
<path d="M287.8 771.1h4l-2-3.4z" fill="none" stroke="#787878" stroke-width="0.85"/>
<circle cx="270.8" cy="775.5" r="1.7" fill="none" stroke="#bba43a" stroke-width="1.0"/>
<circle cx="249.6" cy="771.3" r="1.35" fill="#787878"/>
<path d="M222.0 763.9h4.4M224.2 761.7v4.4" stroke="#e0791a" stroke-width="1.1"/>
<circle cx="346.9" cy="713.1" r="1.35" fill="#a6761d"/>
<circle cx="318.5" cy="728.8" r="1.7" fill="none" stroke="#787878" stroke-width="1.0"/>
<path d="M320.4 729.0h4l-2-3.4z" fill="none" stroke="#e0791a" stroke-width="0.85"/>
<circle cx="323.1" cy="746.6" r="1.7" fill="none" stroke="#7272cc" stroke-width="1.0"/>
<path d="M325.2 753.9h4.2l-2.1-3.6z" fill="#c8761e"/>
<path d="M337.2 748.5h4.2l-2.1-3.6z" fill="#c8761e"/>
<circle cx="364.2" cy="750.5" r="1.7" fill="none" stroke="#bba43a" stroke-width="1.0"/>
<circle cx="340.4" cy="763.4" r="1.35" fill="#787878"/>
<path d="M359.1 765.9h4.2l-2.1-3.6z" fill="#c8761e"/>
<path d="M361.4 773.5h4.2l-2.1-3.6z" fill="#c8761e"/>
<circle cx="360.5" cy="773.6" r="1.7" fill="none" stroke="#e5408f" stroke-width="1.0"/>
<path d="M396.1 765.4h4.2l-2.1-3.6z" fill="#c8761e"/>
<circle cx="457.0" cy="725.8" r="1.35" fill="#d63a3a"/>
<circle cx="435.1" cy="737.1" r="1.7" fill="none" stroke="#787878" stroke-width="1.0"/>
<circle cx="435.8" cy="745.8" r="1.7" fill="none" stroke="#787878" stroke-width="1.0"/>
<path d="M459.7 739.5h4.2l-2.1-3.6z" fill="#c8761e"/>
<circle cx="432.9" cy="769.0" r="1.7" fill="none" stroke="#7272cc" stroke-width="1.0"/>
<circle cx="434.6" cy="770.1" r="1.7" fill="none" stroke="#7272cc" stroke-width="1.0"/>
<circle cx="241.5" cy="741.9" r="1.35" fill="#787878"/>
<path d="M216.4 744.2h4.4M218.6 742.0v4.4" stroke="#e0791a" stroke-width="1.1"/>
<circle cx="199.0" cy="746.0" r="1.7" fill="none" stroke="#7bb02a" stroke-width="1.0"/>
<circle cx="202.5" cy="750.0" r="1.7" fill="none" stroke="#7bb02a" stroke-width="1.0"/>
<circle cx="206.0" cy="748.3" r="1.7" fill="none" stroke="#8680cc" stroke-width="1.0"/>
<path d="M195.9 750.8h4l-2-3.4z" fill="none" stroke="#e0791a" stroke-width="0.85"/>
<path d="M228.6 751.4h4.4M230.8 749.2v4.4" stroke="#1b9e77" stroke-width="1.1"/>
<path d="M211.4 755.2h4.2l-2.1-3.6z" fill="#e0791a"/>
<path d="M213.5 755.2h4.2l-2.1-3.6z" fill="#e0791a"/>
<circle cx="237.7" cy="753.2" r="1.35" fill="#e0791a"/>
<circle cx="241.1" cy="756.3" r="1.7" fill="none" stroke="#e0791a" stroke-width="1.0"/>
<path d="M241.4 757.7h4l-2-3.4z" fill="none" stroke="#e0791a" stroke-width="0.85"/>
<circle cx="252.1" cy="752.9" r="1.35" fill="#e6ab02"/>
<circle cx="229.6" cy="756.7" r="1.7" fill="none" stroke="#8680cc" stroke-width="1.0"/>
<circle cx="206.0" cy="756.0" r="1.7" fill="none" stroke="#8680cc" stroke-width="1.0"/>
<circle cx="213.5" cy="759.0" r="1.35" fill="#a6761d"/>
<path d="M196.5 762.9h4l-2-3.4z" fill="none" stroke="#1b9e77" stroke-width="0.85"/>
<circle cx="200.2" cy="758.6" r="1.7" fill="none" stroke="#1b9e77" stroke-width="1.0"/>
<path d="M222.2 763.8h4.4M224.4 761.6v4.4" stroke="#e6ab02" stroke-width="1.1"/>
<path d="M227.4 762.7h4.4M229.6 760.5v4.4" stroke="#1b9e77" stroke-width="1.1"/>
<circle cx="206.5" cy="765.9" r="1.7" fill="none" stroke="#8680cc" stroke-width="1.0"/>
<path d="M209.9 767.5h4.4M212.1 765.3v4.4" stroke="#e0791a" stroke-width="1.1"/>
<path d="M232.6 768.4h4.4M234.8 766.2v4.4" stroke="#1b9e77" stroke-width="1.1"/>
<path d="M198.2 771.0h4l-2-3.4z" fill="none" stroke="#e0791a" stroke-width="0.85"/>
<circle cx="249.2" cy="771.3" r="1.35" fill="#787878"/>
<circle cx="230.2" cy="771.7" r="1.7" fill="none" stroke="#8680cc" stroke-width="1.0"/>
<circle cx="219.8" cy="769.6" r="1.35" fill="#e0791a"/>
<circle cx="215.2" cy="772.8" r="1.35" fill="#e0791a"/>
<circle cx="208.3" cy="773.6" r="1.35" fill="#e0791a"/>
<circle cx="200.2" cy="773.6" r="1.35" fill="#787878"/>
<circle cx="222.5" cy="775.9" r="1.7" fill="none" stroke="#7bb02a" stroke-width="1.0"/>
<circle cx="234.8" cy="775.4" r="1.35" fill="#7bb02a"/>
<circle cx="215.5" cy="776.8" r="1.35" fill="#e0791a"/>
</g>
<circle cx="117.2" cy="477.5" r="1.3" fill="#c8507a"/>
<ellipse cx="117.2" cy="477.5" rx="4.0" ry="4.6" fill="none" stroke="#000" stroke-width="1.9"/>
<circle cx="128" cy="492.8" r="1.3" fill="#c8507a"/>
<ellipse cx="128" cy="492.8" rx="4.0" ry="4.6" fill="none" stroke="#000" stroke-width="1.9"/>
<circle cx="193.4" cy="492.8" r="1.3" fill="#c8507a"/>
<ellipse cx="193.4" cy="492.8" rx="4.0" ry="4.6" fill="none" stroke="#000" stroke-width="1.9"/>
<circle cx="179.9" cy="515.5" r="1.3" fill="#c8507a"/>
<ellipse cx="179.9" cy="515.5" rx="4.0" ry="4.6" fill="none" stroke="#000" stroke-width="1.9"/>
<circle cx="252.2" cy="466.3" r="1.3" fill="#c8507a"/>
<ellipse cx="252.2" cy="466.3" rx="4.0" ry="4.6" fill="none" stroke="#000" stroke-width="1.9"/>
<circle cx="281.6" cy="499.6" r="1.3" fill="#c8507a"/>
<ellipse cx="281.6" cy="499.6" rx="4.0" ry="4.6" fill="none" stroke="#000" stroke-width="1.9"/>
<circle cx="349.3" cy="510.9" r="1.3" fill="#c8507a"/>
<ellipse cx="349.3" cy="510.9" rx="4.0" ry="4.6" fill="none" stroke="#000" stroke-width="1.9"/>
<circle cx="361.8" cy="499.2" r="1.3" fill="#c8507a"/>
<ellipse cx="361.8" cy="499.2" rx="4.0" ry="4.6" fill="none" stroke="#000" stroke-width="1.9"/>
<circle cx="383.8" cy="493.4" r="1.3" fill="#c8507a"/>
<ellipse cx="383.8" cy="493.4" rx="4.0" ry="4.6" fill="none" stroke="#000" stroke-width="1.9"/>
<circle cx="447.8" cy="447.5" r="1.3" fill="#c8507a"/>
<ellipse cx="447.8" cy="447.5" rx="4.0" ry="4.6" fill="none" stroke="#000" stroke-width="1.9"/>
<circle cx="240.3" cy="653.1" r="1.3" fill="#c8507a"/>
<ellipse cx="240.3" cy="653.1" rx="4.0" ry="4.6" fill="none" stroke="#000" stroke-width="1.9"/>
<circle cx="192.8" cy="675.4" r="1.3" fill="#c8507a"/>
<ellipse cx="192.8" cy="675.4" rx="4.0" ry="4.6" fill="none" stroke="#000" stroke-width="1.9"/>
<circle cx="231.1" cy="738" r="1.3" fill="#c8507a"/>
<ellipse cx="231.1" cy="738" rx="4.0" ry="4.6" fill="none" stroke="#000" stroke-width="1.9"/>
</g>
</svg>
</body></html>
